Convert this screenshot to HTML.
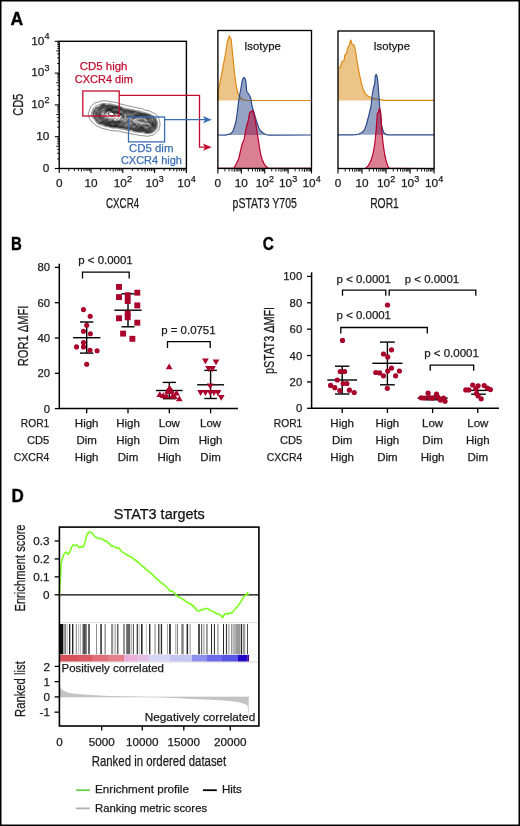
<!DOCTYPE html>
<html><head><meta charset="utf-8"><style>
html,body{margin:0;padding:0;background:#fff;}
body{width:520px;height:826px;overflow:hidden;font-family:"Liberation Sans", sans-serif;}
svg{display:block;will-change:transform;}
</style></head><body>
<svg width="520" height="826" viewBox="0 0 520 826" font-family='"Liberation Sans", sans-serif'><rect x="0.75" y="0.75" width="518.50" height="824.50" fill="none" stroke="#000" stroke-width="1.5" />
<text x="10.60" y="25.40" font-size="17.8" text-anchor="start" fill="#000" font-weight="bold" textLength="12.70" lengthAdjust="spacingAndGlyphs" stroke="#000" stroke-width="0.35">A</text>
<text x="11.00" y="250.20" font-size="17.8" text-anchor="start" fill="#000" font-weight="bold" textLength="10.80" lengthAdjust="spacingAndGlyphs" stroke="#000" stroke-width="0.35">B</text>
<text x="262.80" y="250.30" font-size="17.8" text-anchor="start" fill="#000" font-weight="bold" textLength="11.10" lengthAdjust="spacingAndGlyphs" stroke="#000" stroke-width="0.35">C</text>
<text x="11.60" y="501.60" font-size="17.8" text-anchor="start" fill="#000" font-weight="bold" textLength="12.30" lengthAdjust="spacingAndGlyphs" stroke="#000" stroke-width="0.35">D</text>
<rect x="59.20" y="41.30" width="127.20" height="127.20" fill="none" stroke="#000" stroke-width="1.4" />
<line x1="59.20" y1="168.50" x2="59.20" y2="173.10" stroke="#000" stroke-width="1.1" />
<line x1="91.00" y1="168.50" x2="91.00" y2="173.10" stroke="#000" stroke-width="1.1" />
<line x1="122.80" y1="168.50" x2="122.80" y2="173.10" stroke="#000" stroke-width="1.1" />
<line x1="154.60" y1="168.50" x2="154.60" y2="173.10" stroke="#000" stroke-width="1.1" />
<line x1="186.40" y1="168.50" x2="186.40" y2="173.10" stroke="#000" stroke-width="1.1" />
<line x1="68.77" y1="168.50" x2="68.77" y2="171.10" stroke="#000" stroke-width="0.9" />
<line x1="74.37" y1="168.50" x2="74.37" y2="171.10" stroke="#000" stroke-width="0.9" />
<line x1="78.35" y1="168.50" x2="78.35" y2="171.10" stroke="#000" stroke-width="0.9" />
<line x1="81.43" y1="168.50" x2="81.43" y2="171.70" stroke="#000" stroke-width="0.9" />
<line x1="83.95" y1="168.50" x2="83.95" y2="171.10" stroke="#000" stroke-width="0.9" />
<line x1="86.07" y1="168.50" x2="86.07" y2="171.10" stroke="#000" stroke-width="0.9" />
<line x1="87.92" y1="168.50" x2="87.92" y2="171.10" stroke="#000" stroke-width="0.9" />
<line x1="89.54" y1="168.50" x2="89.54" y2="171.10" stroke="#000" stroke-width="0.9" />
<line x1="100.57" y1="168.50" x2="100.57" y2="171.10" stroke="#000" stroke-width="0.9" />
<line x1="106.17" y1="168.50" x2="106.17" y2="171.10" stroke="#000" stroke-width="0.9" />
<line x1="110.15" y1="168.50" x2="110.15" y2="171.10" stroke="#000" stroke-width="0.9" />
<line x1="113.23" y1="168.50" x2="113.23" y2="171.70" stroke="#000" stroke-width="0.9" />
<line x1="115.75" y1="168.50" x2="115.75" y2="171.10" stroke="#000" stroke-width="0.9" />
<line x1="117.87" y1="168.50" x2="117.87" y2="171.10" stroke="#000" stroke-width="0.9" />
<line x1="119.72" y1="168.50" x2="119.72" y2="171.10" stroke="#000" stroke-width="0.9" />
<line x1="121.34" y1="168.50" x2="121.34" y2="171.10" stroke="#000" stroke-width="0.9" />
<line x1="132.37" y1="168.50" x2="132.37" y2="171.10" stroke="#000" stroke-width="0.9" />
<line x1="137.97" y1="168.50" x2="137.97" y2="171.10" stroke="#000" stroke-width="0.9" />
<line x1="141.95" y1="168.50" x2="141.95" y2="171.10" stroke="#000" stroke-width="0.9" />
<line x1="145.03" y1="168.50" x2="145.03" y2="171.70" stroke="#000" stroke-width="0.9" />
<line x1="147.55" y1="168.50" x2="147.55" y2="171.10" stroke="#000" stroke-width="0.9" />
<line x1="149.67" y1="168.50" x2="149.67" y2="171.10" stroke="#000" stroke-width="0.9" />
<line x1="151.52" y1="168.50" x2="151.52" y2="171.10" stroke="#000" stroke-width="0.9" />
<line x1="153.14" y1="168.50" x2="153.14" y2="171.10" stroke="#000" stroke-width="0.9" />
<line x1="164.17" y1="168.50" x2="164.17" y2="171.10" stroke="#000" stroke-width="0.9" />
<line x1="169.77" y1="168.50" x2="169.77" y2="171.10" stroke="#000" stroke-width="0.9" />
<line x1="173.75" y1="168.50" x2="173.75" y2="171.10" stroke="#000" stroke-width="0.9" />
<line x1="176.83" y1="168.50" x2="176.83" y2="171.70" stroke="#000" stroke-width="0.9" />
<line x1="179.35" y1="168.50" x2="179.35" y2="171.10" stroke="#000" stroke-width="0.9" />
<line x1="181.47" y1="168.50" x2="181.47" y2="171.10" stroke="#000" stroke-width="0.9" />
<line x1="183.32" y1="168.50" x2="183.32" y2="171.10" stroke="#000" stroke-width="0.9" />
<line x1="184.94" y1="168.50" x2="184.94" y2="171.10" stroke="#000" stroke-width="0.9" />
<line x1="54.80" y1="168.50" x2="59.20" y2="168.50" stroke="#000" stroke-width="1.1" />
<line x1="54.80" y1="136.70" x2="59.20" y2="136.70" stroke="#000" stroke-width="1.1" />
<line x1="54.80" y1="104.90" x2="59.20" y2="104.90" stroke="#000" stroke-width="1.1" />
<line x1="54.80" y1="73.10" x2="59.20" y2="73.10" stroke="#000" stroke-width="1.1" />
<line x1="54.80" y1="41.30" x2="59.20" y2="41.30" stroke="#000" stroke-width="1.1" />
<line x1="57.20" y1="158.93" x2="59.20" y2="158.93" stroke="#000" stroke-width="0.9" />
<line x1="57.20" y1="153.33" x2="59.20" y2="153.33" stroke="#000" stroke-width="0.9" />
<line x1="57.20" y1="149.35" x2="59.20" y2="149.35" stroke="#000" stroke-width="0.9" />
<line x1="56.20" y1="146.27" x2="59.20" y2="146.27" stroke="#000" stroke-width="0.9" />
<line x1="57.20" y1="143.75" x2="59.20" y2="143.75" stroke="#000" stroke-width="0.9" />
<line x1="57.20" y1="141.63" x2="59.20" y2="141.63" stroke="#000" stroke-width="0.9" />
<line x1="57.20" y1="139.78" x2="59.20" y2="139.78" stroke="#000" stroke-width="0.9" />
<line x1="57.20" y1="138.16" x2="59.20" y2="138.16" stroke="#000" stroke-width="0.9" />
<line x1="57.20" y1="127.13" x2="59.20" y2="127.13" stroke="#000" stroke-width="0.9" />
<line x1="57.20" y1="121.53" x2="59.20" y2="121.53" stroke="#000" stroke-width="0.9" />
<line x1="57.20" y1="117.55" x2="59.20" y2="117.55" stroke="#000" stroke-width="0.9" />
<line x1="56.20" y1="114.47" x2="59.20" y2="114.47" stroke="#000" stroke-width="0.9" />
<line x1="57.20" y1="111.95" x2="59.20" y2="111.95" stroke="#000" stroke-width="0.9" />
<line x1="57.20" y1="109.83" x2="59.20" y2="109.83" stroke="#000" stroke-width="0.9" />
<line x1="57.20" y1="107.98" x2="59.20" y2="107.98" stroke="#000" stroke-width="0.9" />
<line x1="57.20" y1="106.36" x2="59.20" y2="106.36" stroke="#000" stroke-width="0.9" />
<line x1="57.20" y1="95.33" x2="59.20" y2="95.33" stroke="#000" stroke-width="0.9" />
<line x1="57.20" y1="89.73" x2="59.20" y2="89.73" stroke="#000" stroke-width="0.9" />
<line x1="57.20" y1="85.75" x2="59.20" y2="85.75" stroke="#000" stroke-width="0.9" />
<line x1="56.20" y1="82.67" x2="59.20" y2="82.67" stroke="#000" stroke-width="0.9" />
<line x1="57.20" y1="80.15" x2="59.20" y2="80.15" stroke="#000" stroke-width="0.9" />
<line x1="57.20" y1="78.03" x2="59.20" y2="78.03" stroke="#000" stroke-width="0.9" />
<line x1="57.20" y1="76.18" x2="59.20" y2="76.18" stroke="#000" stroke-width="0.9" />
<line x1="57.20" y1="74.56" x2="59.20" y2="74.56" stroke="#000" stroke-width="0.9" />
<line x1="57.20" y1="63.53" x2="59.20" y2="63.53" stroke="#000" stroke-width="0.9" />
<line x1="57.20" y1="57.93" x2="59.20" y2="57.93" stroke="#000" stroke-width="0.9" />
<line x1="57.20" y1="53.95" x2="59.20" y2="53.95" stroke="#000" stroke-width="0.9" />
<line x1="56.20" y1="50.87" x2="59.20" y2="50.87" stroke="#000" stroke-width="0.9" />
<line x1="57.20" y1="48.35" x2="59.20" y2="48.35" stroke="#000" stroke-width="0.9" />
<line x1="57.20" y1="46.23" x2="59.20" y2="46.23" stroke="#000" stroke-width="0.9" />
<line x1="57.20" y1="44.38" x2="59.20" y2="44.38" stroke="#000" stroke-width="0.9" />
<line x1="57.20" y1="42.76" x2="59.20" y2="42.76" stroke="#000" stroke-width="0.9" />
<text x="49.30" y="171.70" font-size="11.8" text-anchor="end" fill="#1a1a1a" stroke="#1a1a1a" stroke-width="0.25" >0</text>
<text x="49.30" y="139.90" font-size="11.8" text-anchor="end" fill="#1a1a1a" stroke="#1a1a1a" stroke-width="0.25" >10</text>
<text x="31.17" y="108.10" font-size="11.8" text-anchor="start" fill="#1a1a1a" stroke="#1a1a1a" stroke-width="0.25" >10</text>
<text x="44.50" y="102.80" font-size="9.0" text-anchor="start" fill="#1a1a1a" stroke="#1a1a1a" stroke-width="0.25" >2</text>
<text x="31.17" y="76.30" font-size="11.8" text-anchor="start" fill="#1a1a1a" stroke="#1a1a1a" stroke-width="0.25" >10</text>
<text x="44.50" y="71.00" font-size="9.0" text-anchor="start" fill="#1a1a1a" stroke="#1a1a1a" stroke-width="0.25" >3</text>
<text x="31.17" y="44.50" font-size="11.8" text-anchor="start" fill="#1a1a1a" stroke="#1a1a1a" stroke-width="0.25" >10</text>
<text x="44.50" y="39.20" font-size="9.0" text-anchor="start" fill="#1a1a1a" stroke="#1a1a1a" stroke-width="0.25" >4</text>
<text x="59.20" y="187.20" font-size="11.8" text-anchor="middle" fill="#1a1a1a" stroke="#1a1a1a" stroke-width="0.25" >0</text>
<text x="91.00" y="187.20" font-size="11.8" text-anchor="middle" fill="#1a1a1a" stroke="#1a1a1a" stroke-width="0.25" >10</text>
<text x="113.74" y="187.20" font-size="11.8" text-anchor="start" fill="#1a1a1a" stroke="#1a1a1a" stroke-width="0.25" >10</text>
<text x="127.06" y="181.90" font-size="9.0" text-anchor="start" fill="#1a1a1a" stroke="#1a1a1a" stroke-width="0.25" >2</text>
<text x="145.54" y="187.20" font-size="11.8" text-anchor="start" fill="#1a1a1a" stroke="#1a1a1a" stroke-width="0.25" >10</text>
<text x="158.86" y="181.90" font-size="9.0" text-anchor="start" fill="#1a1a1a" stroke="#1a1a1a" stroke-width="0.25" >3</text>
<text x="177.34" y="187.20" font-size="11.8" text-anchor="start" fill="#1a1a1a" stroke="#1a1a1a" stroke-width="0.25" >10</text>
<text x="190.66" y="181.90" font-size="9.0" text-anchor="start" fill="#1a1a1a" stroke="#1a1a1a" stroke-width="0.25" >4</text>
<text x="122.60" y="208.40" font-size="14" text-anchor="middle" fill="#1a1a1a" stroke="#1a1a1a" stroke-width="0.25" textLength="33.20" lengthAdjust="spacingAndGlyphs" >CXCR4</text>
<text x="22.60" y="104.80" font-size="14" text-anchor="middle" fill="#1a1a1a" stroke="#1a1a1a" stroke-width="0.25" textLength="22.00" lengthAdjust="spacingAndGlyphs" transform="rotate(-90 22.60 104.80)" >CD5</text>
<g fill="none" stroke="#111" stroke-width="0.5"><path d="M147.50,136.26 L146.80,136.25 L146.25,136.18 L145.50,136.02 L145.00,135.91 L144.25,135.81 L143.50,135.77 L143.00,135.75 L142.25,135.68 L141.50,135.61 L140.75,135.55 L140.10,135.50 L139.50,135.42 L138.75,135.27 L138.25,135.16 L137.57,135.00 L137.00,134.85 L136.50,134.71 L135.75,134.52 L135.25,134.43 L134.50,134.37 L133.75,134.35 L133.00,134.28 L132.50,134.18 L131.91,134.00 L131.25,133.75 L130.75,133.58 L130.25,133.43 L129.50,133.31 L128.75,133.26 L128.25,133.23 L127.50,133.14 L126.78,133.00 L126.25,132.87 L125.75,132.73 L125.00,132.54 L124.50,132.42 L123.75,132.27 L123.25,132.19 L122.50,132.08 L122.00,132.00 L121.25,131.82 L120.75,131.65 L120.25,131.47 L119.60,131.25 L119.00,131.11 L118.25,131.01 L117.75,130.95 L117.00,130.87 L116.25,130.81 L115.50,130.82 L114.75,130.84 L114.00,130.81 L113.36,130.75 L112.75,130.69 L112.00,130.65 L111.25,130.62 L110.50,130.54 L110.00,130.42 L109.50,130.24 L108.91,130.00 L108.27,129.75 L107.75,129.60 L107.25,129.49 L106.50,129.36 L105.96,129.25 L105.25,129.09 L104.75,128.97 L104.00,128.77 L103.50,128.65 L102.90,128.50 L102.25,128.34 L101.75,128.19 L101.25,127.99 L100.72,127.75 L100.20,127.50 L99.62,127.25 L99.00,127.02 L98.50,126.85 L98.00,126.67 L97.50,126.46 L97.00,126.20 L96.50,125.88 L96.00,125.50 L95.70,125.25 L95.25,124.84 L94.88,124.50 L94.50,124.17 L94.00,123.82 L93.50,123.53 L93.03,123.25 L92.69,123.00 L92.25,122.53 L92.00,122.17 L91.75,121.75 L91.45,121.25 L91.13,120.75 L90.75,120.25 L90.50,119.93 L90.17,119.50 L89.81,119.00 L89.50,118.50 L89.25,118.00 L89.04,117.50 L88.86,117.00 L88.69,116.50 L88.50,115.80 L88.38,115.25 L88.30,114.50 L88.36,113.75 L88.50,113.19 L88.75,112.50 L88.94,112.00 L89.12,111.50 L89.27,111.00 L89.45,110.25 L89.59,109.75 L89.76,109.25 L90.00,108.63 L90.25,108.00 L90.45,107.50 L90.66,107.00 L90.93,106.50 L91.25,106.07 L91.56,105.75 L92.00,105.37 L92.46,105.00 L92.75,104.75 L93.24,104.25 L93.50,103.97 L93.97,103.50 L94.29,103.25 L94.75,102.97 L95.28,102.75 L96.00,102.56 L96.50,102.47 L97.25,102.34 L97.75,102.23 L98.50,102.02 L99.00,101.85 L99.50,101.65 L100.00,101.43 L100.50,101.22 L101.15,101.00 L101.75,100.88 L102.50,100.84 L103.25,100.86 L104.00,100.89 L104.75,100.89 L105.50,100.87 L106.25,100.87 L107.00,100.96 L107.50,101.05 L108.25,101.23 L108.75,101.35 L109.31,101.50 L110.00,101.65 L110.60,101.75 L111.25,101.80 L112.00,101.85 L112.75,101.93 L113.25,102.02 L114.00,102.15 L114.75,102.25 L115.25,102.30 L116.00,102.42 L116.50,102.55 L117.07,102.75 L117.67,103.00 L118.25,103.25 L118.75,103.45 L119.25,103.65 L119.75,103.82 L120.34,104.00 L121.00,104.16 L121.50,104.25 L122.25,104.37 L122.99,104.50 L123.50,104.62 L124.00,104.78 L124.61,105.00 L125.25,105.23 L125.75,105.38 L126.25,105.50 L127.00,105.62 L127.75,105.73 L128.25,105.83 L128.82,106.00 L129.50,106.19 L130.00,106.29 L130.75,106.36 L131.50,106.42 L132.00,106.51 L132.75,106.74 L133.25,106.93 L133.75,107.12 L134.25,107.29 L135.00,107.47 L135.50,107.56 L136.25,107.69 L136.75,107.78 L137.50,107.95 L138.00,108.06 L138.75,108.19 L139.25,108.25 L140.00,108.33 L140.75,108.42 L141.25,108.51 L142.00,108.70 L142.50,108.86 L143.00,109.05 L143.50,109.26 L144.04,109.50 L144.55,109.75 L145.07,110.00 L145.67,110.25 L146.25,110.41 L146.77,110.50 L147.50,110.59 L148.25,110.70 L148.75,110.82 L149.28,111.00 L149.86,111.25 L150.37,111.50 L150.88,111.75 L151.43,112.00 L152.00,112.24 L152.50,112.45 L153.00,112.68 L153.50,112.93 L154.00,113.22 L154.44,113.50 L154.80,113.75 L155.25,114.08 L155.75,114.44 L156.17,114.75 L156.50,115.00 L157.00,115.38 L157.42,115.75 L157.75,116.10 L158.06,116.50 L158.34,117.00 L158.54,117.50 L158.75,118.25 L158.87,118.75 L159.00,119.31 L159.16,120.00 L159.29,120.50 L159.50,121.25 L159.64,121.75 L159.76,122.25 L159.90,123.00 L159.97,123.75 L159.97,124.50 L159.89,125.25 L159.78,126.00 L159.71,126.50 L159.57,127.25 L159.45,127.75 L159.25,128.36 L159.00,129.00 L158.79,129.50 L158.54,130.00 L158.25,130.47 L158.00,130.79 L157.57,131.25 L157.25,131.56 L156.76,132.00 L156.48,132.25 L156.00,132.66 L155.60,133.00 L155.25,133.32 L154.84,133.75 L154.50,134.10 L154.04,134.50 L153.66,134.75 L153.07,135.00 L152.50,135.15 L151.83,135.25 L151.25,135.35 L150.64,135.50 L150.00,135.72 L149.50,135.90 L149.00,136.05 L148.25,136.19 L147.65,136.25 Z"/><path d="M149.25,133.51 L148.50,133.64 L147.75,133.70 L147.00,133.69 L146.25,133.60 L145.73,133.50 L145.00,133.35 L144.50,133.25 L143.75,133.08 L143.25,132.93 L142.68,132.75 L142.00,132.58 L141.38,132.50 L140.75,132.47 L140.00,132.48 L139.25,132.48 L138.50,132.43 L137.75,132.31 L137.25,132.22 L136.50,132.13 L135.75,132.07 L135.00,132.00 L134.50,131.92 L133.81,131.75 L133.25,131.54 L132.75,131.32 L132.25,131.10 L131.75,130.93 L131.00,130.80 L130.25,130.77 L129.75,130.75 L129.00,130.69 L128.25,130.57 L127.75,130.45 L127.00,130.26 L126.50,130.15 L125.75,130.00 L125.25,129.88 L124.75,129.72 L124.09,129.50 L123.50,129.36 L122.75,129.30 L122.00,129.28 L121.50,129.21 L120.75,129.05 L120.25,128.93 L119.50,128.76 L119.00,128.65 L118.41,128.50 L117.75,128.29 L117.25,128.13 L116.66,128.00 L116.00,127.97 L115.50,128.02 L114.75,128.12 L114.00,128.18 L113.25,128.14 L112.50,128.01 L112.00,127.90 L111.36,127.75 L110.75,127.62 L110.25,127.47 L109.64,127.25 L109.00,127.00 L108.50,126.86 L107.81,126.75 L107.25,126.73 L106.50,126.68 L105.75,126.57 L105.25,126.44 L104.64,126.25 L104.00,126.04 L103.50,125.88 L103.00,125.69 L102.50,125.47 L102.00,125.23 L101.45,125.00 L100.75,124.79 L100.25,124.68 L99.51,124.50 L99.00,124.34 L98.50,124.14 L98.00,123.88 L97.50,123.56 L97.09,123.25 L96.75,122.95 L96.31,122.50 L96.00,122.12 L95.72,121.75 L95.39,121.25 L95.08,120.75 L94.75,120.25 L94.50,119.91 L94.15,119.50 L93.75,119.06 L93.47,118.75 L93.04,118.25 L92.75,117.91 L92.41,117.50 L92.04,117.00 L91.75,116.52 L91.52,116.00 L91.39,115.50 L91.34,114.75 L91.43,114.00 L91.54,113.50 L91.72,112.75 L91.84,112.25 L92.00,111.51 L92.12,111.00 L92.29,110.50 L92.52,110.00 L92.79,109.50 L93.08,109.00 L93.38,108.50 L93.72,108.00 L94.00,107.64 L94.36,107.25 L94.75,106.87 L95.19,106.50 L95.52,106.25 L96.00,105.96 L96.51,105.75 L97.25,105.55 L97.75,105.39 L98.25,105.16 L98.75,104.88 L99.25,104.61 L99.75,104.40 L100.25,104.24 L101.00,104.03 L101.50,103.88 L102.00,103.72 L102.75,103.51 L103.25,103.43 L104.00,103.44 L104.53,103.50 L105.25,103.64 L105.75,103.76 L106.50,103.93 L107.06,104.00 L107.73,104.00 L108.25,103.95 L109.00,103.89 L109.75,103.89 L110.50,103.96 L111.00,104.04 L111.75,104.21 L112.25,104.36 L112.75,104.52 L113.50,104.73 L114.00,104.83 L114.75,104.95 L115.25,105.02 L116.00,105.17 L116.50,105.28 L117.25,105.45 L117.75,105.56 L118.49,105.75 L119.00,105.91 L119.50,106.09 L120.00,106.28 L120.60,106.50 L121.25,106.74 L121.75,106.94 L122.25,107.16 L122.75,107.40 L123.25,107.63 L123.75,107.83 L124.38,108.00 L125.00,108.13 L125.58,108.25 L126.25,108.42 L126.75,108.55 L127.50,108.74 L128.00,108.85 L128.71,109.00 L129.25,109.10 L130.00,109.23 L130.50,109.31 L131.25,109.44 L131.75,109.52 L132.50,109.64 L133.07,109.75 L133.75,109.92 L134.25,110.07 L134.80,110.25 L135.50,110.44 L136.00,110.54 L136.75,110.65 L137.50,110.73 L138.00,110.77 L138.75,110.83 L139.50,110.93 L140.00,111.06 L140.50,111.26 L141.00,111.50 L141.70,111.75 L142.25,111.88 L142.75,112.00 L143.50,112.22 L144.00,112.40 L144.50,112.57 L145.04,112.75 L145.75,112.94 L146.25,113.06 L146.98,113.25 L147.50,113.40 L148.00,113.57 L148.57,113.75 L149.25,113.97 L149.75,114.14 L150.25,114.36 L150.75,114.61 L151.25,114.89 L151.75,115.15 L152.25,115.36 L152.75,115.55 L153.29,115.75 L153.88,116.00 L154.34,116.25 L154.75,116.52 L155.25,116.97 L155.50,117.27 L155.79,117.75 L156.03,118.25 L156.25,118.81 L156.50,119.48 L156.69,120.00 L156.86,120.50 L157.03,121.00 L157.25,121.65 L157.45,122.25 L157.59,122.75 L157.73,123.50 L157.78,124.00 L157.79,124.75 L157.75,125.27 L157.64,126.00 L157.50,126.61 L157.31,127.25 L157.12,127.75 L156.92,128.25 L156.69,128.75 L156.44,129.25 L156.14,129.75 L155.76,130.25 L155.50,130.54 L155.00,130.99 L154.67,131.25 L154.25,131.55 L153.75,131.91 L153.29,132.25 L152.93,132.50 L152.47,132.75 L151.75,132.99 L151.25,133.09 L150.50,133.23 L150.00,133.34 L149.28,133.50 Z"/><path d="M148.75,132.76 L148.00,132.83 L147.25,132.82 L146.66,132.75 L146.00,132.62 L145.50,132.47 L144.83,132.25 L144.25,132.04 L143.75,131.86 L143.25,131.72 L142.50,131.63 L141.75,131.62 L141.00,131.63 L140.25,131.62 L139.50,131.60 L138.75,131.55 L138.25,131.49 L137.50,131.37 L136.75,131.27 L136.25,131.22 L135.50,131.16 L134.75,131.04 L134.25,130.90 L133.75,130.70 L133.25,130.47 L132.75,130.22 L132.25,129.98 L131.52,129.75 L131.00,129.70 L130.25,129.72 L129.50,129.73 L128.75,129.63 L128.25,129.49 L127.50,129.26 L127.00,129.15 L126.25,129.05 L125.75,128.98 L125.00,128.77 L124.50,128.58 L124.00,128.41 L123.29,128.25 L122.75,128.20 L122.00,128.18 L121.25,128.13 L120.50,128.02 L120.00,127.94 L119.25,127.79 L118.75,127.67 L118.18,127.50 L117.50,127.31 L117.00,127.19 L116.25,127.12 L115.50,127.16 L114.75,127.23 L114.25,127.27 L113.54,127.25 L113.00,127.18 L112.25,127.03 L111.75,126.92 L111.00,126.78 L110.50,126.68 L109.88,126.50 L109.25,126.28 L108.75,126.11 L108.25,125.98 L107.50,125.89 L106.75,125.84 L106.10,125.75 L105.50,125.59 L105.00,125.42 L104.50,125.21 L104.00,124.98 L103.50,124.73 L103.00,124.47 L102.50,124.24 L101.75,124.02 L101.25,123.91 L100.50,123.76 L100.00,123.65 L99.43,123.50 L98.75,123.25 L98.25,123.00 L97.85,122.75 L97.50,122.48 L97.01,122.00 L96.75,121.68 L96.45,121.25 L96.16,120.75 L95.88,120.25 L95.57,119.75 L95.25,119.33 L94.97,119.00 L94.55,118.50 L94.25,118.10 L94.00,117.75 L93.67,117.25 L93.34,116.75 L93.06,116.25 L92.86,115.75 L92.75,115.13 L92.72,114.50 L92.74,113.75 L92.78,113.25 L92.89,112.50 L93.01,112.00 L93.25,111.27 L93.49,110.75 L93.75,110.29 L94.00,109.84 L94.25,109.36 L94.50,108.89 L94.75,108.49 L95.17,108.00 L95.50,107.72 L96.00,107.41 L96.50,107.24 L97.25,107.14 L98.00,107.05 L98.50,106.84 L98.96,106.50 L99.25,106.21 L99.72,105.75 L100.05,105.50 L100.50,105.23 L101.02,105.00 L101.68,104.75 L102.25,104.54 L102.75,104.38 L103.50,104.25 L103.78,104.25 L104.50,104.35 L105.00,104.50 L105.64,104.75 L106.25,104.95 L106.75,105.05 L107.50,105.06 L108.03,105.00 L108.75,104.88 L109.50,104.82 L110.25,104.87 L110.82,105.00 L111.50,105.22 L112.00,105.38 L112.50,105.53 L113.25,105.70 L113.75,105.78 L114.50,105.89 L115.20,106.00 L115.75,106.10 L116.46,106.25 L117.00,106.36 L117.61,106.50 L118.25,106.67 L118.75,106.84 L119.25,107.03 L119.90,107.25 L120.50,107.44 L121.00,107.60 L121.50,107.81 L122.00,108.06 L122.50,108.36 L123.00,108.67 L123.50,108.94 L124.00,109.13 L124.50,109.27 L125.25,109.40 L125.87,109.50 L126.50,109.59 L127.25,109.69 L127.75,109.76 L128.50,109.89 L129.00,110.00 L129.75,110.18 L130.25,110.32 L131.00,110.50 L131.50,110.59 L132.25,110.67 L133.00,110.74 L133.50,110.80 L134.25,110.96 L134.75,111.10 L135.26,111.25 L136.00,111.46 L136.50,111.58 L137.25,111.68 L138.00,111.74 L138.50,111.80 L139.25,111.98 L139.75,112.20 L140.25,112.46 L140.75,112.67 L141.25,112.80 L142.00,112.91 L142.54,113.00 L143.25,113.18 L143.75,113.32 L144.41,113.50 L145.00,113.64 L145.50,113.77 L146.25,113.96 L146.75,114.09 L147.29,114.25 L148.00,114.46 L148.50,114.61 L149.00,114.76 L149.61,115.00 L150.11,115.25 L150.56,115.50 L151.00,115.75 L151.50,116.00 L152.09,116.25 L152.75,116.50 L153.25,116.70 L153.75,116.95 L154.19,117.25 L154.50,117.53 L154.87,118.00 L155.16,118.50 L155.40,119.00 L155.61,119.50 L155.82,120.00 L156.01,120.50 L156.25,121.23 L156.40,121.75 L156.53,122.25 L156.69,123.00 L156.75,123.60 L156.75,124.18 L156.70,124.75 L156.61,125.50 L156.51,126.25 L156.41,126.75 L156.25,127.30 L156.00,127.92 L155.75,128.46 L155.50,128.96 L155.25,129.40 L155.00,129.77 L154.57,130.25 L154.25,130.53 L153.75,130.90 L153.28,131.25 L152.95,131.50 L152.50,131.81 L152.00,132.07 L151.45,132.25 L150.75,132.39 L150.15,132.50 L149.50,132.63 L148.81,132.75 Z"/><path d="M148.50,132.50 L147.75,132.55 L147.00,132.51 L146.50,132.43 L145.79,132.25 L145.25,132.07 L144.75,131.88 L144.25,131.67 L143.75,131.48 L143.00,131.30 L142.25,131.28 L141.50,131.32 L140.75,131.34 L140.00,131.32 L139.25,131.29 L138.73,131.25 L138.00,131.16 L137.25,131.04 L136.75,130.97 L136.00,130.90 L135.25,130.82 L134.75,130.72 L134.07,130.50 L133.50,130.25 L133.00,130.00 L132.51,129.75 L132.00,129.53 L131.50,129.39 L130.75,129.33 L130.00,129.36 L129.25,129.33 L128.75,129.24 L128.00,129.01 L127.50,128.86 L126.92,128.75 L126.25,128.68 L125.50,128.56 L125.00,128.41 L124.50,128.23 L123.75,128.00 L123.25,127.92 L122.50,127.87 L121.75,127.84 L121.00,127.77 L120.50,127.71 L119.75,127.58 L119.25,127.48 L118.50,127.30 L118.00,127.16 L117.35,127.00 L116.75,126.90 L116.00,126.87 L115.25,126.92 L114.50,126.98 L113.75,126.98 L113.00,126.89 L112.28,126.75 L111.75,126.65 L111.00,126.53 L110.50,126.43 L109.88,126.25 L109.25,126.02 L108.75,125.84 L108.25,125.70 L107.50,125.60 L106.75,125.55 L106.25,125.48 L105.50,125.28 L105.00,125.09 L104.50,124.86 L104.00,124.60 L103.50,124.32 L103.00,124.06 L102.50,123.88 L102.00,123.75 L101.25,123.60 L100.74,123.50 L100.00,123.33 L99.50,123.18 L99.00,122.99 L98.50,122.75 L98.00,122.43 L97.50,122.01 L97.25,121.75 L96.86,121.25 L96.55,120.75 L96.26,120.25 L96.00,119.82 L95.75,119.46 L95.38,119.00 L95.00,118.54 L94.75,118.22 L94.44,117.75 L94.15,117.25 L93.89,116.75 L93.63,116.25 L93.44,115.75 L93.30,115.00 L93.25,114.50 L93.22,113.75 L93.25,113.02 L93.33,112.50 L93.50,111.88 L93.75,111.25 L94.00,110.78 L94.25,110.34 L94.50,109.87 L94.75,109.37 L95.00,108.91 L95.29,108.50 L95.75,108.08 L96.25,107.80 L96.75,107.67 L97.50,107.60 L98.21,107.50 L98.75,107.26 L99.09,107.00 L99.50,106.59 L99.81,106.25 L100.25,105.84 L100.74,105.50 L101.23,105.25 L101.75,105.03 L102.25,104.84 L102.75,104.68 L103.50,104.55 L104.25,104.61 L104.75,104.75 L105.36,105.00 L106.00,105.25 L106.50,105.37 L107.25,105.42 L108.00,105.35 L108.68,105.25 L109.25,105.19 L110.00,105.21 L110.50,105.30 L111.17,105.50 L111.75,105.69 L112.25,105.83 L113.00,105.98 L113.50,106.06 L114.25,106.17 L114.82,106.25 L115.50,106.37 L116.14,106.50 L116.75,106.63 L117.27,106.75 L118.00,106.95 L118.50,107.12 L119.00,107.30 L119.60,107.50 L120.25,107.68 L120.75,107.83 L121.25,108.02 L121.75,108.26 L122.25,108.56 L122.75,108.88 L123.25,109.19 L123.75,109.42 L124.25,109.59 L124.98,109.75 L125.50,109.84 L126.25,109.93 L126.97,110.00 L127.50,110.06 L128.25,110.17 L128.75,110.27 L129.50,110.46 L130.00,110.60 L130.54,110.75 L131.25,110.91 L131.92,111.00 L132.50,111.04 L133.25,111.09 L134.00,111.21 L134.50,111.34 L135.02,111.50 L135.75,111.75 L136.25,111.90 L136.80,112.00 L137.50,112.07 L138.25,112.13 L138.84,112.25 L139.50,112.50 L139.99,112.75 L140.50,112.96 L141.00,113.09 L141.75,113.20 L142.25,113.29 L143.00,113.47 L143.50,113.61 L144.03,113.75 L144.75,113.91 L145.25,114.02 L146.00,114.20 L146.50,114.33 L147.10,114.50 L147.75,114.69 L148.25,114.83 L148.78,115.00 L149.43,115.25 L149.94,115.50 L150.38,115.75 L150.82,116.00 L151.31,116.25 L151.89,116.50 L152.50,116.73 L153.00,116.93 L153.50,117.18 L153.97,117.50 L154.25,117.76 L154.64,118.25 L154.92,118.75 L155.16,119.25 L155.38,119.75 L155.59,120.25 L155.78,120.75 L156.00,121.43 L156.15,122.00 L156.26,122.50 L156.35,123.25 L156.36,124.00 L156.28,124.75 L156.23,125.25 L156.17,126.00 L156.05,126.75 L155.90,127.25 L155.69,127.75 L155.45,128.25 L155.19,128.75 L154.90,129.25 L154.54,129.75 L154.25,130.06 L153.75,130.48 L153.40,130.75 L153.00,131.06 L152.50,131.44 L152.00,131.74 L151.50,131.93 L151.00,132.06 L150.25,132.19 L149.75,132.29 L149.00,132.43 L148.50,132.50 Z"/><path d="M148.00,132.25 L147.36,132.25 L146.75,132.19 L146.00,132.02 L145.50,131.85 L145.00,131.65 L144.50,131.43 L144.00,131.21 L143.35,131.00 L142.75,130.92 L142.00,130.96 L141.50,131.01 L140.75,131.04 L140.00,131.03 L139.26,131.00 L138.75,130.96 L138.00,130.87 L137.25,130.75 L136.75,130.68 L136.00,130.60 L135.25,130.51 L134.75,130.40 L134.25,130.25 L133.65,130.00 L133.14,129.75 L132.66,129.50 L132.14,129.25 L131.50,129.04 L131.00,128.98 L130.25,128.98 L129.50,128.97 L128.75,128.85 L128.25,128.70 L127.57,128.50 L127.00,128.39 L126.25,128.32 L125.73,128.25 L125.00,128.06 L124.50,127.88 L124.00,127.73 L123.25,127.61 L122.50,127.56 L121.75,127.53 L121.25,127.49 L120.50,127.40 L119.75,127.27 L119.25,127.18 L118.50,127.00 L118.00,126.88 L117.38,126.75 L116.75,126.66 L116.00,126.64 L115.25,126.68 L114.50,126.72 L113.75,126.71 L113.00,126.62 L112.36,126.50 L111.75,126.40 L111.00,126.29 L110.50,126.19 L109.85,126.00 L109.25,125.77 L108.75,125.58 L108.25,125.43 L107.50,125.31 L106.78,125.25 L106.25,125.17 L105.61,125.00 L105.00,124.76 L104.50,124.51 L104.05,124.25 L103.63,124.00 L103.13,123.75 L102.50,123.55 L102.00,123.44 L101.25,123.31 L100.75,123.20 L100.00,123.00 L99.50,122.83 L99.00,122.61 L98.50,122.32 L98.06,122.00 L97.75,121.71 L97.34,121.25 L97.00,120.79 L96.75,120.39 L96.50,119.98 L96.19,119.50 L95.80,119.00 L95.50,118.64 L95.19,118.25 L94.87,117.75 L94.62,117.25 L94.42,116.75 L94.24,116.25 L94.02,115.50 L93.92,115.00 L93.80,114.25 L93.74,113.75 L93.74,113.00 L93.81,112.50 L94.00,111.85 L94.25,111.27 L94.50,110.81 L94.75,110.37 L95.00,109.90 L95.25,109.42 L95.50,109.00 L95.97,108.50 L96.42,108.25 L97.00,108.11 L97.75,108.05 L98.25,107.96 L98.76,107.75 L99.25,107.40 L99.66,107.00 L100.00,106.61 L100.34,106.25 L100.75,105.90 L101.25,105.58 L101.75,105.33 L102.25,105.14 L102.75,104.98 L103.50,104.85 L104.25,104.94 L104.75,105.11 L105.25,105.33 L105.75,105.53 L106.50,105.72 L107.00,105.76 L107.51,105.75 L108.25,105.66 L109.00,105.57 L109.75,105.56 L110.50,105.69 L111.00,105.84 L111.53,106.00 L112.25,106.18 L112.75,106.26 L113.50,106.36 L114.25,106.46 L114.75,106.53 L115.50,106.67 L116.00,106.78 L116.75,106.94 L117.25,107.06 L117.89,107.25 L118.50,107.47 L119.00,107.65 L119.50,107.81 L120.25,108.00 L120.75,108.14 L121.25,108.32 L121.75,108.58 L122.25,108.89 L122.75,109.23 L123.18,109.50 L123.68,109.75 L124.25,109.95 L124.75,110.08 L125.50,110.22 L126.00,110.28 L126.75,110.34 L127.50,110.40 L128.23,110.50 L128.75,110.61 L129.32,110.75 L130.00,110.94 L130.50,111.08 L131.23,111.25 L131.75,111.32 L132.50,111.37 L133.25,111.41 L133.87,111.50 L134.50,111.66 L135.00,111.85 L135.50,112.06 L136.00,112.25 L136.75,112.42 L137.50,112.47 L138.00,112.50 L138.75,112.64 L139.25,112.82 L139.75,113.04 L140.31,113.25 L141.00,113.40 L141.64,113.50 L142.25,113.62 L142.75,113.76 L143.50,113.98 L144.00,114.09 L144.75,114.23 L145.25,114.33 L145.98,114.50 L146.50,114.64 L147.00,114.78 L147.75,115.00 L148.25,115.15 L148.75,115.32 L149.25,115.52 L149.75,115.76 L150.25,116.04 L150.75,116.31 L151.25,116.56 L151.75,116.78 L152.31,117.00 L152.89,117.25 L153.36,117.50 L153.75,117.78 L154.20,118.25 L154.50,118.70 L154.75,119.17 L155.00,119.69 L155.25,120.25 L155.45,120.75 L155.62,121.25 L155.76,121.75 L155.90,122.50 L155.97,123.25 L155.94,124.00 L155.86,124.75 L155.82,125.50 L155.78,126.25 L155.69,126.75 L155.50,127.33 L155.25,127.85 L155.00,128.30 L154.74,128.75 L154.42,129.25 L154.00,129.75 L153.74,130.00 L153.25,130.41 L152.84,130.75 L152.50,131.02 L152.00,131.37 L151.50,131.61 L151.00,131.75 L150.25,131.90 L149.71,132.00 L149.00,132.14 L148.25,132.24 Z"/><path d="M149.25,131.78 L148.50,131.91 L147.75,131.97 L147.00,131.93 L146.25,131.79 L145.75,131.64 L145.25,131.45 L144.75,131.22 L144.25,130.99 L143.65,130.75 L143.00,130.60 L142.25,130.61 L141.50,130.70 L140.75,130.74 L140.00,130.74 L139.25,130.71 L138.50,130.65 L137.75,130.55 L137.25,130.46 L136.50,130.35 L135.75,130.26 L135.25,130.19 L134.50,130.01 L134.00,129.84 L133.50,129.62 L133.00,129.36 L132.50,129.09 L132.00,128.87 L131.50,128.71 L130.75,128.62 L130.00,128.61 L129.25,128.56 L128.75,128.46 L128.03,128.25 L127.50,128.12 L126.75,128.01 L126.25,127.96 L125.50,127.84 L125.00,127.69 L124.38,127.50 L123.75,127.36 L123.00,127.29 L122.25,127.26 L121.75,127.23 L121.00,127.16 L120.25,127.05 L119.75,126.96 L119.00,126.82 L118.50,126.71 L117.75,126.56 L117.25,126.48 L116.50,126.42 L115.75,126.42 L115.00,126.45 L114.25,126.46 L113.50,126.41 L112.75,126.30 L112.25,126.22 L111.50,126.12 L110.75,126.01 L110.25,125.89 L109.75,125.73 L109.19,125.50 L108.55,125.25 L108.00,125.10 L107.32,125.00 L106.75,124.95 L106.00,124.82 L105.50,124.66 L105.00,124.44 L104.50,124.17 L104.00,123.86 L103.50,123.57 L103.00,123.37 L102.50,123.24 L101.75,123.11 L101.18,123.00 L100.50,122.83 L100.00,122.66 L99.50,122.45 L99.00,122.17 L98.50,121.81 L98.15,121.50 L97.75,121.07 L97.49,120.75 L97.13,120.25 L96.79,119.75 L96.50,119.33 L96.24,119.00 L95.83,118.50 L95.50,118.06 L95.25,117.62 L95.02,117.00 L94.89,116.50 L94.75,115.75 L94.66,115.25 L94.52,114.50 L94.41,114.00 L94.29,113.25 L94.33,112.50 L94.50,111.86 L94.75,111.28 L95.00,110.83 L95.25,110.40 L95.50,109.97 L95.78,109.50 L96.21,109.00 L96.62,108.75 L97.25,108.59 L97.94,108.50 L98.50,108.34 L99.00,108.07 L99.40,107.75 L99.75,107.41 L100.11,107.00 L100.50,106.57 L100.83,106.25 L101.25,105.93 L101.75,105.65 L102.25,105.44 L102.88,105.25 L103.50,105.17 L104.10,105.25 L104.75,105.48 L105.25,105.71 L105.75,105.90 L106.25,106.03 L107.00,106.10 L107.75,106.07 L108.33,106.00 L109.00,105.94 L109.75,105.95 L110.25,106.03 L111.00,106.23 L111.50,106.36 L112.18,106.50 L112.75,106.57 L113.50,106.65 L114.25,106.74 L114.75,106.81 L115.50,106.96 L116.00,107.07 L116.75,107.25 L117.25,107.38 L117.75,107.54 L118.32,107.75 L119.00,108.00 L119.50,108.13 L120.03,108.25 L120.75,108.44 L121.25,108.63 L121.75,108.89 L122.25,109.23 L122.64,109.50 L123.01,109.75 L123.50,110.02 L124.07,110.25 L124.75,110.44 L125.25,110.55 L126.00,110.67 L126.75,110.72 L127.28,110.75 L128.00,110.82 L128.75,110.95 L129.25,111.07 L129.92,111.25 L130.50,111.41 L131.00,111.53 L131.75,111.64 L132.50,111.69 L133.25,111.73 L133.75,111.81 L134.43,112.00 L134.99,112.25 L135.45,112.50 L136.00,112.75 L136.50,112.88 L137.25,112.92 L138.00,112.95 L138.50,113.02 L139.25,113.25 L139.75,113.43 L140.25,113.56 L141.00,113.70 L141.50,113.77 L142.25,113.95 L142.75,114.11 L143.25,114.28 L144.00,114.44 L144.50,114.52 L145.25,114.64 L145.75,114.75 L146.50,114.95 L147.00,115.10 L147.51,115.25 L148.25,115.49 L148.75,115.67 L149.25,115.89 L149.75,116.15 L150.25,116.42 L150.75,116.68 L151.25,116.92 L151.75,117.14 L152.25,117.35 L152.75,117.59 L153.25,117.89 L153.67,118.25 L154.00,118.64 L154.25,119.03 L154.50,119.51 L154.75,120.02 L155.00,120.57 L155.25,121.22 L155.40,121.75 L155.50,122.34 L155.54,123.00 L155.52,123.75 L155.48,124.25 L155.45,125.00 L155.45,125.75 L155.39,126.50 L155.25,127.00 L155.00,127.55 L154.75,128.00 L154.44,128.50 L154.11,129.00 L153.75,129.43 L153.43,129.75 L153.00,130.13 L152.57,130.50 L152.25,130.77 L151.75,131.12 L151.25,131.34 L150.69,131.50 L150.00,131.64 L149.41,131.75 Z"/><path d="M148.75,131.55 L148.00,131.64 L147.25,131.65 L146.50,131.56 L146.00,131.43 L145.50,131.25 L144.94,131.00 L144.41,130.75 L143.83,130.50 L143.25,130.33 L142.50,130.26 L141.75,130.33 L141.00,130.42 L140.25,130.44 L139.50,130.42 L138.75,130.39 L138.00,130.30 L137.50,130.21 L136.75,130.08 L136.23,130.00 L135.50,129.91 L134.75,129.76 L134.25,129.61 L133.75,129.42 L133.25,129.17 L132.75,128.90 L132.25,128.64 L131.75,128.45 L131.00,128.29 L130.50,128.25 L129.75,128.22 L129.00,128.12 L128.50,128.00 L127.75,127.80 L127.25,127.70 L126.50,127.61 L125.75,127.50 L125.25,127.38 L124.75,127.23 L124.00,127.06 L123.45,127.00 L122.75,126.98 L122.00,126.95 L121.25,126.88 L120.50,126.77 L120.00,126.68 L119.25,126.54 L118.75,126.45 L118.00,126.33 L117.40,126.25 L116.75,126.20 L116.00,126.18 L115.25,126.20 L114.50,126.21 L113.75,126.16 L113.00,126.06 L112.50,125.99 L111.75,125.90 L111.00,125.81 L110.50,125.72 L109.81,125.50 L109.25,125.26 L108.75,125.05 L108.25,124.87 L107.73,124.75 L107.00,124.67 L106.25,124.57 L105.75,124.44 L105.25,124.24 L104.75,123.98 L104.25,123.67 L103.75,123.37 L103.25,123.13 L102.75,122.99 L102.00,122.86 L101.41,122.75 L100.75,122.58 L100.25,122.40 L99.75,122.16 L99.25,121.84 L98.83,121.50 L98.50,121.17 L98.11,120.75 L97.75,120.32 L97.50,120.00 L97.12,119.50 L96.75,119.02 L96.50,118.71 L96.13,118.25 L95.80,117.75 L95.59,117.25 L95.48,116.75 L95.39,116.00 L95.31,115.25 L95.25,114.72 L95.11,114.00 L94.98,113.50 L94.87,112.75 L94.97,112.00 L95.15,111.50 L95.42,111.00 L95.74,110.50 L96.00,110.14 L96.33,109.75 L96.75,109.41 L97.25,109.21 L98.00,109.02 L98.50,108.83 L99.00,108.54 L99.36,108.25 L99.75,107.88 L100.09,107.50 L100.50,107.04 L100.76,106.75 L101.25,106.30 L101.71,106.00 L102.24,105.75 L102.75,105.60 L103.50,105.52 L104.25,105.68 L104.75,105.89 L105.25,106.10 L105.75,106.27 L106.50,106.42 L107.25,106.44 L108.00,106.39 L108.75,106.32 L109.50,106.32 L110.25,106.44 L110.75,106.56 L111.50,106.73 L112.00,106.81 L112.75,106.88 L113.50,106.94 L114.15,107.00 L114.75,107.09 L115.50,107.25 L116.00,107.37 L116.52,107.50 L117.25,107.70 L117.75,107.87 L118.25,108.07 L118.75,108.26 L119.50,108.45 L120.00,108.55 L120.75,108.74 L121.25,108.94 L121.75,109.22 L122.15,109.50 L122.50,109.75 L123.00,110.10 L123.50,110.38 L124.00,110.59 L124.52,110.75 L125.25,110.93 L125.75,111.03 L126.50,111.12 L127.25,111.15 L128.00,111.20 L128.50,111.26 L129.25,111.41 L129.75,111.54 L130.50,111.73 L131.00,111.84 L131.75,111.96 L132.30,112.00 L133.00,112.05 L133.75,112.17 L134.25,112.34 L134.75,112.61 L135.25,112.94 L135.75,113.23 L136.25,113.38 L137.00,113.43 L137.75,113.42 L138.50,113.49 L139.00,113.60 L139.59,113.75 L140.25,113.88 L141.00,113.98 L141.50,114.07 L142.14,114.25 L142.75,114.48 L143.25,114.64 L143.76,114.75 L144.50,114.85 L145.25,114.97 L145.75,115.08 L146.38,115.25 L147.00,115.44 L147.50,115.60 L148.00,115.78 L148.56,116.00 L149.11,116.25 L149.61,116.50 L150.10,116.75 L150.60,117.00 L151.13,117.25 L151.65,117.50 L152.16,117.75 L152.62,118.00 L153.00,118.26 L153.50,118.73 L153.75,119.07 L154.01,119.50 L154.28,120.00 L154.53,120.50 L154.75,121.01 L154.97,121.75 L155.05,122.25 L155.08,123.00 L155.06,123.75 L155.05,124.50 L155.07,125.25 L155.08,126.00 L155.00,126.56 L154.75,127.25 L154.50,127.71 L154.25,128.11 L154.00,128.50 L153.62,129.00 L153.25,129.39 L152.86,129.75 L152.50,130.06 L152.00,130.49 L151.63,130.75 L151.13,131.00 L150.50,131.19 L150.00,131.30 L149.25,131.45 L148.75,131.55 Z"/><path d="M148.25,131.28 L147.50,131.35 L146.75,131.30 L146.25,131.20 L145.63,131.00 L145.05,130.75 L144.52,130.50 L144.00,130.27 L143.50,130.10 L143.00,129.99 L142.25,129.96 L141.75,130.01 L141.00,130.09 L140.25,130.12 L139.50,130.12 L138.75,130.09 L138.00,130.00 L137.50,129.91 L136.75,129.76 L136.25,129.68 L135.50,129.57 L135.00,129.49 L134.25,129.30 L133.75,129.10 L133.25,128.85 L132.75,128.57 L132.25,128.31 L131.75,128.11 L131.25,127.98 L130.50,127.88 L129.75,127.83 L129.17,127.75 L128.50,127.60 L128.00,127.48 L127.25,127.33 L126.74,127.25 L126.00,127.13 L125.42,127.00 L124.75,126.82 L124.25,126.72 L123.50,126.67 L122.75,126.67 L122.00,126.65 L121.25,126.57 L120.75,126.49 L120.00,126.34 L119.50,126.24 L118.75,126.13 L118.00,126.04 L117.49,126.00 L116.75,125.96 L116.00,125.96 L115.25,125.97 L114.50,125.95 L113.75,125.88 L113.00,125.77 L112.50,125.70 L111.75,125.64 L111.00,125.57 L110.50,125.48 L109.81,125.25 L109.26,125.00 L108.75,124.77 L108.25,124.58 L107.75,124.45 L107.00,124.36 L106.25,124.27 L105.75,124.14 L105.25,123.94 L104.75,123.66 L104.25,123.34 L103.75,123.04 L103.25,122.82 L102.75,122.69 L102.00,122.57 L101.50,122.47 L100.78,122.25 L100.25,122.01 L99.83,121.75 L99.50,121.49 L99.00,121.00 L98.75,120.71 L98.34,120.25 L98.00,119.86 L97.70,119.50 L97.28,119.00 L97.00,118.66 L96.67,118.25 L96.33,117.75 L96.11,117.25 L96.00,116.72 L95.92,116.00 L95.85,115.25 L95.78,114.50 L95.70,114.00 L95.51,113.25 L95.41,112.75 L95.47,112.00 L95.65,111.50 L95.96,111.00 L96.25,110.64 L96.66,110.25 L97.03,110.00 L97.56,109.75 L98.17,109.50 L98.65,109.25 L99.02,109.00 L99.50,108.58 L99.81,108.25 L100.25,107.76 L100.50,107.47 L100.92,107.00 L101.25,106.68 L101.75,106.31 L102.25,106.06 L102.75,105.92 L103.50,105.88 L104.01,106.00 L104.64,106.25 L105.25,106.49 L105.75,106.64 L106.31,106.75 L107.00,106.80 L107.75,106.76 L108.25,106.71 L109.00,106.68 L109.75,106.74 L110.25,106.84 L110.99,107.00 L111.50,107.09 L112.25,107.16 L113.00,107.19 L113.75,107.23 L114.25,107.28 L115.00,107.42 L115.50,107.54 L116.25,107.73 L116.75,107.87 L117.25,108.02 L117.86,108.25 L118.47,108.50 L119.00,108.67 L119.50,108.77 L120.25,108.91 L120.75,109.05 L121.25,109.26 L121.75,109.56 L122.25,109.92 L122.69,110.25 L123.06,110.50 L123.52,110.75 L124.16,111.00 L124.75,111.18 L125.25,111.31 L126.00,111.47 L126.50,111.53 L127.25,111.56 L128.00,111.59 L128.75,111.67 L129.25,111.76 L130.00,111.93 L130.50,112.05 L131.25,112.20 L131.75,112.27 L132.50,112.34 L133.25,112.44 L133.75,112.57 L134.25,112.81 L134.75,113.16 L135.21,113.50 L135.68,113.75 L136.25,113.89 L137.00,113.91 L137.75,113.88 L138.50,113.92 L139.04,114.00 L139.75,114.10 L140.50,114.20 L141.00,114.26 L141.75,114.44 L142.25,114.63 L142.75,114.83 L143.29,115.00 L144.00,115.11 L144.75,115.20 L145.25,115.29 L146.00,115.48 L146.50,115.63 L147.00,115.80 L147.53,116.00 L148.13,116.25 L148.68,116.50 L149.21,116.75 L149.74,117.00 L150.25,117.24 L150.75,117.49 L151.25,117.75 L151.70,118.00 L152.11,118.25 L152.50,118.52 L153.00,118.94 L153.27,119.25 L153.61,119.75 L153.90,120.25 L154.15,120.75 L154.35,121.25 L154.50,121.85 L154.57,122.50 L154.61,123.25 L154.64,124.00 L154.69,124.75 L154.73,125.50 L154.69,126.25 L154.50,126.93 L154.25,127.44 L154.00,127.86 L153.74,128.25 L153.36,128.75 L153.00,129.13 L152.59,129.50 L152.25,129.79 L151.75,130.20 L151.29,130.50 L150.75,130.74 L150.25,130.89 L149.75,131.00 L149.00,131.15 L148.48,131.25 Z"/><path d="M147.50,131.01 L146.91,131.00 L146.25,130.89 L145.75,130.74 L145.16,130.50 L144.62,130.25 L144.05,130.00 L143.50,129.81 L143.00,129.70 L142.25,129.65 L141.50,129.71 L141.00,129.76 L140.25,129.80 L139.50,129.81 L138.75,129.79 L138.25,129.74 L137.50,129.60 L137.00,129.48 L136.25,129.33 L135.66,129.25 L135.00,129.15 L134.36,129.00 L133.75,128.77 L133.25,128.51 L132.80,128.25 L132.35,128.00 L131.77,127.75 L131.25,127.61 L130.56,127.50 L130.00,127.44 L129.25,127.34 L128.75,127.25 L128.00,127.08 L127.50,126.97 L126.75,126.81 L126.25,126.70 L125.50,126.51 L125.00,126.39 L124.25,126.29 L123.50,126.29 L122.75,126.34 L122.00,126.34 L121.28,126.25 L120.75,126.14 L120.16,126.00 L119.50,125.86 L118.75,125.77 L118.25,125.75 L117.50,125.73 L116.75,125.72 L116.00,125.72 L115.25,125.72 L114.50,125.68 L113.75,125.57 L113.25,125.49 L112.50,125.40 L111.75,125.37 L111.00,125.32 L110.50,125.22 L109.86,125.00 L109.32,124.75 L108.80,124.50 L108.25,124.29 L107.75,124.15 L107.00,124.05 L106.49,124.00 L105.75,123.84 L105.25,123.63 L104.75,123.34 L104.25,123.01 L103.80,122.75 L103.25,122.52 L102.75,122.39 L102.00,122.26 L101.50,122.14 L101.00,121.97 L100.50,121.71 L100.00,121.34 L99.65,121.00 L99.25,120.54 L99.00,120.24 L98.56,119.75 L98.25,119.41 L97.89,119.00 L97.50,118.54 L97.25,118.23 L96.91,117.75 L96.67,117.25 L96.50,116.58 L96.41,116.00 L96.32,115.25 L96.25,114.50 L96.18,114.00 L96.01,113.25 L95.91,112.75 L95.96,112.00 L96.17,111.50 L96.50,111.07 L96.86,110.75 L97.25,110.49 L97.75,110.23 L98.25,109.98 L98.75,109.68 L99.25,109.29 L99.55,109.00 L99.99,108.50 L100.25,108.19 L100.62,107.75 L101.00,107.32 L101.32,107.00 L101.75,106.66 L102.25,106.39 L102.80,106.25 L103.41,106.25 L104.00,106.40 L104.50,106.60 L105.00,106.79 L105.67,107.00 L106.25,107.12 L107.00,107.18 L107.75,107.13 L108.50,107.05 L109.25,107.06 L110.00,107.17 L110.50,107.27 L111.25,107.41 L112.00,107.48 L112.75,107.49 L113.46,107.50 L114.00,107.53 L114.75,107.65 L115.25,107.77 L116.00,107.98 L116.50,108.12 L117.00,108.27 L117.61,108.50 L118.19,108.75 L118.75,108.94 L119.25,109.05 L120.00,109.17 L120.50,109.29 L121.06,109.50 L121.50,109.75 L122.00,110.11 L122.50,110.50 L122.85,110.75 L123.27,111.00 L123.83,111.25 L124.50,111.48 L125.00,111.63 L125.50,111.77 L126.25,111.93 L127.00,111.99 L127.50,112.00 L128.25,112.01 L129.00,112.08 L129.75,112.21 L130.25,112.32 L131.00,112.48 L131.50,112.57 L132.25,112.66 L132.85,112.75 L133.50,112.93 L134.00,113.19 L134.44,113.50 L134.76,113.75 L135.25,114.06 L135.75,114.25 L136.50,114.34 L137.25,114.31 L138.00,114.29 L138.75,114.32 L139.50,114.38 L140.25,114.45 L140.75,114.50 L141.50,114.67 L142.00,114.86 L142.50,115.08 L143.00,115.27 L143.75,115.41 L144.50,115.49 L145.00,115.57 L145.74,115.75 L146.25,115.91 L146.75,116.10 L147.25,116.31 L147.75,116.54 L148.25,116.77 L148.75,117.01 L149.29,117.25 L149.86,117.50 L150.39,117.75 L150.83,118.00 L151.25,118.27 L151.75,118.63 L152.23,119.00 L152.53,119.25 L153.00,119.75 L153.25,120.09 L153.50,120.51 L153.75,121.05 L153.95,121.75 L154.03,122.25 L154.12,123.00 L154.23,123.75 L154.29,124.25 L154.36,125.00 L154.38,125.75 L154.27,126.50 L154.09,127.00 L153.82,127.50 L153.50,128.00 L153.25,128.34 L152.89,128.75 L152.50,129.11 L152.03,129.50 L151.71,129.75 L151.25,130.06 L150.75,130.32 L150.23,130.50 L149.50,130.68 L149.00,130.78 L148.25,130.92 L147.64,131.00 Z"/><path d="M148.25,130.53 L147.50,130.65 L146.75,130.65 L146.00,130.50 L145.50,130.33 L145.00,130.12 L144.50,129.89 L144.00,129.68 L143.42,129.50 L142.75,129.37 L142.00,129.35 L141.25,129.40 L140.50,129.45 L139.75,129.48 L139.00,129.48 L138.25,129.42 L137.50,129.26 L137.00,129.13 L136.45,129.00 L135.75,128.89 L135.00,128.79 L134.50,128.68 L133.98,128.50 L133.48,128.25 L133.00,127.96 L132.50,127.66 L132.00,127.42 L131.49,127.25 L130.75,127.09 L130.11,127.00 L129.50,126.92 L128.75,126.80 L128.25,126.70 L127.50,126.51 L127.00,126.35 L126.50,126.16 L126.00,125.96 L125.25,125.78 L124.50,125.76 L123.75,125.83 L123.00,125.93 L122.25,125.99 L121.50,125.92 L120.78,125.75 L120.25,125.59 L119.75,125.46 L119.00,125.38 L118.25,125.39 L117.50,125.43 L116.75,125.46 L116.00,125.48 L115.25,125.46 L114.50,125.38 L113.84,125.25 L113.25,125.11 L112.50,125.04 L111.75,125.06 L111.00,125.03 L110.50,124.94 L109.95,124.75 L109.42,124.50 L108.90,124.25 L108.29,124.00 L107.75,123.85 L107.13,123.75 L106.50,123.69 L105.75,123.52 L105.25,123.30 L104.75,123.01 L104.36,122.75 L103.93,122.50 L103.37,122.25 L102.75,122.08 L102.25,121.98 L101.50,121.77 L101.00,121.54 L100.58,121.25 L100.25,120.94 L99.85,120.50 L99.50,120.09 L99.20,119.75 L98.75,119.26 L98.50,118.99 L98.08,118.50 L97.75,118.08 L97.50,117.72 L97.25,117.24 L97.00,116.50 L96.89,116.00 L96.77,115.25 L96.72,114.75 L96.62,114.00 L96.50,113.42 L96.38,112.75 L96.46,112.00 L96.75,111.50 L97.00,111.24 L97.50,110.88 L98.00,110.60 L98.50,110.32 L98.99,110.00 L99.30,109.75 L99.75,109.29 L100.00,108.98 L100.36,108.50 L100.75,108.01 L101.00,107.72 L101.47,107.25 L101.78,107.00 L102.25,106.74 L103.00,106.59 L103.75,106.72 L104.25,106.91 L104.75,107.11 L105.25,107.29 L106.00,107.49 L106.50,107.57 L107.25,107.57 L107.86,107.50 L108.50,107.43 L109.25,107.43 L109.77,107.50 L110.50,107.64 L111.08,107.75 L111.75,107.82 L112.50,107.82 L113.25,107.80 L114.00,107.83 L114.75,107.96 L115.25,108.10 L115.76,108.25 L116.50,108.47 L117.00,108.64 L117.50,108.84 L118.00,109.07 L118.50,109.26 L119.25,109.41 L119.92,109.50 L120.50,109.64 L121.00,109.84 L121.50,110.14 L121.96,110.50 L122.27,110.75 L122.75,111.10 L123.25,111.39 L123.75,111.61 L124.25,111.78 L124.94,112.00 L125.50,112.17 L126.00,112.31 L126.75,112.43 L127.50,112.46 L128.25,112.45 L129.00,112.48 L129.50,112.54 L130.25,112.68 L130.75,112.79 L131.50,112.93 L132.00,113.01 L132.75,113.15 L133.25,113.32 L133.75,113.58 L134.25,113.92 L134.72,114.25 L135.20,114.50 L135.75,114.66 L136.50,114.72 L137.25,114.68 L138.00,114.65 L138.75,114.66 L139.50,114.69 L140.25,114.73 L140.75,114.79 L141.50,114.99 L142.00,115.21 L142.50,115.44 L143.00,115.61 L143.75,115.73 L144.25,115.78 L145.00,115.90 L145.50,116.04 L146.13,116.25 L146.73,116.50 L147.25,116.75 L147.74,117.00 L148.24,117.25 L148.75,117.48 L149.25,117.69 L149.75,117.90 L150.25,118.16 L150.75,118.48 L151.09,118.75 L151.50,119.09 L152.00,119.50 L152.29,119.75 L152.75,120.23 L153.00,120.60 L153.25,121.11 L153.44,121.75 L153.53,122.25 L153.69,123.00 L153.81,123.50 L153.95,124.25 L154.00,124.75 L154.04,125.50 L154.00,126.00 L153.80,126.75 L153.57,127.25 L153.26,127.75 L153.00,128.10 L152.64,128.50 L152.25,128.86 L151.75,129.25 L151.40,129.50 L151.00,129.75 L150.46,130.00 L149.75,130.22 L149.25,130.33 L148.50,130.48 Z"/><path d="M147.50,130.28 L146.75,130.31 L146.25,130.24 L145.50,130.02 L145.00,129.81 L144.50,129.59 L144.00,129.39 L143.50,129.23 L142.75,129.09 L142.00,129.04 L141.25,129.08 L140.50,129.13 L139.75,129.16 L139.00,129.16 L138.25,129.08 L137.75,128.98 L137.00,128.76 L136.50,128.64 L135.75,128.52 L135.25,128.45 L134.50,128.30 L134.00,128.11 L133.50,127.83 L133.00,127.50 L132.60,127.25 L132.08,127.00 L131.50,126.81 L131.00,126.69 L130.25,126.53 L129.75,126.45 L129.00,126.35 L128.40,126.25 L127.75,126.08 L127.25,125.86 L126.75,125.56 L126.27,125.25 L125.75,125.06 L125.00,125.07 L124.25,125.22 L123.75,125.33 L123.02,125.50 L122.50,125.58 L121.75,125.56 L121.25,125.46 L120.65,125.25 L120.00,125.03 L119.50,124.94 L118.75,124.96 L118.25,125.03 L117.50,125.13 L116.75,125.20 L116.00,125.23 L115.25,125.20 L114.50,125.08 L114.00,124.93 L113.43,124.75 L112.75,124.63 L112.00,124.69 L111.25,124.75 L110.50,124.64 L110.00,124.47 L109.50,124.24 L108.99,124.00 L108.39,123.75 L107.75,123.55 L107.25,123.46 L106.50,123.37 L105.91,123.25 L105.29,123.00 L104.86,122.75 L104.47,122.50 L104.00,122.22 L103.50,121.99 L102.75,121.76 L102.25,121.64 L101.75,121.47 L101.25,121.21 L100.75,120.81 L100.44,120.50 L100.00,120.01 L99.75,119.74 L99.30,119.25 L99.00,118.92 L98.63,118.50 L98.25,118.01 L98.00,117.63 L97.75,117.16 L97.50,116.52 L97.35,116.00 L97.25,115.50 L97.14,114.75 L97.04,114.00 L96.94,113.50 L96.82,112.75 L96.96,112.00 L97.25,111.60 L97.67,111.25 L98.06,111.00 L98.50,110.75 L99.00,110.44 L99.50,110.06 L99.80,109.75 L100.18,109.25 L100.50,108.79 L100.75,108.44 L101.10,108.00 L101.50,107.59 L101.94,107.25 L102.50,107.00 L103.00,106.94 L103.50,107.02 L104.13,107.25 L104.73,107.50 L105.25,107.70 L105.75,107.86 L106.50,108.00 L106.95,108.00 L107.50,107.94 L108.25,107.81 L109.00,107.76 L109.75,107.83 L110.50,107.99 L111.00,108.08 L111.75,108.16 L112.50,108.15 L113.25,108.12 L114.00,108.14 L114.61,108.25 L115.25,108.44 L115.75,108.61 L116.25,108.77 L116.89,109.00 L117.44,109.25 L117.98,109.50 L118.50,109.67 L119.00,109.75 L119.75,109.83 L120.48,110.00 L121.00,110.24 L121.39,110.50 L121.75,110.78 L122.25,111.19 L122.69,111.50 L123.14,111.75 L123.75,112.00 L124.25,112.16 L124.75,112.32 L125.29,112.50 L126.00,112.73 L126.50,112.84 L127.25,112.92 L128.00,112.91 L128.75,112.89 L129.50,112.95 L130.00,113.03 L130.75,113.19 L131.25,113.28 L132.00,113.42 L132.50,113.53 L133.11,113.75 L133.59,114.00 L134.00,114.26 L134.50,114.57 L135.00,114.82 L135.62,115.00 L136.25,115.05 L137.00,115.02 L137.50,115.00 L138.25,114.97 L139.00,114.96 L139.75,114.98 L140.25,115.01 L141.00,115.13 L141.50,115.31 L142.00,115.55 L142.50,115.78 L143.25,115.98 L143.75,116.04 L144.50,116.13 L145.06,116.25 L145.75,116.47 L146.25,116.67 L146.75,116.91 L147.25,117.17 L147.75,117.43 L148.25,117.68 L148.75,117.90 L149.25,118.11 L149.75,118.34 L150.25,118.64 L150.71,119.00 L151.00,119.26 L151.50,119.69 L151.87,120.00 L152.25,120.36 L152.57,120.75 L152.83,121.25 L153.00,121.78 L153.18,122.50 L153.32,123.00 L153.50,123.62 L153.64,124.25 L153.72,125.00 L153.70,125.75 L153.53,126.50 L153.32,127.00 L153.02,127.50 L152.75,127.87 L152.41,128.25 L152.00,128.62 L151.50,129.00 L151.12,129.25 L150.66,129.50 L150.03,129.75 L149.50,129.89 L148.94,130.00 L148.25,130.14 L147.68,130.25 Z"/><path d="M148.00,129.79 L147.25,129.92 L146.50,129.94 L145.75,129.78 L145.25,129.59 L144.75,129.38 L144.25,129.18 L143.72,129.00 L143.00,128.83 L142.25,128.75 L141.75,128.75 L141.25,128.77 L140.50,128.81 L139.75,128.84 L139.00,128.83 L138.37,128.75 L137.75,128.60 L137.25,128.45 L136.50,128.25 L136.00,128.16 L135.25,128.04 L134.75,127.93 L134.25,127.75 L133.75,127.44 L133.25,127.07 L132.75,126.76 L132.25,126.55 L131.75,126.40 L131.21,126.25 L130.50,126.06 L130.00,125.93 L129.25,125.81 L128.68,125.75 L128.00,125.58 L127.50,125.33 L127.05,125.00 L126.72,124.75 L126.25,124.48 L125.50,124.37 L124.84,124.50 L124.25,124.67 L123.75,124.82 L123.09,125.00 L122.50,125.11 L121.75,125.09 L121.25,124.96 L120.75,124.75 L120.03,124.50 L119.50,124.45 L118.92,124.50 L118.25,124.64 L117.75,124.75 L117.00,124.88 L116.25,124.95 L115.50,124.95 L114.75,124.82 L114.25,124.65 L113.75,124.42 L113.25,124.22 L112.50,124.17 L112.00,124.27 L111.25,124.39 L110.50,124.32 L110.00,124.16 L109.50,123.94 L109.00,123.72 L108.48,123.50 L107.75,123.26 L107.25,123.15 L106.50,123.05 L106.00,122.95 L105.47,122.75 L105.00,122.50 L104.50,122.19 L104.00,121.90 L103.50,121.67 L103.00,121.50 L102.25,121.26 L101.75,121.03 L101.34,120.75 L101.00,120.46 L100.54,120.00 L100.25,119.70 L99.82,119.25 L99.50,118.91 L99.13,118.50 L98.75,118.01 L98.50,117.64 L98.25,117.18 L98.00,116.58 L97.82,116.00 L97.71,115.50 L97.59,114.75 L97.50,114.15 L97.37,113.50 L97.27,112.75 L97.50,112.00 L97.75,111.71 L98.25,111.33 L98.75,111.02 L99.18,110.75 L99.53,110.50 L100.00,110.07 L100.25,109.74 L100.55,109.25 L100.86,108.75 L101.24,108.25 L101.50,107.97 L102.00,107.57 L102.50,107.35 L103.25,107.33 L103.79,107.50 L104.37,107.75 L104.93,108.00 L105.50,108.23 L106.00,108.37 L106.75,108.42 L107.50,108.31 L108.00,108.20 L108.75,108.09 L109.50,108.12 L110.23,108.25 L110.75,108.36 L111.50,108.47 L112.25,108.50 L113.00,108.46 L113.75,108.46 L114.25,108.53 L115.00,108.74 L115.50,108.94 L116.00,109.13 L116.50,109.33 L117.00,109.56 L117.50,109.81 L118.00,110.02 L118.75,110.15 L119.50,110.21 L120.00,110.28 L120.62,110.50 L121.04,110.75 L121.50,111.11 L121.97,111.50 L122.31,111.75 L122.75,112.01 L123.30,112.25 L124.00,112.48 L124.50,112.63 L125.00,112.80 L125.52,113.00 L126.23,113.25 L126.75,113.37 L127.50,113.44 L128.25,113.42 L129.00,113.41 L129.75,113.49 L130.25,113.59 L131.00,113.73 L131.50,113.81 L132.25,113.97 L132.75,114.12 L133.25,114.33 L133.75,114.59 L134.25,114.87 L134.75,115.11 L135.25,115.27 L136.00,115.35 L136.75,115.33 L137.50,115.29 L138.25,115.27 L139.00,115.25 L139.75,115.26 L140.50,115.32 L141.17,115.50 L141.71,115.75 L142.19,116.00 L142.75,116.21 L143.25,116.31 L144.00,116.38 L144.73,116.50 L145.25,116.64 L145.75,116.83 L146.25,117.05 L146.75,117.30 L147.25,117.57 L147.75,117.83 L148.25,118.08 L148.75,118.30 L149.25,118.53 L149.75,118.80 L150.25,119.16 L150.64,119.50 L151.00,119.83 L151.49,120.25 L151.77,120.50 L152.21,121.00 L152.48,121.50 L152.65,122.00 L152.81,122.50 L153.00,123.06 L153.23,123.75 L153.35,124.25 L153.43,125.00 L153.38,125.75 L153.25,126.29 L153.00,126.88 L152.75,127.30 L152.41,127.75 L152.00,128.16 L151.60,128.50 L151.25,128.75 L150.75,129.06 L150.25,129.29 L149.53,129.50 L149.00,129.60 L148.25,129.74 Z"/><path d="M147.25,129.53 L146.50,129.57 L146.00,129.50 L145.25,129.26 L144.75,129.05 L144.25,128.86 L143.75,128.70 L143.00,128.54 L142.50,128.48 L141.75,128.46 L141.00,128.49 L140.50,128.51 L139.75,128.53 L139.12,128.50 L138.50,128.41 L137.85,128.25 L137.25,128.07 L136.75,127.93 L136.00,127.77 L135.50,127.66 L134.94,127.50 L134.44,127.25 L134.00,126.91 L133.50,126.51 L133.00,126.26 L132.50,126.11 L132.00,125.99 L131.25,125.78 L130.75,125.61 L130.25,125.43 L129.57,125.25 L129.00,125.17 L128.25,125.03 L127.75,124.78 L127.36,124.50 L127.00,124.24 L126.50,123.98 L125.75,123.84 L125.00,123.95 L124.50,124.11 L124.00,124.28 L123.25,124.49 L122.75,124.59 L122.00,124.61 L121.50,124.49 L120.90,124.25 L120.25,124.04 L119.75,123.99 L119.25,124.03 L118.50,124.19 L118.00,124.32 L117.36,124.50 L116.75,124.62 L116.00,124.69 L115.25,124.63 L114.75,124.50 L114.21,124.25 L113.75,123.99 L113.25,123.74 L112.50,123.68 L112.00,123.82 L111.35,124.00 L110.75,124.03 L110.25,123.93 L109.74,123.75 L109.13,123.50 L108.51,123.25 L108.00,123.06 L107.50,122.90 L106.75,122.76 L106.25,122.67 L105.68,122.50 L105.16,122.25 L104.73,122.00 L104.25,121.72 L103.75,121.47 L103.23,121.25 L102.58,121.00 L102.06,120.75 L101.68,120.50 L101.25,120.15 L100.81,119.75 L100.50,119.45 L100.04,119.00 L99.75,118.69 L99.38,118.25 L99.01,117.75 L98.75,117.32 L98.50,116.78 L98.31,116.25 L98.19,115.75 L98.08,115.00 L98.00,114.41 L97.87,113.75 L97.75,113.13 L97.75,112.67 L98.00,112.08 L98.32,111.75 L98.75,111.44 L99.25,111.12 L99.75,110.77 L100.08,110.50 L100.49,110.00 L100.75,109.53 L101.00,109.06 L101.25,108.67 L101.61,108.25 L102.00,107.92 L102.50,107.69 L103.25,107.69 L103.75,107.86 L104.25,108.09 L104.75,108.35 L105.25,108.59 L105.75,108.76 L106.50,108.82 L107.06,108.75 L107.75,108.59 L108.25,108.47 L109.00,108.38 L109.75,108.44 L110.25,108.55 L111.00,108.71 L111.50,108.78 L112.25,108.83 L113.00,108.81 L113.75,108.83 L114.50,108.99 L115.00,109.19 L115.50,109.43 L116.00,109.66 L116.50,109.91 L117.00,110.16 L117.50,110.39 L118.00,110.53 L118.75,110.61 L119.50,110.65 L120.01,110.75 L120.57,111.00 L121.00,111.31 L121.50,111.73 L121.86,112.00 L122.25,112.25 L122.76,112.50 L123.50,112.74 L124.00,112.87 L124.50,113.02 L125.09,113.25 L125.63,113.50 L126.19,113.75 L126.75,113.92 L127.35,114.00 L128.00,114.01 L128.75,114.02 L129.50,114.10 L130.25,114.25 L130.75,114.32 L131.50,114.39 L132.22,114.50 L132.75,114.64 L133.25,114.82 L133.75,115.05 L134.25,115.28 L134.89,115.50 L135.50,115.61 L136.25,115.63 L137.00,115.59 L137.75,115.56 L138.50,115.54 L139.25,115.53 L140.00,115.54 L140.75,115.67 L141.25,115.86 L141.75,116.12 L142.25,116.38 L142.75,116.55 L143.50,116.66 L144.25,116.73 L144.75,116.83 L145.30,117.00 L145.91,117.25 L146.43,117.50 L146.91,117.75 L147.38,118.00 L147.86,118.25 L148.38,118.50 L148.91,118.75 L149.37,119.00 L149.75,119.25 L150.25,119.68 L150.60,120.00 L151.00,120.36 L151.44,120.75 L151.75,121.08 L152.04,121.50 L152.27,122.00 L152.50,122.59 L152.75,123.21 L152.95,123.75 L153.08,124.25 L153.16,125.00 L153.08,125.75 L152.94,126.25 L152.71,126.75 L152.39,127.25 L152.00,127.70 L151.69,128.00 L151.25,128.35 L150.75,128.68 L150.25,128.93 L149.75,129.10 L149.00,129.24 L148.50,129.31 L147.75,129.44 L147.25,129.53 Z"/><path d="M147.75,129.02 L147.00,129.14 L146.25,129.14 L145.61,129.00 L145.00,128.78 L144.50,128.60 L144.00,128.44 L143.25,128.28 L142.75,128.22 L142.00,128.18 L141.25,128.20 L140.50,128.23 L139.75,128.22 L139.00,128.14 L138.40,128.00 L137.75,127.81 L137.25,127.67 L136.55,127.50 L136.00,127.36 L135.50,127.20 L135.00,126.93 L134.52,126.50 L134.25,126.24 L133.75,125.91 L133.20,125.75 L132.50,125.63 L131.90,125.50 L131.25,125.28 L130.75,125.06 L130.25,124.82 L129.75,124.63 L129.25,124.49 L128.50,124.31 L128.00,124.09 L127.50,123.82 L127.00,123.60 L126.50,123.44 L125.75,123.35 L125.00,123.47 L124.50,123.65 L124.00,123.84 L123.44,124.00 L122.75,124.12 L122.00,124.08 L121.50,123.93 L121.00,123.74 L120.25,123.57 L119.50,123.60 L118.75,123.74 L118.25,123.88 L117.75,124.03 L117.00,124.25 L116.50,124.35 L115.75,124.39 L115.00,124.25 L114.50,124.03 L114.05,123.75 L113.65,123.50 L113.01,123.25 L112.50,123.24 L112.00,123.38 L111.50,123.55 L110.75,123.67 L110.00,123.54 L109.50,123.38 L109.00,123.19 L108.50,122.99 L107.91,122.75 L107.25,122.53 L106.75,122.42 L106.00,122.25 L105.50,122.07 L105.00,121.82 L104.50,121.54 L104.00,121.27 L103.50,121.02 L103.00,120.79 L102.50,120.55 L102.01,120.25 L101.68,120.00 L101.25,119.66 L100.77,119.25 L100.50,119.00 L100.01,118.50 L99.75,118.19 L99.42,117.75 L99.11,117.25 L98.87,116.75 L98.71,116.25 L98.56,115.50 L98.50,114.87 L98.43,114.25 L98.29,113.50 L98.23,113.00 L98.32,112.50 L98.67,112.00 L99.00,111.73 L99.50,111.37 L100.00,111.02 L100.33,110.75 L100.75,110.26 L101.00,109.78 L101.24,109.25 L101.50,108.82 L101.77,108.50 L102.25,108.15 L103.00,108.01 L103.75,108.25 L104.21,108.50 L104.63,108.75 L105.09,109.00 L105.75,109.19 L106.50,109.18 L107.25,109.03 L107.75,108.89 L108.28,108.75 L109.00,108.65 L109.75,108.71 L110.25,108.82 L111.00,108.99 L111.50,109.08 L112.25,109.15 L113.00,109.18 L113.75,109.24 L114.25,109.38 L114.75,109.60 L115.25,109.86 L115.75,110.12 L116.25,110.37 L116.75,110.61 L117.25,110.82 L118.00,111.00 L118.50,111.04 L119.25,111.10 L119.87,111.25 L120.35,111.50 L120.75,111.81 L121.25,112.22 L121.66,112.50 L122.12,112.75 L122.75,113.00 L123.25,113.13 L123.81,113.25 L124.50,113.45 L125.00,113.68 L125.50,113.99 L125.92,114.25 L126.45,114.50 L127.00,114.61 L127.75,114.65 L128.50,114.68 L129.04,114.75 L129.75,114.88 L130.50,114.99 L131.00,115.01 L131.75,115.02 L132.50,115.11 L133.05,115.25 L133.75,115.49 L134.25,115.66 L134.75,115.79 L135.50,115.89 L136.25,115.88 L137.00,115.85 L137.75,115.83 L138.50,115.83 L139.25,115.81 L140.00,115.83 L140.75,115.98 L141.25,116.20 L141.75,116.49 L142.25,116.75 L142.75,116.91 L143.50,117.00 L144.00,117.04 L144.75,117.18 L145.25,117.34 L145.75,117.54 L146.25,117.77 L146.75,118.02 L147.25,118.28 L147.75,118.54 L148.25,118.79 L148.75,119.04 L149.25,119.35 L149.75,119.74 L150.04,120.00 L150.50,120.44 L150.84,120.75 L151.25,121.13 L151.57,121.50 L151.88,122.00 L152.12,122.50 L152.35,123.00 L152.58,123.50 L152.75,124.00 L152.88,124.75 L152.84,125.50 L152.71,126.00 L152.49,126.50 L152.17,127.00 L151.75,127.49 L151.48,127.75 L151.00,128.15 L150.50,128.46 L150.00,128.68 L149.50,128.82 L148.75,128.91 L148.00,128.98 Z"/><path d="M149.25,128.51 L148.50,128.53 L147.75,128.53 L147.00,128.60 L146.25,128.63 L145.52,128.50 L145.00,128.34 L144.50,128.18 L143.75,128.02 L143.25,127.95 L142.50,127.90 L141.75,127.90 L141.00,127.93 L140.25,127.94 L139.50,127.87 L138.98,127.75 L138.25,127.52 L137.75,127.38 L137.17,127.25 L136.50,127.10 L136.00,126.94 L135.50,126.68 L135.01,126.25 L134.75,125.98 L134.25,125.58 L133.75,125.38 L133.02,125.25 L132.50,125.17 L131.82,125.00 L131.25,124.75 L130.81,124.50 L130.40,124.25 L129.98,124.00 L129.50,123.72 L129.00,123.45 L128.48,123.25 L127.75,123.12 L127.00,123.01 L126.50,122.93 L125.75,122.85 L125.00,122.99 L124.50,123.19 L124.00,123.40 L123.50,123.55 L122.75,123.65 L122.00,123.55 L121.50,123.39 L121.00,123.24 L120.25,123.15 L119.50,123.22 L119.00,123.32 L118.25,123.50 L117.75,123.64 L117.25,123.81 L116.58,124.00 L116.00,124.08 L115.28,124.00 L114.75,123.79 L114.27,123.50 L113.90,123.25 L113.43,123.00 L112.75,122.85 L112.00,122.97 L111.50,123.15 L111.00,123.29 L110.25,123.29 L109.75,123.19 L109.17,123.00 L108.56,122.75 L108.00,122.50 L107.50,122.29 L107.00,122.11 L106.50,121.99 L105.75,121.79 L105.25,121.59 L104.75,121.34 L104.25,121.06 L103.75,120.79 L103.25,120.52 L102.77,120.25 L102.37,120.00 L102.00,119.75 L101.50,119.40 L101.00,119.01 L100.70,118.75 L100.25,118.29 L100.00,118.00 L99.64,117.50 L99.36,117.00 L99.15,116.50 L99.00,115.94 L98.92,115.25 L98.89,114.50 L98.82,113.75 L98.76,113.00 L99.00,112.35 L99.31,112.00 L99.75,111.64 L100.25,111.27 L100.59,111.00 L101.00,110.56 L101.25,110.13 L101.50,109.51 L101.75,109.05 L102.00,108.75 L102.50,108.45 L103.25,108.47 L103.75,108.70 L104.21,109.00 L104.59,109.25 L105.10,109.50 L105.75,109.60 L106.50,109.51 L107.00,109.39 L107.50,109.25 L108.25,109.03 L108.75,108.93 L109.50,108.94 L110.00,109.02 L110.75,109.21 L111.25,109.32 L112.00,109.44 L112.50,109.51 L113.25,109.61 L113.82,109.75 L114.42,110.00 L114.93,110.25 L115.46,110.50 L116.00,110.74 L116.50,110.96 L117.00,111.15 L117.50,111.30 L118.25,111.43 L118.84,111.50 L119.50,111.65 L120.00,111.91 L120.46,112.25 L120.77,112.50 L121.25,112.83 L121.75,113.12 L122.25,113.34 L122.75,113.50 L123.50,113.65 L124.00,113.77 L124.56,114.00 L125.00,114.31 L125.46,114.75 L125.75,115.01 L126.47,115.25 L127.00,115.25 L127.50,115.24 L128.20,115.25 L128.75,115.30 L129.50,115.43 L130.00,115.51 L130.75,115.56 L131.50,115.58 L132.25,115.64 L132.94,115.75 L133.50,115.87 L134.05,116.00 L134.75,116.12 L135.50,116.16 L136.25,116.14 L137.00,116.10 L137.75,116.10 L138.50,116.12 L139.25,116.12 L140.00,116.15 L140.51,116.25 L141.10,116.50 L141.52,116.75 L142.00,117.04 L142.50,117.25 L143.25,117.39 L144.00,117.44 L144.50,117.51 L145.25,117.73 L145.75,117.93 L146.25,118.16 L146.75,118.40 L147.25,118.64 L147.75,118.89 L148.25,119.15 L148.75,119.44 L149.18,119.75 L149.50,120.03 L149.99,120.50 L150.26,120.75 L150.75,121.20 L151.06,121.50 L151.46,122.00 L151.75,122.48 L152.00,122.93 L152.25,123.43 L152.48,124.00 L152.59,124.50 L152.59,125.25 L152.48,125.75 L152.25,126.28 L151.95,126.75 L151.53,127.25 L151.25,127.52 L150.75,127.94 L150.25,128.24 L149.75,128.42 L149.25,128.51 Z"/><path d="M149.75,128.07 L149.00,128.15 L148.25,128.03 L147.75,127.90 L147.00,127.78 L146.25,127.85 L145.50,127.84 L144.87,127.75 L144.25,127.66 L143.50,127.60 L142.75,127.59 L142.00,127.60 L141.25,127.64 L140.50,127.65 L139.75,127.57 L139.25,127.43 L138.75,127.23 L138.09,127.00 L137.50,126.90 L136.75,126.78 L136.25,126.63 L135.75,126.36 L135.34,126.00 L135.00,125.65 L134.50,125.25 L134.00,125.03 L133.50,124.91 L132.75,124.77 L132.25,124.64 L131.75,124.44 L131.25,124.15 L130.75,123.79 L130.38,123.50 L130.00,123.18 L129.50,122.80 L129.00,122.58 L128.50,122.49 L127.75,122.49 L127.00,122.48 L126.25,122.38 L125.50,122.32 L124.84,122.50 L124.34,122.75 L123.79,123.00 L123.25,123.15 L122.50,123.15 L121.89,123.00 L121.25,122.82 L120.75,122.75 L120.25,122.76 L119.50,122.87 L118.87,123.00 L118.25,123.13 L117.75,123.25 L117.00,123.49 L116.50,123.64 L115.75,123.73 L115.00,123.54 L114.50,123.26 L114.10,123.00 L113.66,122.75 L113.00,122.53 L112.25,122.55 L111.57,122.75 L111.00,122.93 L110.25,122.99 L109.50,122.85 L109.00,122.67 L108.50,122.45 L108.00,122.20 L107.50,121.94 L107.00,121.72 L106.25,121.51 L105.75,121.39 L105.25,121.21 L104.75,120.98 L104.25,120.70 L103.75,120.39 L103.25,120.07 L102.77,119.75 L102.39,119.50 L101.98,119.25 L101.50,118.95 L101.00,118.57 L100.65,118.25 L100.25,117.80 L100.00,117.46 L99.72,117.00 L99.50,116.50 L99.31,115.75 L99.28,115.00 L99.29,114.25 L99.26,113.50 L99.36,112.75 L99.66,112.25 L100.00,111.92 L100.50,111.51 L100.84,111.25 L101.25,110.86 L101.53,110.50 L101.77,110.00 L102.00,109.46 L102.44,109.00 L103.00,108.91 L103.50,109.11 L104.00,109.45 L104.45,109.75 L105.00,109.97 L105.50,110.01 L106.00,109.95 L106.75,109.76 L107.25,109.60 L107.75,109.44 L108.42,109.25 L109.00,109.17 L109.75,109.23 L110.25,109.34 L110.89,109.50 L111.50,109.64 L112.01,109.75 L112.75,109.92 L113.25,110.07 L113.75,110.26 L114.35,110.50 L115.00,110.75 L115.50,110.94 L116.00,111.13 L116.50,111.33 L117.00,111.51 L117.75,111.70 L118.25,111.79 L119.00,111.94 L119.50,112.14 L120.00,112.45 L120.40,112.75 L120.75,113.00 L121.25,113.32 L121.75,113.59 L122.25,113.80 L122.87,114.00 L123.50,114.15 L124.00,114.33 L124.50,114.67 L124.78,115.00 L125.09,115.50 L125.50,115.97 L126.00,116.02 L126.50,115.91 L127.25,115.76 L127.75,115.72 L128.43,115.75 L129.00,115.83 L129.75,115.94 L130.50,116.00 L131.00,116.02 L131.75,116.10 L132.50,116.22 L133.00,116.29 L133.75,116.38 L134.50,116.44 L135.25,116.44 L136.00,116.41 L136.75,116.37 L137.50,116.38 L138.25,116.43 L139.00,116.47 L139.75,116.49 L140.25,116.57 L140.77,116.75 L141.25,117.04 L141.75,117.38 L142.25,117.68 L142.75,117.85 L143.50,117.94 L144.25,117.99 L144.75,118.08 L145.36,118.25 L146.00,118.49 L146.50,118.69 L147.00,118.91 L147.50,119.15 L148.00,119.41 L148.50,119.71 L148.88,120.00 L149.25,120.34 L149.68,120.75 L150.00,121.05 L150.50,121.49 L150.77,121.75 L151.20,122.25 L151.50,122.69 L151.75,123.10 L152.00,123.56 L152.25,124.19 L152.34,124.75 L152.25,125.47 L152.04,126.00 L151.75,126.46 L151.50,126.78 L151.06,127.25 L150.75,127.53 L150.25,127.87 L149.75,128.07 Z"/><path d="M149.50,127.75 L149.00,127.75 L148.29,127.50 L147.85,127.25 L147.30,127.00 L146.75,126.92 L146.00,126.99 L145.50,127.07 L144.75,127.13 L144.00,127.17 L143.25,127.21 L142.75,127.25 L142.00,127.31 L141.25,127.37 L140.50,127.37 L139.83,127.25 L139.25,127.02 L138.75,126.75 L138.25,126.56 L137.75,126.50 L137.00,126.45 L136.28,126.25 L135.88,126.00 L135.50,125.67 L135.06,125.25 L134.73,125.00 L134.23,124.75 L133.50,124.54 L133.00,124.41 L132.50,124.25 L131.99,124.00 L131.50,123.67 L131.00,123.27 L130.72,123.00 L130.25,122.54 L129.85,122.25 L129.25,122.05 L128.75,122.00 L128.22,122.00 L127.50,122.03 L126.96,122.00 L126.25,121.85 L125.75,121.71 L125.01,121.75 L124.56,122.00 L124.19,122.25 L123.74,122.50 L123.00,122.68 L122.25,122.60 L121.75,122.48 L121.00,122.36 L120.25,122.39 L119.68,122.50 L119.00,122.65 L118.46,122.75 L117.75,122.88 L117.25,123.01 L116.53,123.25 L116.00,123.36 L115.25,123.28 L114.75,123.05 L114.25,122.75 L113.82,122.50 L113.25,122.27 L112.75,122.19 L112.13,122.25 L111.50,122.44 L111.00,122.60 L110.25,122.70 L109.50,122.59 L109.00,122.41 L108.50,122.17 L108.00,121.87 L107.50,121.56 L107.00,121.31 L106.50,121.16 L105.79,121.00 L105.25,120.83 L104.75,120.61 L104.25,120.31 L103.82,120.00 L103.50,119.75 L103.00,119.37 L102.50,119.07 L102.00,118.82 L101.50,118.53 L101.12,118.25 L100.75,117.90 L100.41,117.50 L100.07,117.00 L99.83,116.50 L99.68,116.00 L99.61,115.25 L99.65,114.50 L99.69,113.75 L99.75,113.15 L100.00,112.52 L100.25,112.20 L100.75,111.75 L101.06,111.50 L101.50,111.14 L101.88,110.75 L102.24,110.25 L102.50,109.87 L103.00,109.66 L103.50,109.84 L104.00,110.12 L104.50,110.35 L105.25,110.44 L106.00,110.28 L106.50,110.12 L107.00,109.95 L107.56,109.75 L108.25,109.53 L108.75,109.43 L109.50,109.43 L110.00,109.52 L110.75,109.71 L111.25,109.84 L111.87,110.00 L112.50,110.20 L113.00,110.41 L113.50,110.64 L114.00,110.83 L114.57,111.00 L115.25,111.19 L115.75,111.36 L116.25,111.55 L116.80,111.75 L117.50,111.94 L118.00,112.05 L118.75,112.22 L119.25,112.41 L119.75,112.70 L120.17,113.00 L120.53,113.25 L121.00,113.55 L121.50,113.84 L122.00,114.09 L122.50,114.30 L123.08,114.50 L123.67,114.75 L124.02,115.00 L124.39,115.50 L124.61,116.00 L124.78,116.50 L125.10,117.00 L125.63,117.00 L126.05,116.75 L126.50,116.48 L127.07,116.25 L127.75,116.14 L128.50,116.17 L129.01,116.25 L129.75,116.35 L130.50,116.39 L131.25,116.45 L131.75,116.54 L132.50,116.71 L133.00,116.79 L133.75,116.82 L134.50,116.78 L135.00,116.74 L135.75,116.68 L136.50,116.63 L137.25,116.64 L138.00,116.72 L138.50,116.80 L139.25,116.88 L140.00,116.96 L140.50,117.11 L141.00,117.40 L141.44,117.75 L141.75,118.01 L142.25,118.36 L142.75,118.57 L143.50,118.72 L144.00,118.77 L144.75,118.86 L145.50,118.95 L146.00,119.04 L146.75,119.25 L147.25,119.45 L147.75,119.69 L148.24,120.00 L148.56,120.25 L149.00,120.64 L149.39,121.00 L149.75,121.31 L150.25,121.74 L150.52,122.00 L150.97,122.50 L151.25,122.87 L151.50,123.25 L151.78,123.75 L152.00,124.40 L152.03,125.00 L151.91,125.50 L151.66,126.00 L151.29,126.50 L151.00,126.83 L150.56,127.25 L150.21,127.50 L149.52,127.75 Z"/><path d="M149.75,127.29 L149.00,127.30 L148.50,127.07 L148.00,126.75 L147.50,126.53 L147.00,126.41 L146.25,126.38 L145.50,126.43 L144.87,126.50 L144.25,126.60 L143.50,126.75 L143.00,126.84 L142.25,126.97 L141.75,127.05 L141.00,127.10 L140.25,127.03 L139.75,126.86 L139.25,126.56 L138.76,126.25 L138.25,126.08 L137.50,126.08 L136.75,126.04 L136.25,125.85 L135.79,125.50 L135.50,125.24 L135.00,124.82 L134.50,124.54 L134.00,124.34 L133.50,124.18 L133.00,124.00 L132.49,123.75 L132.00,123.42 L131.51,123.00 L131.25,122.73 L130.83,122.25 L130.50,121.91 L130.00,121.65 L129.25,121.57 L128.50,121.59 L127.75,121.62 L127.00,121.55 L126.50,121.39 L126.00,121.11 L125.50,120.83 L124.77,121.00 L124.50,121.25 L124.00,121.71 L123.55,122.00 L123.00,122.16 L122.25,122.11 L121.61,122.00 L121.00,121.96 L120.50,122.01 L119.75,122.17 L119.25,122.29 L118.50,122.44 L118.00,122.51 L117.25,122.66 L116.75,122.81 L116.01,123.00 L115.59,123.00 L115.00,122.84 L114.50,122.58 L114.00,122.29 L113.50,122.05 L113.00,121.92 L112.25,121.92 L111.75,122.04 L111.11,122.25 L110.50,122.40 L109.75,122.38 L109.25,122.25 L108.71,122.00 L108.25,121.70 L107.75,121.33 L107.25,121.01 L106.75,120.81 L106.25,120.71 L105.50,120.55 L105.00,120.35 L104.50,120.06 L104.10,119.75 L103.75,119.42 L103.25,119.00 L102.81,118.75 L102.25,118.51 L101.75,118.28 L101.33,118.00 L101.00,117.72 L100.60,117.25 L100.28,116.75 L100.07,116.25 L99.96,115.75 L99.95,115.00 L100.01,114.50 L100.10,113.75 L100.24,113.00 L100.50,112.50 L100.75,112.21 L101.25,111.77 L101.60,111.50 L102.00,111.19 L102.50,110.80 L103.00,110.56 L103.75,110.65 L104.25,110.82 L105.00,110.89 L105.57,110.75 L106.23,110.50 L106.75,110.30 L107.25,110.10 L107.75,109.92 L108.31,109.75 L109.00,109.64 L109.75,109.69 L110.25,109.80 L111.00,110.00 L111.50,110.14 L112.00,110.31 L112.50,110.53 L113.00,110.81 L113.50,111.07 L114.10,111.25 L114.75,111.37 L115.26,111.50 L116.00,111.74 L116.50,111.92 L117.00,112.08 L117.67,112.25 L118.25,112.38 L118.75,112.53 L119.25,112.75 L119.75,113.05 L120.25,113.39 L120.75,113.72 L121.22,114.00 L121.66,114.25 L122.16,114.50 L122.71,114.75 L123.22,115.00 L123.58,115.25 L123.98,115.75 L124.17,116.25 L124.28,116.75 L124.42,117.50 L124.67,118.00 L125.25,118.15 L125.75,117.79 L126.03,117.50 L126.50,117.04 L126.93,116.75 L127.50,116.56 L128.25,116.53 L129.00,116.65 L129.75,116.74 L130.25,116.76 L131.00,116.80 L131.75,116.94 L132.25,117.07 L133.00,117.22 L133.75,117.23 L134.50,117.13 L135.25,117.00 L135.75,116.94 L136.50,116.88 L137.25,116.92 L137.75,117.00 L138.50,117.21 L139.00,117.34 L139.75,117.48 L140.25,117.63 L140.75,117.93 L141.10,118.25 L141.50,118.64 L141.96,119.00 L142.42,119.25 L143.00,119.45 L143.50,119.61 L144.00,119.80 L144.50,120.02 L145.25,120.11 L145.75,119.93 L146.50,119.79 L147.25,119.96 L147.75,120.21 L148.17,120.50 L148.50,120.75 L149.00,121.15 L149.45,121.50 L149.76,121.75 L150.25,122.17 L150.57,122.50 L150.97,123.00 L151.25,123.42 L151.50,123.87 L151.70,124.50 L151.64,125.25 L151.41,125.75 L151.04,126.25 L150.75,126.58 L150.30,127.00 L149.86,127.25 Z"/><path d="M116.50,122.56 L115.75,122.68 L115.00,122.52 L114.50,122.27 L114.02,122.00 L113.50,121.76 L113.00,121.63 L112.25,121.62 L111.68,121.75 L111.00,121.98 L110.50,122.10 L109.75,122.11 L109.25,121.98 L108.75,121.71 L108.25,121.33 L107.86,121.00 L107.50,120.73 L107.00,120.50 L106.25,120.33 L105.75,120.24 L105.08,120.00 L104.68,119.75 L104.25,119.36 L103.91,119.00 L103.50,118.65 L103.00,118.38 L102.50,118.20 L101.98,118.00 L101.50,117.72 L101.00,117.26 L100.75,116.94 L100.49,116.50 L100.27,115.75 L100.29,115.00 L100.43,114.25 L100.52,113.75 L100.70,113.00 L100.99,112.50 L101.25,112.22 L101.75,111.82 L102.23,111.50 L102.74,111.25 L103.25,111.16 L103.77,111.25 L104.50,111.42 L105.25,111.25 L105.75,111.02 L106.25,110.78 L106.75,110.55 L107.25,110.34 L107.75,110.15 L108.25,109.99 L109.00,109.85 L109.75,109.90 L110.25,110.01 L111.00,110.22 L111.50,110.37 L112.00,110.57 L112.50,110.85 L113.00,111.18 L113.50,111.44 L114.00,111.57 L114.75,111.66 L115.25,111.77 L116.00,112.00 L116.50,112.17 L117.00,112.33 L117.68,112.50 L118.25,112.64 L118.75,112.81 L119.25,113.04 L119.75,113.35 L120.25,113.68 L120.75,114.00 L121.16,114.25 L121.58,114.50 L122.03,114.75 L122.50,115.00 L123.00,115.29 L123.49,115.75 L123.74,116.25 L123.85,116.75 L123.88,117.50 L123.99,118.25 L124.23,118.75 L124.50,119.21 L124.61,119.75 L124.43,120.25 L124.13,120.75 L123.75,121.20 L123.30,121.50 L122.75,121.63 L122.00,121.59 L121.25,121.56 L120.50,121.66 L120.00,121.80 L119.27,122.00 L118.75,122.11 L118.00,122.21 L117.50,122.28 L116.75,122.48 Z"/><path d="M149.75,126.80 L149.00,126.78 L148.50,126.53 L148.00,126.28 L147.50,126.13 L146.76,126.00 L146.25,125.95 L145.50,125.91 L144.75,125.93 L144.25,126.01 L143.50,126.24 L143.00,126.40 L142.50,126.56 L141.75,126.74 L141.25,126.80 L140.50,126.77 L140.00,126.60 L139.50,126.27 L139.17,126.00 L138.75,125.71 L138.00,125.58 L137.25,125.69 L136.50,125.58 L136.00,125.26 L135.69,125.00 L135.25,124.64 L134.75,124.33 L134.25,124.12 L133.75,123.92 L133.25,123.70 L132.75,123.40 L132.25,123.01 L131.97,122.75 L131.54,122.25 L131.25,121.86 L130.95,121.50 L130.50,121.17 L129.75,121.07 L129.00,121.16 L128.25,121.23 L127.50,121.20 L126.83,121.00 L126.47,120.75 L126.03,120.25 L125.75,119.79 L125.63,119.25 L125.81,118.75 L126.10,118.25 L126.44,117.75 L126.75,117.40 L127.25,117.06 L127.75,116.93 L128.50,116.97 L129.00,117.07 L129.75,117.16 L130.50,117.15 L131.25,117.20 L131.75,117.32 L132.41,117.50 L133.00,117.61 L133.75,117.62 L134.39,117.50 L135.00,117.35 L135.50,117.25 L136.25,117.16 L137.00,117.18 L137.50,117.29 L138.05,117.50 L138.51,117.75 L139.00,118.05 L139.50,118.30 L140.00,118.52 L140.50,118.80 L141.00,119.15 L141.50,119.49 L142.00,119.75 L142.50,119.92 L143.00,120.07 L143.50,120.26 L144.00,120.51 L144.50,120.80 L145.00,121.05 L145.75,121.11 L146.25,120.89 L146.75,120.67 L147.49,120.75 L148.00,120.98 L148.49,121.25 L148.89,121.50 L149.26,121.75 L149.75,122.12 L150.16,122.50 L150.50,122.88 L150.77,123.25 L151.08,123.75 L151.29,124.25 L151.31,125.00 L151.10,125.50 L150.75,125.99 L150.50,126.26 L150.00,126.68 Z"/><path d="M116.25,122.30 L115.50,122.34 L115.00,122.20 L114.50,121.95 L114.00,121.68 L113.50,121.45 L112.75,121.29 L112.00,121.33 L111.40,121.50 L110.75,121.72 L110.25,121.82 L109.51,121.75 L109.00,121.51 L108.65,121.25 L108.25,120.87 L107.82,120.50 L107.40,120.25 L106.75,120.04 L106.25,119.95 L105.50,119.77 L105.00,119.50 L104.71,119.25 L104.25,118.75 L104.00,118.49 L103.50,118.15 L103.00,117.95 L102.37,117.75 L101.83,117.50 L101.48,117.25 L101.03,116.75 L100.76,116.25 L100.64,115.75 L100.69,115.00 L100.83,114.50 L101.00,113.88 L101.15,113.25 L101.38,112.75 L101.75,112.34 L102.23,112.00 L102.75,111.80 L103.50,111.82 L104.06,112.00 L104.62,112.00 L105.16,111.75 L105.55,111.50 L106.00,111.22 L106.50,110.94 L107.00,110.70 L107.50,110.48 L108.15,110.25 L108.75,110.11 L109.50,110.09 L110.25,110.23 L110.75,110.36 L111.25,110.52 L111.82,110.75 L112.25,111.00 L112.75,111.37 L113.25,111.69 L113.75,111.85 L114.50,111.92 L115.10,112.00 L115.75,112.17 L116.25,112.34 L116.75,112.50 L117.50,112.70 L118.00,112.83 L118.55,113.00 L119.11,113.25 L119.55,113.50 L120.00,113.79 L120.50,114.11 L121.00,114.43 L121.50,114.75 L121.92,115.00 L122.33,115.25 L122.75,115.55 L123.18,116.00 L123.40,116.50 L123.44,117.25 L123.40,118.00 L123.50,118.63 L123.73,119.25 L123.82,119.75 L123.72,120.25 L123.35,120.75 L122.88,121.00 L122.25,121.06 L121.50,121.06 L120.75,121.21 L120.25,121.37 L119.75,121.55 L119.09,121.75 L118.50,121.86 L117.75,121.95 L117.25,122.04 L116.50,122.24 Z"/><path d="M142.00,126.30 L141.25,126.47 L140.50,126.40 L140.00,126.16 L139.52,125.75 L139.25,125.50 L138.75,125.15 L138.25,125.00 L137.75,125.05 L137.00,125.22 L136.30,125.00 L135.95,124.75 L135.50,124.41 L135.00,124.11 L134.50,123.87 L134.00,123.66 L133.50,123.40 L133.00,123.06 L132.64,122.75 L132.25,122.36 L131.95,122.00 L131.60,121.50 L131.25,121.03 L130.97,120.75 L130.50,120.47 L129.75,120.50 L129.25,120.64 L128.75,120.76 L128.00,120.81 L127.50,120.73 L127.00,120.46 L126.63,120.00 L126.44,119.50 L126.50,118.75 L126.72,118.25 L127.00,117.86 L127.48,117.50 L128.00,117.41 L128.55,117.50 L129.25,117.69 L130.00,117.69 L130.75,117.60 L131.50,117.68 L132.00,117.80 L132.75,117.96 L133.25,118.02 L133.89,118.00 L134.50,117.87 L135.00,117.71 L135.75,117.52 L136.25,117.47 L136.79,117.50 L137.50,117.75 L137.83,118.00 L138.23,118.50 L138.50,118.84 L139.00,119.17 L139.50,119.34 L140.02,119.50 L140.66,119.75 L141.21,120.00 L141.75,120.22 L142.25,120.37 L142.75,120.50 L143.45,120.75 L143.91,121.00 L144.30,121.25 L144.75,121.55 L145.25,121.82 L146.00,121.93 L146.53,121.75 L147.18,121.50 L147.75,121.47 L148.25,121.59 L148.75,121.81 L149.25,122.12 L149.73,122.50 L150.00,122.78 L150.37,123.25 L150.66,123.75 L150.83,124.25 L150.78,125.00 L150.50,125.47 L150.25,125.75 L149.75,126.12 L149.00,126.16 L148.48,126.00 L147.75,125.82 L147.25,125.73 L146.50,125.61 L145.86,125.50 L145.25,125.40 L144.50,125.39 L143.92,125.50 L143.25,125.75 L142.75,125.99 L142.25,126.21 Z"/><path d="M116.25,122.01 L115.50,122.05 L115.00,121.90 L114.50,121.65 L114.00,121.36 L113.50,121.13 L113.00,120.99 L112.25,120.94 L111.75,121.02 L111.05,121.25 L110.50,121.42 L109.75,121.45 L109.24,121.25 L108.75,120.84 L108.40,120.50 L108.00,120.17 L107.50,119.89 L107.00,119.73 L106.25,119.58 L105.75,119.44 L105.25,119.17 L104.80,118.75 L104.50,118.42 L104.03,118.00 L103.57,117.75 L103.00,117.55 L102.50,117.39 L102.00,117.16 L101.51,116.75 L101.25,116.36 L101.07,115.75 L101.21,115.00 L101.46,114.50 L101.68,114.00 L101.82,113.50 L102.00,113.00 L102.50,112.58 L102.82,112.50 L103.50,112.67 L104.00,112.77 L104.50,112.66 L105.00,112.36 L105.43,112.00 L105.75,111.73 L106.25,111.37 L106.75,111.08 L107.25,110.83 L107.75,110.63 L108.25,110.45 L109.00,110.30 L109.75,110.34 L110.50,110.50 L111.00,110.65 L111.50,110.84 L112.00,111.11 L112.50,111.50 L112.81,111.75 L113.25,112.02 L114.00,112.16 L114.75,112.20 L115.25,112.28 L115.99,112.50 L116.50,112.67 L117.00,112.81 L117.75,113.00 L118.25,113.14 L118.75,113.33 L119.25,113.58 L119.75,113.88 L120.25,114.20 L120.70,114.50 L121.08,114.75 L121.50,115.04 L122.00,115.38 L122.48,115.75 L122.75,116.04 L123.00,116.56 L123.03,117.25 L122.94,117.75 L122.86,118.50 L123.00,119.19 L123.07,119.75 L122.76,120.25 L122.25,120.39 L121.50,120.48 L121.00,120.64 L120.50,120.87 L120.00,121.11 L119.50,121.33 L118.96,121.50 L118.25,121.63 L117.50,121.72 L117.00,121.82 L116.29,122.00 Z"/><path d="M141.50,126.02 L140.75,126.05 L140.25,125.83 L139.84,125.50 L139.50,125.18 L139.00,124.77 L138.52,124.50 L138.00,124.36 L137.25,124.49 L136.75,124.56 L136.25,124.38 L135.75,124.09 L135.25,123.83 L134.75,123.60 L134.25,123.38 L133.75,123.10 L133.28,122.75 L132.99,122.50 L132.50,122.00 L132.25,121.70 L131.93,121.25 L131.59,120.75 L131.25,120.28 L131.00,119.99 L130.50,119.52 L130.15,119.25 L130.25,118.71 L130.75,118.28 L131.25,118.17 L132.00,118.23 L132.50,118.31 L133.25,118.40 L134.00,118.40 L134.65,118.25 L135.25,118.04 L135.75,117.91 L136.50,117.90 L137.00,118.12 L137.27,118.50 L137.39,119.25 L137.75,119.68 L138.25,119.80 L139.00,119.88 L139.67,120.00 L140.25,120.15 L140.75,120.33 L141.25,120.51 L142.00,120.74 L142.50,120.85 L143.02,121.00 L143.58,121.25 L144.00,121.51 L144.50,121.88 L144.99,122.25 L145.48,122.50 L146.00,122.53 L146.50,122.36 L147.00,122.12 L147.50,121.96 L148.25,121.99 L148.75,122.17 L149.25,122.49 L149.55,122.75 L149.96,123.25 L150.20,123.75 L150.30,124.25 L150.18,124.75 L149.75,125.25 L149.25,125.50 L148.75,125.55 L148.00,125.51 L147.50,125.46 L146.75,125.33 L146.25,125.21 L145.60,125.00 L145.00,124.86 L144.25,124.90 L143.75,125.01 L143.08,125.25 L142.60,125.50 L142.16,125.75 L141.58,126.00 Z"/><path d="M128.50,120.26 L127.93,120.25 L127.45,120.00 L127.16,119.50 L127.21,118.75 L127.50,118.32 L128.00,118.15 L128.50,118.30 L129.00,118.60 L129.50,118.95 L129.63,119.50 L129.25,119.89 L128.75,120.19 Z"/><path d="M116.00,121.77 L115.48,121.75 L114.81,121.50 L114.38,121.25 L113.96,121.00 L113.41,120.75 L112.75,120.58 L112.00,120.56 L111.25,120.74 L110.75,120.90 L110.25,121.01 L109.75,120.97 L109.25,120.70 L108.75,120.26 L108.43,120.00 L108.00,119.73 L107.48,119.50 L106.75,119.29 L106.25,119.16 L105.75,118.96 L105.25,118.58 L104.93,118.25 L104.50,117.86 L104.00,117.53 L103.50,117.30 L103.00,117.12 L102.50,116.91 L102.00,116.54 L101.75,116.14 L101.74,115.50 L102.00,115.10 L102.33,114.75 L102.75,114.33 L103.12,114.00 L103.52,113.75 L104.02,113.50 L104.50,113.23 L105.00,112.85 L105.36,112.50 L105.75,112.12 L106.17,111.75 L106.51,111.50 L107.00,111.22 L107.50,110.98 L108.09,110.75 L108.75,110.57 L109.50,110.54 L110.25,110.66 L110.75,110.78 L111.35,111.00 L111.81,111.25 L112.25,111.60 L112.72,112.00 L113.12,112.25 L113.75,112.41 L114.50,112.43 L115.10,112.50 L115.75,112.67 L116.25,112.84 L116.79,113.00 L117.50,113.18 L118.00,113.31 L118.57,113.50 L119.10,113.75 L119.53,114.00 L120.00,114.30 L120.50,114.63 L121.00,114.98 L121.37,115.25 L121.75,115.55 L122.24,116.00 L122.50,116.40 L122.61,117.00 L122.50,117.53 L122.25,118.23 L122.06,118.75 L121.80,119.25 L121.50,119.55 L121.00,119.96 L120.65,120.25 L120.25,120.55 L119.75,120.86 L119.25,121.10 L118.75,121.26 L118.00,121.39 L117.27,121.50 L116.75,121.62 L116.13,121.75 Z"/><path d="M141.25,125.54 L140.71,125.50 L140.24,125.25 L139.75,124.87 L139.29,124.50 L138.94,124.25 L138.50,123.97 L138.00,123.74 L137.25,123.59 L136.50,123.58 L135.98,123.50 L135.25,123.30 L134.75,123.12 L134.25,122.87 L133.75,122.53 L133.40,122.25 L133.00,121.90 L132.62,121.50 L132.25,121.01 L132.00,120.60 L131.75,120.11 L131.53,119.50 L131.75,118.91 L132.50,118.77 L133.25,118.82 L134.00,118.87 L134.75,118.80 L135.25,118.67 L136.00,118.61 L136.25,119.01 L136.31,119.75 L136.75,120.25 L137.25,120.41 L138.00,120.43 L138.75,120.40 L139.50,120.45 L140.00,120.55 L140.68,120.75 L141.25,120.93 L141.75,121.07 L142.50,121.24 L143.00,121.39 L143.50,121.62 L144.00,121.97 L144.33,122.25 L144.75,122.66 L145.13,123.00 L145.75,123.20 L146.26,123.00 L146.75,122.73 L147.25,122.48 L148.00,122.33 L148.65,122.50 L149.06,122.75 L149.50,123.23 L149.71,123.75 L149.54,124.50 L149.25,124.79 L148.75,125.04 L148.00,125.15 L147.25,125.10 L146.75,124.99 L146.16,124.75 L145.74,124.50 L145.11,124.25 L144.75,124.27 L144.00,124.45 L143.50,124.58 L142.98,124.75 L142.42,125.00 L141.97,125.25 L141.41,125.50 Z"/><path d="M116.75,121.31 L116.00,121.43 L115.25,121.32 L114.75,121.06 L114.29,120.75 L113.89,120.50 L113.32,120.25 L112.75,120.10 L112.00,120.05 L111.25,120.18 L110.75,120.30 L110.00,120.32 L109.50,120.13 L109.00,119.83 L108.50,119.52 L108.00,119.26 L107.50,119.06 L107.00,118.88 L106.50,118.70 L106.00,118.44 L105.50,118.05 L105.15,117.75 L104.75,117.45 L104.25,117.14 L103.75,116.86 L103.25,116.56 L102.92,116.25 L102.96,115.50 L103.25,115.10 L103.53,114.75 L104.00,114.27 L104.30,114.00 L104.75,113.61 L105.13,113.25 L105.50,112.86 L105.83,112.50 L106.25,112.09 L106.70,111.75 L107.13,111.50 L107.67,111.25 L108.25,111.03 L108.75,110.90 L109.50,110.83 L110.25,110.93 L110.75,111.05 L111.28,111.25 L111.75,111.54 L112.25,111.97 L112.57,112.25 L113.00,112.53 L113.75,112.70 L114.50,112.72 L115.00,112.77 L115.75,112.97 L116.25,113.14 L116.75,113.29 L117.50,113.47 L118.00,113.60 L118.50,113.77 L119.00,114.00 L119.50,114.29 L120.00,114.61 L120.50,114.96 L120.87,115.25 L121.25,115.58 L121.66,116.00 L121.97,116.50 L122.02,117.00 L121.87,117.50 L121.60,118.00 L121.28,118.50 L121.00,118.88 L120.72,119.25 L120.32,119.75 L120.00,120.10 L119.55,120.50 L119.13,120.75 L118.50,120.97 L118.00,121.07 L117.25,121.20 L116.75,121.31 Z"/><path d="M141.25,124.76 L140.71,124.75 L140.11,124.50 L139.70,124.25 L139.25,123.93 L138.75,123.57 L138.29,123.25 L137.87,123.00 L137.38,122.75 L136.77,122.50 L136.25,122.33 L135.75,122.22 L135.00,122.06 L134.50,121.90 L134.00,121.71 L133.50,121.46 L133.00,121.06 L132.75,120.75 L132.50,120.20 L132.51,119.75 L133.00,119.46 L133.58,119.50 L134.21,119.75 L134.51,120.00 L134.87,120.50 L135.25,120.97 L135.75,121.19 L136.50,121.23 L137.25,121.18 L138.00,121.07 L138.50,121.00 L139.25,120.96 L139.75,121.00 L140.50,121.17 L141.00,121.32 L141.62,121.50 L142.25,121.65 L142.75,121.79 L143.25,122.01 L143.75,122.40 L144.05,122.75 L144.19,123.50 L143.75,123.86 L143.25,124.06 L142.64,124.25 L142.00,124.49 L141.50,124.69 Z"/><path d="M148.50,124.53 L147.75,124.72 L147.00,124.58 L146.54,124.25 L146.47,123.75 L146.75,123.39 L147.25,123.01 L147.75,122.83 L148.50,122.94 L148.88,123.25 L149.05,123.75 L148.85,124.25 L148.50,124.53 Z"/><path d="M117.00,120.79 L116.25,120.91 L115.50,120.82 L115.00,120.52 L114.68,120.25 L114.25,119.92 L113.75,119.69 L113.10,119.50 L112.50,119.38 L111.75,119.35 L111.00,119.47 L110.50,119.52 L110.00,119.48 L109.30,119.25 L108.76,119.00 L108.25,118.75 L107.75,118.51 L107.25,118.25 L106.81,118.00 L106.43,117.75 L106.00,117.46 L105.50,117.12 L105.00,116.79 L104.61,116.50 L104.25,116.07 L104.17,115.50 L104.37,115.00 L104.70,114.50 L105.00,114.13 L105.32,113.75 L105.75,113.26 L106.00,112.98 L106.49,112.50 L106.84,112.25 L107.32,112.00 L108.00,111.76 L108.50,111.62 L109.00,111.47 L109.75,111.36 L110.50,111.43 L111.00,111.58 L111.50,111.85 L111.98,112.25 L112.26,112.50 L112.75,112.84 L113.25,113.02 L114.00,113.09 L114.75,113.14 L115.27,113.25 L116.00,113.50 L116.50,113.67 L117.00,113.81 L117.75,113.98 L118.25,114.13 L118.75,114.34 L119.25,114.62 L119.75,114.94 L120.15,115.25 L120.50,115.58 L120.86,116.00 L121.10,116.50 L121.04,117.25 L120.79,117.75 L120.50,118.19 L120.25,118.54 L119.90,119.00 L119.54,119.50 L119.25,119.85 L118.78,120.25 L118.25,120.50 L117.75,120.63 L117.20,120.75 Z"/><path d="M140.75,123.76 L140.25,123.69 L139.75,123.46 L139.25,123.06 L138.97,122.75 L138.91,122.00 L139.50,121.78 L140.25,121.84 L140.81,122.00 L141.43,122.25 L141.93,122.50 L142.25,122.77 L142.08,123.25 L141.65,123.50 L141.00,123.73 Z"/><path d="M117.25,119.60 L116.50,119.64 L116.09,119.25 L115.90,118.75 L115.50,118.25 L115.00,118.17 L114.50,118.27 L113.75,118.41 L113.00,118.36 L112.49,118.25 L111.75,118.09 L111.00,118.12 L110.29,118.25 L109.98,118.25 L109.25,118.06 L108.75,117.80 L108.26,117.50 L107.86,117.25 L107.43,117.00 L106.98,116.75 L106.50,116.45 L106.00,116.06 L105.75,115.75 L105.65,115.00 L105.84,114.50 L106.18,114.00 L106.50,113.65 L107.00,113.33 L107.75,113.34 L108.25,113.54 L109.00,113.66 L109.50,113.48 L110.00,113.10 L110.42,112.75 L111.00,112.64 L111.50,112.84 L112.00,113.14 L112.50,113.40 L113.00,113.56 L113.75,113.66 L114.50,113.74 L115.00,113.87 L115.50,114.09 L116.00,114.36 L116.50,114.61 L117.00,114.81 L117.60,115.00 L118.24,115.25 L118.63,115.50 L119.00,115.86 L119.24,116.50 L119.00,117.04 L118.62,117.50 L118.32,118.00 L118.15,118.50 L117.96,119.00 L117.50,119.50 Z"/><path d="M113.50,116.50 L113.00,116.45 L112.50,116.18 L112.00,115.82 L111.50,115.56 L111.00,115.43 L110.43,115.25 L110.50,114.70 L111.00,114.40 L111.75,114.36 L112.50,114.48 L113.00,114.52 L113.75,114.62 L114.25,114.77 L114.70,115.25 L114.50,115.95 L114.14,116.25 L113.51,116.50 Z"/></g>
<ellipse cx="111.4" cy="114.0" rx="3.2" ry="1.9" fill="none" stroke="#222" stroke-width="0.8" transform="rotate(12 111.4 114)"/>
<ellipse cx="111.4" cy="114.0" rx="2.2" ry="1.2" fill="#fff" transform="rotate(12 111.4 114)"/>
<rect x="82.80" y="91.00" width="36.40" height="25.00" fill="none" stroke="#c20c2f" stroke-width="1.3" />
<rect x="128.50" y="117.00" width="36.10" height="24.90" fill="none" stroke="#3b6db3" stroke-width="1.3" />
<text x="103.60" y="69.50" font-size="11.3" text-anchor="middle" fill="#c20c2f" stroke="#c20c2f" stroke-width="0.25" textLength="47.60" lengthAdjust="spacingAndGlyphs" >CD5 high</text>
<text x="103.80" y="82.60" font-size="11.3" text-anchor="middle" fill="#c20c2f" stroke="#c20c2f" stroke-width="0.25" textLength="58.00" lengthAdjust="spacingAndGlyphs" >CXCR4 dim</text>
<text x="151.20" y="151.60" font-size="11.3" text-anchor="middle" fill="#3b6db3" stroke="#3b6db3" stroke-width="0.25" textLength="44.40" lengthAdjust="spacingAndGlyphs" >CD5 dim</text>
<text x="151.40" y="163.60" font-size="11.3" text-anchor="middle" fill="#3b6db3" stroke="#3b6db3" stroke-width="0.25" textLength="61.00" lengthAdjust="spacingAndGlyphs" >CXCR4 high</text>
<path d="M119.2,95.4 L199.5,95.4 L199.5,147.2 L205,147.2" fill="none" stroke="#c20c2f" stroke-width="1.3" />
<path d="M203,143.6 L211.8,147.2 L203,150.8 L205,147.2 Z" fill="#c20c2f" stroke="none" stroke-width="1" />
<path d="M164.6,119.7 L205,119.7" fill="none" stroke="#3b6db3" stroke-width="1.3" />
<path d="M203,116.1 L211.8,119.7 L203,123.3 L205,119.7 Z" fill="#3b6db3" stroke="none" stroke-width="1" />
<path d="M217.90,100.50 L218.00,92.00 L220.00,82.30 L221.90,72.80 L223.60,63.50 L225.40,54.50 L226.60,46.50 L227.70,40.20 L228.60,38.50 L229.20,35.60 L229.80,37.60 L230.50,37.80 L231.20,39.50 L232.30,51.10 L233.20,60.00 L234.00,68.40 L235.00,77.00 L235.80,83.40 L237.00,89.50 L238.10,93.80 L239.80,96.80 L241.50,98.40 L243.00,99.50 L245.00,100.10 L248.00,100.50 L311.50,100.50 L311.50,100.50 L217.90,100.50 Z" fill="rgba(220,138,18,0.5)" stroke="none" stroke-width="1" />
<path d="M217.90,100.50 L218.00,92.00 L220.00,82.30 L221.90,72.80 L223.60,63.50 L225.40,54.50 L226.60,46.50 L227.70,40.20 L228.60,38.50 L229.20,35.60 L229.80,37.60 L230.50,37.80 L231.20,39.50 L232.30,51.10 L233.20,60.00 L234.00,68.40 L235.00,77.00 L235.80,83.40 L237.00,89.50 L238.10,93.80 L239.80,96.80 L241.50,98.40 L243.00,99.50 L245.00,100.10 L248.00,100.50 L311.50,100.50" fill="none" stroke="#dc8a12" stroke-width="1.2" stroke-linejoin="round"/>
<path d="M217.90,135.00 L225.00,135.20 L229.60,134.20 L231.50,133.00 L233.10,130.80 L234.60,126.50 L236.00,121.50 L237.00,114.50 L237.70,108.80 L238.70,100.50 L240.00,93.00 L241.00,88.00 L242.00,82.00 L243.00,78.50 L244.20,77.50 L245.20,79.00 L245.90,82.20 L246.70,91.50 L247.50,92.50 L248.50,93.80 L249.50,95.50 L250.80,98.40 L252.10,106.50 L253.80,112.00 L255.60,118.10 L257.30,123.80 L259.00,128.50 L261.50,131.80 L264.20,133.70 L267.00,134.80 L270.00,135.20 L311.50,135.00 L311.50,135.00 L217.90,135.00 Z" fill="rgba(44,74,138,0.5)" stroke="none" stroke-width="1" />
<path d="M217.90,135.00 L225.00,135.20 L229.60,134.20 L231.50,133.00 L233.10,130.80 L234.60,126.50 L236.00,121.50 L237.00,114.50 L237.70,108.80 L238.70,100.50 L240.00,93.00 L241.00,88.00 L242.00,82.00 L243.00,78.50 L244.20,77.50 L245.20,79.00 L245.90,82.20 L246.70,91.50 L247.50,92.50 L248.50,93.80 L249.50,95.50 L250.80,98.40 L252.10,106.50 L253.80,112.00 L255.60,118.10 L257.30,123.80 L259.00,128.50 L261.50,131.80 L264.20,133.70 L267.00,134.80 L270.00,135.20 L311.50,135.00" fill="none" stroke="#2c4a8a" stroke-width="1.2" stroke-linejoin="round"/>
<path d="M217.90,168.40 L233.50,168.30 L234.20,167.60 L236.50,163.50 L238.80,158.50 L240.50,151.00 L242.30,143.50 L243.20,141.50 L244.00,140.00 L245.20,133.00 L246.30,127.30 L247.20,124.00 L248.10,121.50 L249.00,116.00 L249.80,112.30 L251.00,111.70 L251.80,111.50 L252.70,110.60 L253.50,112.50 L254.40,115.80 L255.30,120.50 L256.20,126.20 L257.30,133.50 L258.50,141.20 L259.60,148.00 L260.80,155.00 L262.20,159.50 L263.70,163.10 L265.50,166.00 L267.70,167.70 L269.00,168.30 L311.50,168.40 L311.50,168.40 L217.90,168.40 Z" fill="rgba(184,0,44,0.5)" stroke="none" stroke-width="1" />
<path d="M217.90,168.40 L233.50,168.30 L234.20,167.60 L236.50,163.50 L238.80,158.50 L240.50,151.00 L242.30,143.50 L243.20,141.50 L244.00,140.00 L245.20,133.00 L246.30,127.30 L247.20,124.00 L248.10,121.50 L249.00,116.00 L249.80,112.30 L251.00,111.70 L251.80,111.50 L252.70,110.60 L253.50,112.50 L254.40,115.80 L255.30,120.50 L256.20,126.20 L257.30,133.50 L258.50,141.20 L259.60,148.00 L260.80,155.00 L262.20,159.50 L263.70,163.10 L265.50,166.00 L267.70,167.70 L269.00,168.30 L311.50,168.40" fill="none" stroke="#b8002c" stroke-width="1.2" stroke-linejoin="round"/>
<rect x="217.90" y="30.50" width="93.60" height="137.90" fill="none" stroke="#000" stroke-width="1.35" />
<line x1="217.90" y1="168.40" x2="217.90" y2="173.40" stroke="#000" stroke-width="1.1" />
<line x1="241.30" y1="168.40" x2="241.30" y2="173.40" stroke="#000" stroke-width="1.1" />
<line x1="264.70" y1="168.40" x2="264.70" y2="173.40" stroke="#000" stroke-width="1.1" />
<line x1="288.10" y1="168.40" x2="288.10" y2="173.40" stroke="#000" stroke-width="1.1" />
<line x1="311.50" y1="168.40" x2="311.50" y2="173.40" stroke="#000" stroke-width="1.1" />
<line x1="224.94" y1="168.40" x2="224.94" y2="171.40" stroke="#000" stroke-width="0.9" />
<line x1="229.06" y1="168.40" x2="229.06" y2="171.40" stroke="#000" stroke-width="0.9" />
<line x1="231.99" y1="168.40" x2="231.99" y2="171.40" stroke="#000" stroke-width="0.9" />
<line x1="234.26" y1="168.40" x2="234.26" y2="171.90" stroke="#000" stroke-width="0.9" />
<line x1="236.11" y1="168.40" x2="236.11" y2="171.40" stroke="#000" stroke-width="0.9" />
<line x1="237.68" y1="168.40" x2="237.68" y2="171.40" stroke="#000" stroke-width="0.9" />
<line x1="239.03" y1="168.40" x2="239.03" y2="171.40" stroke="#000" stroke-width="0.9" />
<line x1="240.23" y1="168.40" x2="240.23" y2="171.40" stroke="#000" stroke-width="0.9" />
<line x1="248.34" y1="168.40" x2="248.34" y2="171.40" stroke="#000" stroke-width="0.9" />
<line x1="252.46" y1="168.40" x2="252.46" y2="171.40" stroke="#000" stroke-width="0.9" />
<line x1="255.39" y1="168.40" x2="255.39" y2="171.40" stroke="#000" stroke-width="0.9" />
<line x1="257.66" y1="168.40" x2="257.66" y2="171.90" stroke="#000" stroke-width="0.9" />
<line x1="259.51" y1="168.40" x2="259.51" y2="171.40" stroke="#000" stroke-width="0.9" />
<line x1="261.08" y1="168.40" x2="261.08" y2="171.40" stroke="#000" stroke-width="0.9" />
<line x1="262.43" y1="168.40" x2="262.43" y2="171.40" stroke="#000" stroke-width="0.9" />
<line x1="263.63" y1="168.40" x2="263.63" y2="171.40" stroke="#000" stroke-width="0.9" />
<line x1="271.74" y1="168.40" x2="271.74" y2="171.40" stroke="#000" stroke-width="0.9" />
<line x1="275.86" y1="168.40" x2="275.86" y2="171.40" stroke="#000" stroke-width="0.9" />
<line x1="278.79" y1="168.40" x2="278.79" y2="171.40" stroke="#000" stroke-width="0.9" />
<line x1="281.06" y1="168.40" x2="281.06" y2="171.90" stroke="#000" stroke-width="0.9" />
<line x1="282.91" y1="168.40" x2="282.91" y2="171.40" stroke="#000" stroke-width="0.9" />
<line x1="284.48" y1="168.40" x2="284.48" y2="171.40" stroke="#000" stroke-width="0.9" />
<line x1="285.83" y1="168.40" x2="285.83" y2="171.40" stroke="#000" stroke-width="0.9" />
<line x1="287.03" y1="168.40" x2="287.03" y2="171.40" stroke="#000" stroke-width="0.9" />
<line x1="295.14" y1="168.40" x2="295.14" y2="171.40" stroke="#000" stroke-width="0.9" />
<line x1="299.26" y1="168.40" x2="299.26" y2="171.40" stroke="#000" stroke-width="0.9" />
<line x1="302.19" y1="168.40" x2="302.19" y2="171.40" stroke="#000" stroke-width="0.9" />
<line x1="304.46" y1="168.40" x2="304.46" y2="171.90" stroke="#000" stroke-width="0.9" />
<line x1="306.31" y1="168.40" x2="306.31" y2="171.40" stroke="#000" stroke-width="0.9" />
<line x1="307.88" y1="168.40" x2="307.88" y2="171.40" stroke="#000" stroke-width="0.9" />
<line x1="309.23" y1="168.40" x2="309.23" y2="171.40" stroke="#000" stroke-width="0.9" />
<line x1="310.43" y1="168.40" x2="310.43" y2="171.40" stroke="#000" stroke-width="0.9" />
<text x="217.90" y="187.30" font-size="11.8" text-anchor="middle" fill="#1a1a1a" stroke="#1a1a1a" stroke-width="0.25" >0</text>
<text x="241.30" y="187.30" font-size="11.8" text-anchor="middle" fill="#1a1a1a" stroke="#1a1a1a" stroke-width="0.25" >10</text>
<text x="255.64" y="187.30" font-size="11.8" text-anchor="start" fill="#1a1a1a" stroke="#1a1a1a" stroke-width="0.25" >10</text>
<text x="268.96" y="182.00" font-size="9.0" text-anchor="start" fill="#1a1a1a" stroke="#1a1a1a" stroke-width="0.25" >2</text>
<text x="279.04" y="187.30" font-size="11.8" text-anchor="start" fill="#1a1a1a" stroke="#1a1a1a" stroke-width="0.25" >10</text>
<text x="292.36" y="182.00" font-size="9.0" text-anchor="start" fill="#1a1a1a" stroke="#1a1a1a" stroke-width="0.25" >3</text>
<text x="302.44" y="187.30" font-size="11.8" text-anchor="start" fill="#1a1a1a" stroke="#1a1a1a" stroke-width="0.25" >10</text>
<text x="315.76" y="182.00" font-size="9.0" text-anchor="start" fill="#1a1a1a" stroke="#1a1a1a" stroke-width="0.25" >4</text>
<text x="264.70" y="208.20" font-size="14" text-anchor="middle" fill="#1a1a1a" stroke="#1a1a1a" stroke-width="0.25" textLength="64.30" lengthAdjust="spacingAndGlyphs" >pSTAT3 Y705</text>
<text x="244.20" y="49.90" font-size="11.3" text-anchor="start" fill="#1a1a1a" stroke="#1a1a1a" stroke-width="0.25" textLength="36.60" lengthAdjust="spacingAndGlyphs" >Isotype</text>
<path d="M338.00,68.50 L338.90,68.10 L340.60,66.90 L341.50,63.00 L342.30,61.20 L344.10,60.60 L344.70,56.00 L345.20,54.20 L346.60,53.70 L347.50,48.50 L348.50,46.50 L349.30,45.00 L350.20,42.00 L350.80,40.00 L351.50,42.50 L352.20,44.40 L353.90,45.00 L355.00,48.50 L356.00,54.00 L356.80,60.00 L358.00,66.50 L359.10,72.70 L360.20,78.00 L361.40,83.10 L362.50,87.30 L363.70,90.60 L365.00,93.00 L366.00,94.60 L367.80,96.00 L369.50,96.90 L372.00,98.00 L374.10,98.70 L377.00,99.00 L379.80,99.20 L381.50,99.80 L382.70,100.40 L385.00,100.40 L434.10,100.40 L434.10,100.40 L338.00,100.40 Z" fill="rgba(220,138,18,0.5)" stroke="none" stroke-width="1" />
<path d="M338.00,68.50 L338.90,68.10 L340.60,66.90 L341.50,63.00 L342.30,61.20 L344.10,60.60 L344.70,56.00 L345.20,54.20 L346.60,53.70 L347.50,48.50 L348.50,46.50 L349.30,45.00 L350.20,42.00 L350.80,40.00 L351.50,42.50 L352.20,44.40 L353.90,45.00 L355.00,48.50 L356.00,54.00 L356.80,60.00 L358.00,66.50 L359.10,72.70 L360.20,78.00 L361.40,83.10 L362.50,87.30 L363.70,90.60 L365.00,93.00 L366.00,94.60 L367.80,96.00 L369.50,96.90 L372.00,98.00 L374.10,98.70 L377.00,99.00 L379.80,99.20 L381.50,99.80 L382.70,100.40 L385.00,100.40 L434.10,100.40" fill="none" stroke="#dc8a12" stroke-width="1.2" stroke-linejoin="round"/>
<path d="M338.00,134.80 L345.00,134.80 L351.90,134.80 L356.00,134.60 L358.80,134.00 L361.30,132.80 L363.50,131.30 L365.00,128.50 L366.30,125.00 L367.50,120.50 L368.70,115.80 L370.00,110.50 L371.00,106.50 L372.10,96.00 L372.80,92.00 L373.50,87.70 L374.20,85.50 L374.70,84.20 L375.20,76.20 L376.20,74.40 L377.00,76.20 L377.60,80.00 L378.10,85.40 L378.60,92.00 L379.10,98.00 L379.60,106.50 L380.40,114.00 L381.30,123.80 L382.50,129.00 L383.70,132.50 L385.50,134.20 L387.70,134.80 L434.10,134.80 L434.10,134.80 L338.00,134.80 Z" fill="rgba(44,74,138,0.5)" stroke="none" stroke-width="1" />
<path d="M338.00,134.80 L345.00,134.80 L351.90,134.80 L356.00,134.60 L358.80,134.00 L361.30,132.80 L363.50,131.30 L365.00,128.50 L366.30,125.00 L367.50,120.50 L368.70,115.80 L370.00,110.50 L371.00,106.50 L372.10,96.00 L372.80,92.00 L373.50,87.70 L374.20,85.50 L374.70,84.20 L375.20,76.20 L376.20,74.40 L377.00,76.20 L377.60,80.00 L378.10,85.40 L378.60,92.00 L379.10,98.00 L379.60,106.50 L380.40,114.00 L381.30,123.80 L382.50,129.00 L383.70,132.50 L385.50,134.20 L387.70,134.80 L434.10,134.80" fill="none" stroke="#2c4a8a" stroke-width="1.2" stroke-linejoin="round"/>
<path d="M338.00,168.50 L365.00,168.40 L366.30,167.70 L368.00,165.80 L369.80,163.10 L371.30,159.50 L372.70,155.00 L373.80,149.50 L374.80,143.50 L375.60,136.00 L376.20,129.60 L376.80,121.00 L377.30,113.50 L378.50,112.30 L379.00,110.00 L379.60,108.30 L380.20,110.50 L380.80,113.50 L381.30,121.00 L381.70,129.60 L382.40,137.00 L383.10,143.50 L383.90,149.50 L384.80,155.00 L385.80,159.50 L386.80,163.10 L387.80,165.80 L388.80,167.70 L390.00,168.40 L434.10,168.50 L434.10,168.50 L338.00,168.50 Z" fill="rgba(184,0,44,0.5)" stroke="none" stroke-width="1" />
<path d="M338.00,168.50 L365.00,168.40 L366.30,167.70 L368.00,165.80 L369.80,163.10 L371.30,159.50 L372.70,155.00 L373.80,149.50 L374.80,143.50 L375.60,136.00 L376.20,129.60 L376.80,121.00 L377.30,113.50 L378.50,112.30 L379.00,110.00 L379.60,108.30 L380.20,110.50 L380.80,113.50 L381.30,121.00 L381.70,129.60 L382.40,137.00 L383.10,143.50 L383.90,149.50 L384.80,155.00 L385.80,159.50 L386.80,163.10 L387.80,165.80 L388.80,167.70 L390.00,168.40 L434.10,168.50" fill="none" stroke="#b8002c" stroke-width="1.2" stroke-linejoin="round"/>
<rect x="338.00" y="31.00" width="96.10" height="137.50" fill="none" stroke="#000" stroke-width="1.35" />
<line x1="338.00" y1="168.50" x2="338.00" y2="173.50" stroke="#000" stroke-width="1.1" />
<line x1="362.02" y1="168.50" x2="362.02" y2="173.50" stroke="#000" stroke-width="1.1" />
<line x1="386.05" y1="168.50" x2="386.05" y2="173.50" stroke="#000" stroke-width="1.1" />
<line x1="410.08" y1="168.50" x2="410.08" y2="173.50" stroke="#000" stroke-width="1.1" />
<line x1="434.10" y1="168.50" x2="434.10" y2="173.50" stroke="#000" stroke-width="1.1" />
<line x1="345.23" y1="168.50" x2="345.23" y2="171.50" stroke="#000" stroke-width="0.9" />
<line x1="349.46" y1="168.50" x2="349.46" y2="171.50" stroke="#000" stroke-width="0.9" />
<line x1="352.46" y1="168.50" x2="352.46" y2="171.50" stroke="#000" stroke-width="0.9" />
<line x1="354.79" y1="168.50" x2="354.79" y2="172.00" stroke="#000" stroke-width="0.9" />
<line x1="356.70" y1="168.50" x2="356.70" y2="171.50" stroke="#000" stroke-width="0.9" />
<line x1="358.30" y1="168.50" x2="358.30" y2="171.50" stroke="#000" stroke-width="0.9" />
<line x1="359.70" y1="168.50" x2="359.70" y2="171.50" stroke="#000" stroke-width="0.9" />
<line x1="360.93" y1="168.50" x2="360.93" y2="171.50" stroke="#000" stroke-width="0.9" />
<line x1="369.26" y1="168.50" x2="369.26" y2="171.50" stroke="#000" stroke-width="0.9" />
<line x1="373.49" y1="168.50" x2="373.49" y2="171.50" stroke="#000" stroke-width="0.9" />
<line x1="376.49" y1="168.50" x2="376.49" y2="171.50" stroke="#000" stroke-width="0.9" />
<line x1="378.82" y1="168.50" x2="378.82" y2="172.00" stroke="#000" stroke-width="0.9" />
<line x1="380.72" y1="168.50" x2="380.72" y2="171.50" stroke="#000" stroke-width="0.9" />
<line x1="382.33" y1="168.50" x2="382.33" y2="171.50" stroke="#000" stroke-width="0.9" />
<line x1="383.72" y1="168.50" x2="383.72" y2="171.50" stroke="#000" stroke-width="0.9" />
<line x1="384.95" y1="168.50" x2="384.95" y2="171.50" stroke="#000" stroke-width="0.9" />
<line x1="393.28" y1="168.50" x2="393.28" y2="171.50" stroke="#000" stroke-width="0.9" />
<line x1="397.51" y1="168.50" x2="397.51" y2="171.50" stroke="#000" stroke-width="0.9" />
<line x1="400.51" y1="168.50" x2="400.51" y2="171.50" stroke="#000" stroke-width="0.9" />
<line x1="402.84" y1="168.50" x2="402.84" y2="172.00" stroke="#000" stroke-width="0.9" />
<line x1="404.75" y1="168.50" x2="404.75" y2="171.50" stroke="#000" stroke-width="0.9" />
<line x1="406.35" y1="168.50" x2="406.35" y2="171.50" stroke="#000" stroke-width="0.9" />
<line x1="407.75" y1="168.50" x2="407.75" y2="171.50" stroke="#000" stroke-width="0.9" />
<line x1="408.98" y1="168.50" x2="408.98" y2="171.50" stroke="#000" stroke-width="0.9" />
<line x1="417.31" y1="168.50" x2="417.31" y2="171.50" stroke="#000" stroke-width="0.9" />
<line x1="421.54" y1="168.50" x2="421.54" y2="171.50" stroke="#000" stroke-width="0.9" />
<line x1="424.54" y1="168.50" x2="424.54" y2="171.50" stroke="#000" stroke-width="0.9" />
<line x1="426.87" y1="168.50" x2="426.87" y2="172.00" stroke="#000" stroke-width="0.9" />
<line x1="428.77" y1="168.50" x2="428.77" y2="171.50" stroke="#000" stroke-width="0.9" />
<line x1="430.38" y1="168.50" x2="430.38" y2="171.50" stroke="#000" stroke-width="0.9" />
<line x1="431.77" y1="168.50" x2="431.77" y2="171.50" stroke="#000" stroke-width="0.9" />
<line x1="433.00" y1="168.50" x2="433.00" y2="171.50" stroke="#000" stroke-width="0.9" />
<text x="338.00" y="187.30" font-size="11.8" text-anchor="middle" fill="#1a1a1a" stroke="#1a1a1a" stroke-width="0.25" >0</text>
<text x="362.02" y="187.30" font-size="11.8" text-anchor="middle" fill="#1a1a1a" stroke="#1a1a1a" stroke-width="0.25" >10</text>
<text x="376.99" y="187.30" font-size="11.8" text-anchor="start" fill="#1a1a1a" stroke="#1a1a1a" stroke-width="0.25" >10</text>
<text x="390.31" y="182.00" font-size="9.0" text-anchor="start" fill="#1a1a1a" stroke="#1a1a1a" stroke-width="0.25" >2</text>
<text x="401.01" y="187.30" font-size="11.8" text-anchor="start" fill="#1a1a1a" stroke="#1a1a1a" stroke-width="0.25" >10</text>
<text x="414.33" y="182.00" font-size="9.0" text-anchor="start" fill="#1a1a1a" stroke="#1a1a1a" stroke-width="0.25" >3</text>
<text x="425.04" y="187.30" font-size="11.8" text-anchor="start" fill="#1a1a1a" stroke="#1a1a1a" stroke-width="0.25" >10</text>
<text x="438.36" y="182.00" font-size="9.0" text-anchor="start" fill="#1a1a1a" stroke="#1a1a1a" stroke-width="0.25" >4</text>
<text x="384.50" y="208.20" font-size="14" text-anchor="middle" fill="#1a1a1a" stroke="#1a1a1a" stroke-width="0.25" textLength="28.60" lengthAdjust="spacingAndGlyphs" >ROR1</text>
<text x="373.40" y="50.40" font-size="11.3" text-anchor="start" fill="#1a1a1a" stroke="#1a1a1a" stroke-width="0.25" textLength="36.60" lengthAdjust="spacingAndGlyphs" >Isotype</text>
<line x1="59.30" y1="263.70" x2="59.30" y2="408.60" stroke="#000" stroke-width="1.5" />
<line x1="58.60" y1="408.60" x2="238.00" y2="408.60" stroke="#000" stroke-width="1.5" />
<line x1="54.80" y1="408.60" x2="59.30" y2="408.60" stroke="#000" stroke-width="1.3" />
<text x="50.00" y="412.60" font-size="11.3" text-anchor="end" fill="#1a1a1a" stroke="#1a1a1a" stroke-width="0.25" >0</text>
<line x1="54.80" y1="373.30" x2="59.30" y2="373.30" stroke="#000" stroke-width="1.3" />
<text x="50.00" y="377.30" font-size="11.3" text-anchor="end" fill="#1a1a1a" stroke="#1a1a1a" stroke-width="0.25" >20</text>
<line x1="54.80" y1="338.00" x2="59.30" y2="338.00" stroke="#000" stroke-width="1.3" />
<text x="50.00" y="342.00" font-size="11.3" text-anchor="end" fill="#1a1a1a" stroke="#1a1a1a" stroke-width="0.25" >40</text>
<line x1="54.80" y1="302.70" x2="59.30" y2="302.70" stroke="#000" stroke-width="1.3" />
<text x="50.00" y="306.70" font-size="11.3" text-anchor="end" fill="#1a1a1a" stroke="#1a1a1a" stroke-width="0.25" >60</text>
<line x1="54.80" y1="267.40" x2="59.30" y2="267.40" stroke="#000" stroke-width="1.3" />
<text x="50.00" y="271.40" font-size="11.3" text-anchor="end" fill="#1a1a1a" stroke="#1a1a1a" stroke-width="0.25" >80</text>
<line x1="86.70" y1="408.60" x2="86.70" y2="413.30" stroke="#000" stroke-width="1.3" />
<line x1="128.00" y1="408.60" x2="128.00" y2="413.30" stroke="#000" stroke-width="1.3" />
<line x1="169.30" y1="408.60" x2="169.30" y2="413.30" stroke="#000" stroke-width="1.3" />
<line x1="210.60" y1="408.60" x2="210.60" y2="413.30" stroke="#000" stroke-width="1.3" />
<text x="49.30" y="427.10" font-size="11.5" text-anchor="end" fill="#1a1a1a" stroke="#1a1a1a" stroke-width="0.25" textLength="28.50" lengthAdjust="spacingAndGlyphs" >ROR1</text>
<text x="86.70" y="427.10" font-size="11.5" text-anchor="middle" fill="#1a1a1a" stroke="#1a1a1a" stroke-width="0.25" >High</text>
<text x="128.00" y="427.10" font-size="11.5" text-anchor="middle" fill="#1a1a1a" stroke="#1a1a1a" stroke-width="0.25" >High</text>
<text x="169.30" y="427.10" font-size="11.5" text-anchor="middle" fill="#1a1a1a" stroke="#1a1a1a" stroke-width="0.25" >Low</text>
<text x="210.60" y="427.10" font-size="11.5" text-anchor="middle" fill="#1a1a1a" stroke="#1a1a1a" stroke-width="0.25" >Low</text>
<text x="49.30" y="443.60" font-size="11.5" text-anchor="end" fill="#1a1a1a" stroke="#1a1a1a" stroke-width="0.25" textLength="22.30" lengthAdjust="spacingAndGlyphs" >CD5</text>
<text x="86.70" y="443.60" font-size="11.5" text-anchor="middle" fill="#1a1a1a" stroke="#1a1a1a" stroke-width="0.25" >Dim</text>
<text x="128.00" y="443.60" font-size="11.5" text-anchor="middle" fill="#1a1a1a" stroke="#1a1a1a" stroke-width="0.25" >High</text>
<text x="169.30" y="443.60" font-size="11.5" text-anchor="middle" fill="#1a1a1a" stroke="#1a1a1a" stroke-width="0.25" >Dim</text>
<text x="210.60" y="443.60" font-size="11.5" text-anchor="middle" fill="#1a1a1a" stroke="#1a1a1a" stroke-width="0.25" >High</text>
<text x="49.30" y="460.50" font-size="11.5" text-anchor="end" fill="#1a1a1a" stroke="#1a1a1a" stroke-width="0.25" textLength="35.50" lengthAdjust="spacingAndGlyphs" >CXCR4</text>
<text x="86.70" y="460.50" font-size="11.5" text-anchor="middle" fill="#1a1a1a" stroke="#1a1a1a" stroke-width="0.25" >High</text>
<text x="128.00" y="460.50" font-size="11.5" text-anchor="middle" fill="#1a1a1a" stroke="#1a1a1a" stroke-width="0.25" >Dim</text>
<text x="169.30" y="460.50" font-size="11.5" text-anchor="middle" fill="#1a1a1a" stroke="#1a1a1a" stroke-width="0.25" >High</text>
<text x="210.60" y="460.50" font-size="11.5" text-anchor="middle" fill="#1a1a1a" stroke="#1a1a1a" stroke-width="0.25" >Dim</text>
<text x="27.80" y="336.00" font-size="14" text-anchor="middle" fill="#1a1a1a" stroke="#1a1a1a" stroke-width="0.25" textLength="60.60" lengthAdjust="spacingAndGlyphs" transform="rotate(-90 27.80 336.00)" >ROR1 ΔMFI</text>
<line x1="73.05" y1="337.70" x2="100.35" y2="337.70" stroke="#000" stroke-width="1.4" />
<line x1="80.00" y1="322.00" x2="93.40" y2="322.00" stroke="#000" stroke-width="1.4" />
<line x1="80.00" y1="353.10" x2="93.40" y2="353.10" stroke="#000" stroke-width="1.4" />
<line x1="86.70" y1="322.00" x2="86.70" y2="353.10" stroke="#000" stroke-width="1.4" />
<circle cx="83.50" cy="309.60" r="2.55" fill="#a8002a"/>
<circle cx="90.20" cy="316.30" r="2.55" fill="#a8002a"/>
<circle cx="86.70" cy="325.20" r="2.55" fill="#a8002a"/>
<circle cx="83.50" cy="331.20" r="2.55" fill="#a8002a"/>
<circle cx="90.40" cy="333.80" r="2.55" fill="#a8002a"/>
<circle cx="83.50" cy="342.50" r="2.55" fill="#a8002a"/>
<circle cx="76.50" cy="346.90" r="2.55" fill="#a8002a"/>
<circle cx="83.50" cy="346.90" r="2.55" fill="#a8002a"/>
<circle cx="90.00" cy="350.20" r="2.55" fill="#a8002a"/>
<circle cx="97.10" cy="350.80" r="2.55" fill="#a8002a"/>
<circle cx="86.70" cy="364.20" r="2.55" fill="#a8002a"/>
<line x1="114.35" y1="310.20" x2="141.65" y2="310.20" stroke="#000" stroke-width="1.4" />
<line x1="121.45" y1="293.80" x2="134.55" y2="293.80" stroke="#000" stroke-width="1.4" />
<line x1="121.45" y1="326.80" x2="134.55" y2="326.80" stroke="#000" stroke-width="1.4" />
<line x1="128.00" y1="293.80" x2="128.00" y2="326.80" stroke="#000" stroke-width="1.4" />
<rect x="116.05" y="283.95" width="5.9" height="5.9" fill="#a8002a"/>
<rect x="134.35" y="289.75" width="5.9" height="5.9" fill="#a8002a"/>
<rect x="124.75" y="292.25" width="5.9" height="5.9" fill="#a8002a"/>
<rect x="116.05" y="294.15" width="5.9" height="5.9" fill="#a8002a"/>
<rect x="124.75" y="298.05" width="5.9" height="5.9" fill="#a8002a"/>
<rect x="134.35" y="302.45" width="5.9" height="5.9" fill="#a8002a"/>
<rect x="124.75" y="310.55" width="5.9" height="5.9" fill="#a8002a"/>
<rect x="116.05" y="315.35" width="5.9" height="5.9" fill="#a8002a"/>
<rect x="124.75" y="314.35" width="5.9" height="5.9" fill="#a8002a"/>
<rect x="134.35" y="319.75" width="5.9" height="5.9" fill="#a8002a"/>
<rect x="120.15" y="330.65" width="5.9" height="5.9" fill="#a8002a"/>
<rect x="129.45" y="335.85" width="5.9" height="5.9" fill="#a8002a"/>
<line x1="155.90" y1="390.50" x2="182.70" y2="390.50" stroke="#000" stroke-width="1.4" />
<line x1="162.70" y1="382.40" x2="175.90" y2="382.40" stroke="#000" stroke-width="1.4" />
<line x1="162.70" y1="398.70" x2="175.90" y2="398.70" stroke="#000" stroke-width="1.4" />
<line x1="169.30" y1="382.40" x2="169.30" y2="398.70" stroke="#000" stroke-width="1.4" />
<path d="M169.20,363.40 L172.60,369.20 L165.80,369.20 Z" fill="#a8002a" stroke="none" stroke-width="1" />
<path d="M169.60,384.70 L173.00,390.50 L166.20,390.50 Z" fill="#a8002a" stroke="none" stroke-width="1" />
<path d="M169.60,388.10 L173.00,393.90 L166.20,393.90 Z" fill="#a8002a" stroke="none" stroke-width="1" />
<path d="M167.60,387.70 L171.00,393.50 L164.20,393.50 Z" fill="#a8002a" stroke="none" stroke-width="1" />
<path d="M171.60,387.70 L175.00,393.50 L168.20,393.50 Z" fill="#a8002a" stroke="none" stroke-width="1" />
<path d="M159.80,391.30 L163.20,397.10 L156.40,397.10 Z" fill="#a8002a" stroke="none" stroke-width="1" />
<path d="M163.20,392.30 L166.60,398.10 L159.80,398.10 Z" fill="#a8002a" stroke="none" stroke-width="1" />
<path d="M166.30,392.60 L169.70,398.40 L162.90,398.40 Z" fill="#a8002a" stroke="none" stroke-width="1" />
<path d="M172.50,392.60 L175.90,398.40 L169.10,398.40 Z" fill="#a8002a" stroke="none" stroke-width="1" />
<path d="M176.50,389.80 L179.90,395.60 L173.10,395.60 Z" fill="#a8002a" stroke="none" stroke-width="1" />
<path d="M174.30,393.10 L177.70,398.90 L170.90,398.90 Z" fill="#a8002a" stroke="none" stroke-width="1" />
<path d="M179.30,395.40 L182.70,401.20 L175.90,401.20 Z" fill="#a8002a" stroke="none" stroke-width="1" />
<line x1="197.15" y1="384.80" x2="224.05" y2="384.80" stroke="#000" stroke-width="1.4" />
<line x1="204.30" y1="370.40" x2="216.90" y2="370.40" stroke="#000" stroke-width="1.4" />
<line x1="204.30" y1="398.50" x2="216.90" y2="398.50" stroke="#000" stroke-width="1.4" />
<line x1="210.60" y1="370.40" x2="210.60" y2="398.50" stroke="#000" stroke-width="1.4" />
<path d="M205.40,364.20 L208.80,358.40 L202.00,358.40 Z" fill="#a8002a" stroke="none" stroke-width="1" />
<path d="M216.00,365.20 L219.40,359.40 L212.60,359.40 Z" fill="#a8002a" stroke="none" stroke-width="1" />
<path d="M208.60,371.90 L212.00,366.10 L205.20,366.10 Z" fill="#a8002a" stroke="none" stroke-width="1" />
<path d="M212.40,371.90 L215.80,366.10 L209.00,366.10 Z" fill="#a8002a" stroke="none" stroke-width="1" />
<path d="M210.20,389.20 L213.60,383.40 L206.80,383.40 Z" fill="#a8002a" stroke="none" stroke-width="1" />
<path d="M200.60,395.90 L204.00,390.10 L197.20,390.10 Z" fill="#a8002a" stroke="none" stroke-width="1" />
<path d="M205.40,395.90 L208.80,390.10 L202.00,390.10 Z" fill="#a8002a" stroke="none" stroke-width="1" />
<path d="M210.20,395.90 L213.60,390.10 L206.80,390.10 Z" fill="#a8002a" stroke="none" stroke-width="1" />
<path d="M214.00,395.90 L217.40,390.10 L210.60,390.10 Z" fill="#a8002a" stroke="none" stroke-width="1" />
<path d="M217.90,395.90 L221.30,390.10 L214.50,390.10 Z" fill="#a8002a" stroke="none" stroke-width="1" />
<path d="M221.20,400.80 L224.60,395.00 L217.80,395.00 Z" fill="#a8002a" stroke="none" stroke-width="1" />
<path d="M82.50,278.50 L82.50,272.20 L129.20,272.20 L129.20,278.50" fill="none" stroke="#000" stroke-width="1.3" />
<text x="105.50" y="264.40" font-size="11.5" text-anchor="middle" fill="#1a1a1a" stroke="#1a1a1a" stroke-width="0.25" textLength="54.40" lengthAdjust="spacingAndGlyphs" >p &lt; 0.0001</text>
<path d="M167.50,347.90 L167.50,341.70 L210.20,341.70 L210.20,347.90" fill="none" stroke="#000" stroke-width="1.3" />
<text x="188.40" y="334.40" font-size="11.5" text-anchor="middle" fill="#1a1a1a" stroke="#1a1a1a" stroke-width="0.25" textLength="54.40" lengthAdjust="spacingAndGlyphs" >p = 0.0751</text>
<line x1="311.60" y1="272.30" x2="311.60" y2="408.30" stroke="#000" stroke-width="1.5" />
<line x1="310.90" y1="408.30" x2="499.00" y2="408.30" stroke="#000" stroke-width="1.5" />
<line x1="307.00" y1="408.30" x2="311.60" y2="408.30" stroke="#000" stroke-width="1.3" />
<text x="302.20" y="412.30" font-size="11.3" text-anchor="end" fill="#1a1a1a" stroke="#1a1a1a" stroke-width="0.25" >0</text>
<line x1="307.00" y1="381.92" x2="311.60" y2="381.92" stroke="#000" stroke-width="1.3" />
<text x="302.20" y="385.92" font-size="11.3" text-anchor="end" fill="#1a1a1a" stroke="#1a1a1a" stroke-width="0.25" >20</text>
<line x1="307.00" y1="355.54" x2="311.60" y2="355.54" stroke="#000" stroke-width="1.3" />
<text x="302.20" y="359.54" font-size="11.3" text-anchor="end" fill="#1a1a1a" stroke="#1a1a1a" stroke-width="0.25" >40</text>
<line x1="307.00" y1="329.16" x2="311.60" y2="329.16" stroke="#000" stroke-width="1.3" />
<text x="302.20" y="333.16" font-size="11.3" text-anchor="end" fill="#1a1a1a" stroke="#1a1a1a" stroke-width="0.25" >60</text>
<line x1="307.00" y1="302.78" x2="311.60" y2="302.78" stroke="#000" stroke-width="1.3" />
<text x="302.20" y="306.78" font-size="11.3" text-anchor="end" fill="#1a1a1a" stroke="#1a1a1a" stroke-width="0.25" >80</text>
<line x1="307.00" y1="276.40" x2="311.60" y2="276.40" stroke="#000" stroke-width="1.3" />
<text x="302.20" y="280.40" font-size="11.3" text-anchor="end" fill="#1a1a1a" stroke="#1a1a1a" stroke-width="0.25" >100</text>
<line x1="342.20" y1="408.30" x2="342.20" y2="413.00" stroke="#000" stroke-width="1.3" />
<line x1="387.40" y1="408.30" x2="387.40" y2="413.00" stroke="#000" stroke-width="1.3" />
<line x1="432.60" y1="408.30" x2="432.60" y2="413.00" stroke="#000" stroke-width="1.3" />
<line x1="477.80" y1="408.30" x2="477.80" y2="413.00" stroke="#000" stroke-width="1.3" />
<text x="302.30" y="427.10" font-size="11.5" text-anchor="end" fill="#1a1a1a" stroke="#1a1a1a" stroke-width="0.25" textLength="28.50" lengthAdjust="spacingAndGlyphs" >ROR1</text>
<text x="342.20" y="427.10" font-size="11.5" text-anchor="middle" fill="#1a1a1a" stroke="#1a1a1a" stroke-width="0.25" >High</text>
<text x="387.40" y="427.10" font-size="11.5" text-anchor="middle" fill="#1a1a1a" stroke="#1a1a1a" stroke-width="0.25" >High</text>
<text x="432.60" y="427.10" font-size="11.5" text-anchor="middle" fill="#1a1a1a" stroke="#1a1a1a" stroke-width="0.25" >Low</text>
<text x="477.80" y="427.10" font-size="11.5" text-anchor="middle" fill="#1a1a1a" stroke="#1a1a1a" stroke-width="0.25" >Low</text>
<text x="302.30" y="443.60" font-size="11.5" text-anchor="end" fill="#1a1a1a" stroke="#1a1a1a" stroke-width="0.25" textLength="22.30" lengthAdjust="spacingAndGlyphs" >CD5</text>
<text x="342.20" y="443.60" font-size="11.5" text-anchor="middle" fill="#1a1a1a" stroke="#1a1a1a" stroke-width="0.25" >Dim</text>
<text x="387.40" y="443.60" font-size="11.5" text-anchor="middle" fill="#1a1a1a" stroke="#1a1a1a" stroke-width="0.25" >High</text>
<text x="432.60" y="443.60" font-size="11.5" text-anchor="middle" fill="#1a1a1a" stroke="#1a1a1a" stroke-width="0.25" >Dim</text>
<text x="477.80" y="443.60" font-size="11.5" text-anchor="middle" fill="#1a1a1a" stroke="#1a1a1a" stroke-width="0.25" >High</text>
<text x="302.30" y="460.50" font-size="11.5" text-anchor="end" fill="#1a1a1a" stroke="#1a1a1a" stroke-width="0.25" textLength="35.50" lengthAdjust="spacingAndGlyphs" >CXCR4</text>
<text x="342.20" y="460.50" font-size="11.5" text-anchor="middle" fill="#1a1a1a" stroke="#1a1a1a" stroke-width="0.25" >High</text>
<text x="387.40" y="460.50" font-size="11.5" text-anchor="middle" fill="#1a1a1a" stroke="#1a1a1a" stroke-width="0.25" >Dim</text>
<text x="432.60" y="460.50" font-size="11.5" text-anchor="middle" fill="#1a1a1a" stroke="#1a1a1a" stroke-width="0.25" >High</text>
<text x="477.80" y="460.50" font-size="11.5" text-anchor="middle" fill="#1a1a1a" stroke="#1a1a1a" stroke-width="0.25" >Dim</text>
<text x="274.50" y="340.40" font-size="14" text-anchor="middle" fill="#1a1a1a" stroke="#1a1a1a" stroke-width="0.25" textLength="67.00" lengthAdjust="spacingAndGlyphs" transform="rotate(-90 274.50 340.40)" >pSTAT3 ΔMFI</text>
<line x1="327.30" y1="380.00" x2="357.10" y2="380.00" stroke="#000" stroke-width="1.4" />
<line x1="335.00" y1="366.20" x2="349.40" y2="366.20" stroke="#000" stroke-width="1.4" />
<line x1="335.00" y1="394.00" x2="349.40" y2="394.00" stroke="#000" stroke-width="1.4" />
<line x1="342.20" y1="366.20" x2="342.20" y2="394.00" stroke="#000" stroke-width="1.4" />
<circle cx="342.50" cy="340.40" r="2.6" fill="#a8002a"/>
<circle cx="340.20" cy="371.50" r="2.6" fill="#a8002a"/>
<circle cx="344.60" cy="371.50" r="2.6" fill="#a8002a"/>
<circle cx="337.30" cy="380.00" r="2.6" fill="#a8002a"/>
<circle cx="343.10" cy="383.50" r="2.6" fill="#a8002a"/>
<circle cx="346.90" cy="383.50" r="2.6" fill="#a8002a"/>
<circle cx="330.60" cy="385.40" r="2.6" fill="#a8002a"/>
<circle cx="334.80" cy="387.70" r="2.6" fill="#a8002a"/>
<circle cx="339.80" cy="390.60" r="2.6" fill="#a8002a"/>
<circle cx="349.40" cy="390.20" r="2.6" fill="#a8002a"/>
<circle cx="354.20" cy="392.50" r="2.6" fill="#a8002a"/>
<line x1="372.30" y1="363.30" x2="402.50" y2="363.30" stroke="#000" stroke-width="1.4" />
<line x1="380.00" y1="342.10" x2="394.80" y2="342.10" stroke="#000" stroke-width="1.4" />
<line x1="380.00" y1="384.80" x2="394.80" y2="384.80" stroke="#000" stroke-width="1.4" />
<line x1="387.40" y1="342.10" x2="387.40" y2="384.80" stroke="#000" stroke-width="1.4" />
<circle cx="387.50" cy="305.00" r="2.6" fill="#a8002a"/>
<circle cx="391.50" cy="349.80" r="2.6" fill="#a8002a"/>
<circle cx="383.50" cy="354.00" r="2.6" fill="#a8002a"/>
<circle cx="387.70" cy="356.90" r="2.6" fill="#a8002a"/>
<circle cx="391.50" cy="368.10" r="2.6" fill="#a8002a"/>
<circle cx="387.70" cy="371.00" r="2.6" fill="#a8002a"/>
<circle cx="399.40" cy="371.00" r="2.6" fill="#a8002a"/>
<circle cx="375.80" cy="372.50" r="2.6" fill="#a8002a"/>
<circle cx="379.60" cy="372.90" r="2.6" fill="#a8002a"/>
<circle cx="383.50" cy="375.80" r="2.6" fill="#a8002a"/>
<circle cx="395.60" cy="375.80" r="2.6" fill="#a8002a"/>
<circle cx="387.30" cy="388.30" r="2.6" fill="#a8002a"/>
<line x1="417.55" y1="398.10" x2="447.65" y2="398.10" stroke="#000" stroke-width="1.4" />
<line x1="425.60" y1="396.40" x2="439.60" y2="396.40" stroke="#000" stroke-width="1.4" />
<line x1="425.60" y1="399.80" x2="439.60" y2="399.80" stroke="#000" stroke-width="1.4" />
<line x1="432.60" y1="396.40" x2="432.60" y2="399.80" stroke="#000" stroke-width="1.4" />
<circle cx="428.10" cy="393.20" r="2.6" fill="#a8002a"/>
<circle cx="436.50" cy="394.20" r="2.6" fill="#a8002a"/>
<circle cx="421.20" cy="397.80" r="2.6" fill="#a8002a"/>
<circle cx="424.20" cy="398.10" r="2.6" fill="#a8002a"/>
<circle cx="429.60" cy="397.80" r="2.6" fill="#a8002a"/>
<circle cx="432.70" cy="398.10" r="2.6" fill="#a8002a"/>
<circle cx="438.10" cy="397.30" r="2.6" fill="#a8002a"/>
<circle cx="440.40" cy="400.10" r="2.6" fill="#a8002a"/>
<circle cx="443.50" cy="398.10" r="2.6" fill="#a8002a"/>
<circle cx="445.00" cy="401.20" r="2.6" fill="#a8002a"/>
<line x1="468.00" y1="390.40" x2="488.30" y2="390.40" stroke="#000" stroke-width="1.4" />
<line x1="471.20" y1="394.20" x2="485.80" y2="394.20" stroke="#000" stroke-width="1.4" />
<line x1="477.80" y1="390.40" x2="477.80" y2="394.20" stroke="#000" stroke-width="1.4" />
<circle cx="472.70" cy="385.00" r="2.6" fill="#a8002a"/>
<circle cx="478.10" cy="385.80" r="2.6" fill="#a8002a"/>
<circle cx="484.20" cy="385.50" r="2.6" fill="#a8002a"/>
<circle cx="465.80" cy="389.90" r="2.6" fill="#a8002a"/>
<circle cx="468.80" cy="389.90" r="2.6" fill="#a8002a"/>
<circle cx="475.80" cy="388.80" r="2.6" fill="#a8002a"/>
<circle cx="487.30" cy="388.10" r="2.6" fill="#a8002a"/>
<circle cx="490.40" cy="389.60" r="2.6" fill="#a8002a"/>
<circle cx="476.50" cy="393.50" r="2.6" fill="#a8002a"/>
<circle cx="478.10" cy="395.80" r="2.6" fill="#a8002a"/>
<circle cx="481.20" cy="398.80" r="2.6" fill="#a8002a"/>
<path d="M342.50,295.70 L342.50,290.10 L385.80,290.10 L385.80,295.70" fill="none" stroke="#000" stroke-width="1.3" />
<text x="363.80" y="282.50" font-size="11.5" text-anchor="middle" fill="#1a1a1a" stroke="#1a1a1a" stroke-width="0.25" textLength="54.40" lengthAdjust="spacingAndGlyphs" >p &lt; 0.0001</text>
<path d="M389.20,295.70 L389.20,290.10 L475.80,290.10 L475.80,295.70" fill="none" stroke="#000" stroke-width="1.3" />
<text x="432.00" y="282.50" font-size="11.5" text-anchor="middle" fill="#1a1a1a" stroke="#1a1a1a" stroke-width="0.25" textLength="54.30" lengthAdjust="spacingAndGlyphs" >p &lt; 0.0001</text>
<path d="M340.80,333.40 L340.80,327.50 L427.30,327.50 L427.30,333.40" fill="none" stroke="#000" stroke-width="1.3" />
<text x="363.80" y="318.80" font-size="11.5" text-anchor="middle" fill="#1a1a1a" stroke="#1a1a1a" stroke-width="0.25" textLength="54.40" lengthAdjust="spacingAndGlyphs" >p &lt; 0.0001</text>
<path d="M430.20,370.80 L430.20,365.10 L473.70,365.10 L473.70,370.80" fill="none" stroke="#000" stroke-width="1.3" />
<text x="451.50" y="357.30" font-size="11.5" text-anchor="middle" fill="#1a1a1a" stroke="#1a1a1a" stroke-width="0.25" textLength="54.70" lengthAdjust="spacingAndGlyphs" >p &lt; 0.0001</text>
<text x="159.30" y="518.50" font-size="14" text-anchor="middle" fill="#111" stroke="#111" stroke-width="0.25" textLength="90.90" lengthAdjust="spacingAndGlyphs" >STAT3 targets</text>
<rect x="59.90" y="624.00" width="3.40" height="30.50" fill="rgba(0,0,0,0.95)" stroke="none" stroke-width="1" />
<rect x="63.80" y="624.00" width="0.90" height="30.50" fill="rgba(0,0,0,0.5)" stroke="none" stroke-width="1" />
<rect x="65.20" y="624.00" width="0.70" height="30.50" fill="rgba(0,0,0,0.75)" stroke="none" stroke-width="1" />
<rect x="66.70" y="624.00" width="0.90" height="30.50" fill="rgba(0,0,0,0.3)" stroke="none" stroke-width="1" />
<rect x="69.00" y="624.00" width="1.30" height="30.50" fill="rgba(0,0,0,0.85)" stroke="none" stroke-width="1" />
<rect x="72.00" y="624.00" width="1.40" height="30.50" fill="rgba(0,0,0,0.85)" stroke="none" stroke-width="1" />
<rect x="75.80" y="624.00" width="1.00" height="30.50" fill="rgba(0,0,0,0.5)" stroke="none" stroke-width="1" />
<rect x="78.20" y="624.00" width="1.00" height="30.50" fill="rgba(0,0,0,0.3)" stroke="none" stroke-width="1" />
<rect x="80.10" y="624.00" width="1.00" height="30.50" fill="rgba(0,0,0,0.3)" stroke="none" stroke-width="1" />
<rect x="82.50" y="624.00" width="4.30" height="30.50" fill="rgba(0,0,0,0.6)" stroke="none" stroke-width="1" />
<rect x="83.50" y="624.00" width="1.50" height="30.50" fill="rgba(0,0,0,0.3)" stroke="none" stroke-width="1" />
<rect x="88.30" y="624.00" width="1.40" height="30.50" fill="rgba(0,0,0,0.85)" stroke="none" stroke-width="1" />
<rect x="96.00" y="624.00" width="0.90" height="30.50" fill="rgba(0,0,0,0.5)" stroke="none" stroke-width="1" />
<rect x="100.30" y="624.00" width="1.50" height="30.50" fill="rgba(0,0,0,0.85)" stroke="none" stroke-width="1" />
<rect x="104.20" y="624.00" width="1.40" height="30.50" fill="rgba(0,0,0,0.3)" stroke="none" stroke-width="1" />
<rect x="105.00" y="624.00" width="0.80" height="30.50" fill="rgba(0,0,0,0.3)" stroke="none" stroke-width="1" />
<rect x="111.30" y="624.00" width="1.40" height="30.50" fill="rgba(0,0,0,0.6)" stroke="none" stroke-width="1" />
<rect x="113.70" y="624.00" width="0.90" height="30.50" fill="rgba(0,0,0,0.3)" stroke="none" stroke-width="1" />
<rect x="115.10" y="624.00" width="1.00" height="30.50" fill="rgba(0,0,0,0.3)" stroke="none" stroke-width="1" />
<rect x="117.00" y="624.00" width="1.50" height="30.50" fill="rgba(0,0,0,0.6)" stroke="none" stroke-width="1" />
<rect x="123.30" y="624.00" width="1.40" height="30.50" fill="rgba(0,0,0,0.6)" stroke="none" stroke-width="1" />
<rect x="126.20" y="624.00" width="3.80" height="30.50" fill="rgba(0,0,0,0.6)" stroke="none" stroke-width="1" />
<rect x="130.50" y="624.00" width="1.40" height="30.50" fill="rgba(0,0,0,0.3)" stroke="none" stroke-width="1" />
<rect x="132.90" y="624.00" width="0.90" height="30.50" fill="rgba(0,0,0,0.8)" stroke="none" stroke-width="1" />
<rect x="136.70" y="624.00" width="1.20" height="30.50" fill="rgba(0,0,0,0.8)" stroke="none" stroke-width="1" />
<rect x="138.70" y="624.00" width="0.90" height="30.50" fill="rgba(0,0,0,0.3)" stroke="none" stroke-width="1" />
<rect x="141.10" y="624.00" width="1.40" height="30.50" fill="rgba(0,0,0,0.95)" stroke="none" stroke-width="1" />
<rect x="145.90" y="624.00" width="0.90" height="30.50" fill="rgba(0,0,0,0.3)" stroke="none" stroke-width="1" />
<rect x="149.00" y="624.00" width="1.40" height="30.50" fill="rgba(0,0,0,0.8)" stroke="none" stroke-width="1" />
<rect x="154.40" y="624.00" width="1.30" height="30.50" fill="rgba(0,0,0,0.4)" stroke="none" stroke-width="1" />
<rect x="158.00" y="624.00" width="1.50" height="30.50" fill="rgba(0,0,0,0.65)" stroke="none" stroke-width="1" />
<rect x="160.80" y="624.00" width="1.30" height="30.50" fill="rgba(0,0,0,0.85)" stroke="none" stroke-width="1" />
<rect x="166.90" y="624.00" width="1.00" height="30.50" fill="rgba(0,0,0,0.4)" stroke="none" stroke-width="1" />
<rect x="169.10" y="624.00" width="1.70" height="30.50" fill="rgba(0,0,0,0.85)" stroke="none" stroke-width="1" />
<rect x="175.10" y="624.00" width="0.90" height="30.50" fill="rgba(0,0,0,0.3)" stroke="none" stroke-width="1" />
<rect x="176.80" y="624.00" width="1.20" height="30.50" fill="rgba(0,0,0,0.5)" stroke="none" stroke-width="1" />
<rect x="181.30" y="624.00" width="2.40" height="30.50" fill="rgba(0,0,0,0.5)" stroke="none" stroke-width="1" />
<rect x="186.60" y="624.00" width="1.50" height="30.50" fill="rgba(0,0,0,0.85)" stroke="none" stroke-width="1" />
<rect x="189.50" y="624.00" width="1.40" height="30.50" fill="rgba(0,0,0,0.3)" stroke="none" stroke-width="1" />
<rect x="198.20" y="624.00" width="1.60" height="30.50" fill="rgba(0,0,0,0.85)" stroke="none" stroke-width="1" />
<rect x="201.00" y="624.00" width="1.10" height="30.50" fill="rgba(0,0,0,0.6)" stroke="none" stroke-width="1" />
<rect x="202.80" y="624.00" width="2.00" height="30.50" fill="rgba(0,0,0,0.25)" stroke="none" stroke-width="1" />
<rect x="206.20" y="624.00" width="1.50" height="30.50" fill="rgba(0,0,0,0.5)" stroke="none" stroke-width="1" />
<rect x="211.00" y="624.00" width="1.00" height="30.50" fill="rgba(0,0,0,0.85)" stroke="none" stroke-width="1" />
<rect x="213.90" y="624.00" width="1.00" height="30.50" fill="rgba(0,0,0,0.85)" stroke="none" stroke-width="1" />
<rect x="217.10" y="624.00" width="1.60" height="30.50" fill="rgba(0,0,0,0.35)" stroke="none" stroke-width="1" />
<rect x="223.00" y="624.00" width="1.00" height="30.50" fill="rgba(0,0,0,0.85)" stroke="none" stroke-width="1" />
<rect x="225.90" y="624.00" width="1.00" height="30.50" fill="rgba(0,0,0,0.85)" stroke="none" stroke-width="1" />
<rect x="227.80" y="624.00" width="2.00" height="30.50" fill="rgba(0,0,0,0.25)" stroke="none" stroke-width="1" />
<rect x="231.20" y="624.00" width="1.00" height="30.50" fill="rgba(0,0,0,0.5)" stroke="none" stroke-width="1" />
<rect x="232.70" y="624.00" width="7.60" height="30.50" fill="rgba(0,0,0,0.3)" stroke="none" stroke-width="1" />
<rect x="236.00" y="624.00" width="4.00" height="30.50" fill="rgba(0,0,0,0.15)" stroke="none" stroke-width="1" />
<rect x="240.80" y="624.00" width="1.30" height="30.50" fill="rgba(0,0,0,0.85)" stroke="none" stroke-width="1" />
<rect x="242.80" y="624.00" width="2.40" height="30.50" fill="rgba(0,0,0,0.4)" stroke="none" stroke-width="1" />
<rect x="247.10" y="624.00" width="0.90" height="30.50" fill="rgba(0,0,0,0.8)" stroke="none" stroke-width="1" />
<line x1="59.40" y1="622.60" x2="258.90" y2="622.60" stroke="#d8d8d8" stroke-width="0.8" />
<line x1="59.40" y1="654.60" x2="258.90" y2="654.60" stroke="#e8e8e8" stroke-width="0.6" />
<line x1="59.40" y1="662.00" x2="258.90" y2="662.00" stroke="#cfcfcf" stroke-width="0.8" />
<rect x="60.00" y="654.90" width="18.05" height="6.60" fill="#d9525a" stroke="none" stroke-width="1" />
<rect x="78.00" y="654.90" width="14.05" height="6.60" fill="#db5a62" stroke="none" stroke-width="1" />
<rect x="92.00" y="654.90" width="16.05" height="6.60" fill="#e1707a" stroke="none" stroke-width="1" />
<rect x="108.00" y="654.90" width="16.05" height="6.60" fill="#e4818b" stroke="none" stroke-width="1" />
<rect x="124.00" y="654.90" width="13.05" height="6.60" fill="#edb0d8" stroke="none" stroke-width="1" />
<rect x="137.00" y="654.90" width="12.05" height="6.60" fill="#e6bfe6" stroke="none" stroke-width="1" />
<rect x="149.00" y="654.90" width="21.05" height="6.60" fill="#d7d7f8" stroke="none" stroke-width="1" />
<rect x="170.00" y="654.90" width="22.05" height="6.60" fill="#c6c6f4" stroke="none" stroke-width="1" />
<rect x="192.00" y="654.90" width="15.05" height="6.60" fill="#9090f0" stroke="none" stroke-width="1" />
<rect x="207.00" y="654.90" width="15.05" height="6.60" fill="#6e6aea" stroke="none" stroke-width="1" />
<rect x="222.00" y="654.90" width="16.05" height="6.60" fill="#5a56e4" stroke="none" stroke-width="1" />
<rect x="238.00" y="654.90" width="9.35" height="6.60" fill="#2008c8" stroke="none" stroke-width="1" />
<rect x="247.30" y="654.90" width="1.75" height="6.60" fill="#450098" stroke="none" stroke-width="1" />
<rect x="63.00" y="654.90" width="0.60" height="6.60" fill="rgba(0,0,0,0.035)" stroke="none" stroke-width="1" />
<rect x="67.30" y="654.90" width="0.60" height="6.60" fill="rgba(0,0,0,0.035)" stroke="none" stroke-width="1" />
<rect x="71.60" y="654.90" width="0.60" height="6.60" fill="rgba(0,0,0,0.035)" stroke="none" stroke-width="1" />
<rect x="75.90" y="654.90" width="0.60" height="6.60" fill="rgba(0,0,0,0.035)" stroke="none" stroke-width="1" />
<rect x="80.20" y="654.90" width="0.60" height="6.60" fill="rgba(0,0,0,0.035)" stroke="none" stroke-width="1" />
<rect x="84.50" y="654.90" width="0.60" height="6.60" fill="rgba(0,0,0,0.035)" stroke="none" stroke-width="1" />
<rect x="88.80" y="654.90" width="0.60" height="6.60" fill="rgba(0,0,0,0.035)" stroke="none" stroke-width="1" />
<rect x="93.10" y="654.90" width="0.60" height="6.60" fill="rgba(0,0,0,0.035)" stroke="none" stroke-width="1" />
<rect x="97.40" y="654.90" width="0.60" height="6.60" fill="rgba(0,0,0,0.035)" stroke="none" stroke-width="1" />
<rect x="101.70" y="654.90" width="0.60" height="6.60" fill="rgba(0,0,0,0.035)" stroke="none" stroke-width="1" />
<rect x="106.00" y="654.90" width="0.60" height="6.60" fill="rgba(0,0,0,0.035)" stroke="none" stroke-width="1" />
<rect x="110.30" y="654.90" width="0.60" height="6.60" fill="rgba(0,0,0,0.035)" stroke="none" stroke-width="1" />
<rect x="114.60" y="654.90" width="0.60" height="6.60" fill="rgba(0,0,0,0.035)" stroke="none" stroke-width="1" />
<rect x="118.90" y="654.90" width="0.60" height="6.60" fill="rgba(0,0,0,0.035)" stroke="none" stroke-width="1" />
<rect x="123.20" y="654.90" width="0.60" height="6.60" fill="rgba(0,0,0,0.035)" stroke="none" stroke-width="1" />
<rect x="127.50" y="654.90" width="0.60" height="6.60" fill="rgba(0,0,0,0.035)" stroke="none" stroke-width="1" />
<rect x="131.80" y="654.90" width="0.60" height="6.60" fill="rgba(0,0,0,0.035)" stroke="none" stroke-width="1" />
<rect x="136.10" y="654.90" width="0.60" height="6.60" fill="rgba(0,0,0,0.035)" stroke="none" stroke-width="1" />
<rect x="140.40" y="654.90" width="0.60" height="6.60" fill="rgba(0,0,0,0.035)" stroke="none" stroke-width="1" />
<rect x="144.70" y="654.90" width="0.60" height="6.60" fill="rgba(0,0,0,0.035)" stroke="none" stroke-width="1" />
<rect x="149.00" y="654.90" width="0.60" height="6.60" fill="rgba(0,0,0,0.035)" stroke="none" stroke-width="1" />
<rect x="153.30" y="654.90" width="0.60" height="6.60" fill="rgba(0,0,0,0.035)" stroke="none" stroke-width="1" />
<rect x="157.60" y="654.90" width="0.60" height="6.60" fill="rgba(0,0,0,0.035)" stroke="none" stroke-width="1" />
<rect x="161.90" y="654.90" width="0.60" height="6.60" fill="rgba(0,0,0,0.035)" stroke="none" stroke-width="1" />
<rect x="166.20" y="654.90" width="0.60" height="6.60" fill="rgba(0,0,0,0.035)" stroke="none" stroke-width="1" />
<rect x="170.50" y="654.90" width="0.60" height="6.60" fill="rgba(0,0,0,0.035)" stroke="none" stroke-width="1" />
<rect x="174.80" y="654.90" width="0.60" height="6.60" fill="rgba(0,0,0,0.035)" stroke="none" stroke-width="1" />
<rect x="179.10" y="654.90" width="0.60" height="6.60" fill="rgba(0,0,0,0.035)" stroke="none" stroke-width="1" />
<rect x="183.40" y="654.90" width="0.60" height="6.60" fill="rgba(0,0,0,0.035)" stroke="none" stroke-width="1" />
<rect x="187.70" y="654.90" width="0.60" height="6.60" fill="rgba(0,0,0,0.035)" stroke="none" stroke-width="1" />
<rect x="192.00" y="654.90" width="0.60" height="6.60" fill="rgba(0,0,0,0.035)" stroke="none" stroke-width="1" />
<rect x="196.30" y="654.90" width="0.60" height="6.60" fill="rgba(0,0,0,0.035)" stroke="none" stroke-width="1" />
<rect x="200.60" y="654.90" width="0.60" height="6.60" fill="rgba(0,0,0,0.035)" stroke="none" stroke-width="1" />
<rect x="204.90" y="654.90" width="0.60" height="6.60" fill="rgba(0,0,0,0.035)" stroke="none" stroke-width="1" />
<rect x="209.20" y="654.90" width="0.60" height="6.60" fill="rgba(0,0,0,0.035)" stroke="none" stroke-width="1" />
<rect x="213.50" y="654.90" width="0.60" height="6.60" fill="rgba(0,0,0,0.035)" stroke="none" stroke-width="1" />
<rect x="217.80" y="654.90" width="0.60" height="6.60" fill="rgba(0,0,0,0.035)" stroke="none" stroke-width="1" />
<rect x="222.10" y="654.90" width="0.60" height="6.60" fill="rgba(0,0,0,0.035)" stroke="none" stroke-width="1" />
<rect x="226.40" y="654.90" width="0.60" height="6.60" fill="rgba(0,0,0,0.035)" stroke="none" stroke-width="1" />
<rect x="230.70" y="654.90" width="0.60" height="6.60" fill="rgba(0,0,0,0.035)" stroke="none" stroke-width="1" />
<rect x="235.00" y="654.90" width="0.60" height="6.60" fill="rgba(0,0,0,0.035)" stroke="none" stroke-width="1" />
<rect x="239.30" y="654.90" width="0.60" height="6.60" fill="rgba(0,0,0,0.035)" stroke="none" stroke-width="1" />
<rect x="243.60" y="654.90" width="0.60" height="6.60" fill="rgba(0,0,0,0.035)" stroke="none" stroke-width="1" />
<path d="M59.60,697.00 L59.60,685.60 L60.50,687.40 L61.50,689.20 L63.70,690.80 L67.00,692.20 L71.40,693.30 L78.00,694.10 L84.80,694.60 L95.00,695.30 L104.00,695.80 L118.00,696.30 L133.00,696.60 L147.30,696.90 L160.00,697.30 L175.00,698.00 L192.30,699.00 L210.00,699.80 L224.00,700.60 L232.00,701.20 L238.80,702.30 L243.00,703.40 L246.00,704.60 L247.60,705.70 L248.20,712.40 L248.50,721.90 L248.80,697.00 Z" fill="#c4c4c4" stroke="none" stroke-width="1" />
<line x1="59.40" y1="697.00" x2="248.80" y2="697.00" stroke="#bdbdbd" stroke-width="0.6" />
<line x1="59.40" y1="594.80" x2="258.90" y2="594.80" stroke="#000" stroke-width="1.3" />
<path d="M59.40,594.70 L60.00,584.60 L60.70,572.50 L61.10,563.40 L62.10,559.50 L63.50,555.20 L64.70,552.99 L66.10,552.14 L67.10,552.95 L68.10,554.32 L69.50,552.77 L71.20,548.13 L72.20,546.23 L73.20,544.77 L74.20,545.32 L75.20,545.84 L76.80,544.87 L78.00,546.24 L79.20,547.54 L80.22,546.83 L81.25,547.14 L82.28,546.63 L83.30,546.85 L84.90,542.56 L86.30,537.12 L87.30,533.66 L88.30,532.99 L89.30,531.75 L90.90,532.43 L92.15,532.92 L93.40,534.91 L94.40,535.98 L95.40,536.94 L96.40,537.26 L97.70,538.33 L99.00,538.86 L100.20,538.42 L101.40,538.57 L102.45,538.92 L103.50,540.19 L104.50,540.84 L105.50,540.66 L106.50,541.16 L107.50,542.24 L108.50,543.22 L109.50,543.77 L110.50,545.23 L111.52,546.10 L112.54,545.50 L113.56,546.76 L114.58,546.92 L115.60,547.08 L116.50,548.25 L117.40,548.07 L118.30,547.63 L119.20,548.33 L120.40,550.00 L121.60,551.23 L122.62,552.21 L123.63,552.61 L124.65,553.53 L125.67,554.47 L126.68,554.40 L127.70,555.37 L128.70,555.68 L129.70,556.42 L130.70,556.50 L131.70,557.26 L132.70,557.93 L133.61,559.05 L134.52,559.88 L135.43,559.76 L136.34,560.68 L137.25,561.93 L138.16,561.74 L139.07,563.02 L139.98,563.89 L140.89,565.10 L141.80,565.64 L142.81,566.17 L143.83,567.05 L144.84,567.97 L145.85,569.48 L146.86,569.69 L147.88,570.62 L148.89,571.74 L149.90,572.46 L150.92,573.37 L151.94,573.99 L152.96,575.32 L153.98,576.10 L155.00,577.61 L156.01,578.30 L157.03,578.94 L158.04,580.06 L159.05,580.58 L160.06,581.94 L161.07,582.45 L162.09,583.53 L163.10,583.75 L164.10,585.27 L165.10,585.51 L166.10,586.34 L167.10,587.89 L168.10,588.64 L169.10,589.96 L170.12,591.19 L171.15,590.61 L172.17,591.18 L173.20,591.97 L174.20,593.10 L175.20,593.89 L176.20,594.90 L177.20,596.25 L178.22,596.78 L179.25,596.84 L180.28,597.77 L181.30,598.41 L182.30,598.69 L183.30,599.81 L184.30,600.07 L185.30,601.37 L186.30,601.75 L187.30,602.37 L188.30,602.79 L189.32,603.64 L190.34,603.66 L191.36,604.64 L192.38,605.85 L193.40,605.66 L194.50,607.87 L195.60,608.14 L196.70,610.19 L197.80,610.80 L199.00,611.04 L200.20,610.48 L201.40,609.56 L202.43,610.00 L203.47,609.54 L204.50,608.48 L205.63,608.54 L206.77,608.71 L207.90,608.56 L209.20,610.08 L210.50,610.31 L211.52,610.96 L212.54,611.18 L213.56,611.72 L214.58,611.97 L215.60,613.34 L216.60,613.25 L217.60,614.04 L218.60,614.10 L219.60,614.26 L220.60,615.42 L221.60,616.37 L222.60,617.60 L223.65,615.72 L224.70,614.00 L225.70,613.50 L226.70,613.58 L227.70,614.32 L228.70,613.39 L229.70,613.13 L230.70,613.15 L231.70,613.06 L232.70,611.59 L233.73,610.83 L234.77,609.48 L235.80,607.88 L236.80,607.48 L237.80,605.94 L238.80,604.70 L239.80,603.14 L240.80,601.89 L241.80,599.88 L242.80,598.35 L243.85,596.81 L244.90,595.57 L246.20,594.92 L247.50,592.72 L248.30,595.30" fill="none" stroke="#7dff1f" stroke-width="1.6" stroke-linejoin="round"/>
<rect x="59.40" y="527.10" width="199.50" height="198.90" fill="none" stroke="#000" stroke-width="1.6" />
<line x1="54.60" y1="541.00" x2="59.40" y2="541.00" stroke="#000" stroke-width="1.3" />
<text x="49.60" y="545.10" font-size="11.7" text-anchor="end" fill="#1a1a1a" stroke="#1a1a1a" stroke-width="0.25" >0.3</text>
<line x1="54.60" y1="558.93" x2="59.40" y2="558.93" stroke="#000" stroke-width="1.3" />
<text x="49.60" y="563.03" font-size="11.7" text-anchor="end" fill="#1a1a1a" stroke="#1a1a1a" stroke-width="0.25" >0.2</text>
<line x1="54.60" y1="576.87" x2="59.40" y2="576.87" stroke="#000" stroke-width="1.3" />
<text x="49.60" y="580.97" font-size="11.7" text-anchor="end" fill="#1a1a1a" stroke="#1a1a1a" stroke-width="0.25" >0.1</text>
<line x1="54.60" y1="594.80" x2="59.40" y2="594.80" stroke="#000" stroke-width="1.3" />
<text x="49.60" y="598.90" font-size="11.7" text-anchor="end" fill="#1a1a1a" stroke="#1a1a1a" stroke-width="0.25" >0</text>
<line x1="54.60" y1="666.40" x2="59.40" y2="666.40" stroke="#000" stroke-width="1.3" />
<text x="50.00" y="670.50" font-size="11.7" text-anchor="end" fill="#1a1a1a" stroke="#1a1a1a" stroke-width="0.25" >2</text>
<line x1="54.60" y1="681.65" x2="59.40" y2="681.65" stroke="#000" stroke-width="1.3" />
<text x="50.00" y="685.75" font-size="11.7" text-anchor="end" fill="#1a1a1a" stroke="#1a1a1a" stroke-width="0.25" >1</text>
<line x1="54.60" y1="696.90" x2="59.40" y2="696.90" stroke="#000" stroke-width="1.3" />
<text x="50.00" y="701.00" font-size="11.7" text-anchor="end" fill="#1a1a1a" stroke="#1a1a1a" stroke-width="0.25" >0</text>
<line x1="54.60" y1="712.15" x2="59.40" y2="712.15" stroke="#000" stroke-width="1.3" />
<text x="50.00" y="716.25" font-size="11.7" text-anchor="end" fill="#1a1a1a" stroke="#1a1a1a" stroke-width="0.25" >-1</text>
<text x="59.40" y="745.70" font-size="11.7" text-anchor="middle" fill="#1a1a1a" stroke="#1a1a1a" stroke-width="0.25" >0</text>
<line x1="101.70" y1="726.00" x2="101.70" y2="730.50" stroke="#000" stroke-width="1.3" />
<text x="101.70" y="745.70" font-size="11.7" text-anchor="middle" fill="#1a1a1a" stroke="#1a1a1a" stroke-width="0.25" >5000</text>
<line x1="142.30" y1="726.00" x2="142.30" y2="730.50" stroke="#000" stroke-width="1.3" />
<text x="142.30" y="745.70" font-size="11.7" text-anchor="middle" fill="#1a1a1a" stroke="#1a1a1a" stroke-width="0.25" >10000</text>
<line x1="183.80" y1="726.00" x2="183.80" y2="730.50" stroke="#000" stroke-width="1.3" />
<text x="183.80" y="745.70" font-size="11.7" text-anchor="middle" fill="#1a1a1a" stroke="#1a1a1a" stroke-width="0.25" >15000</text>
<line x1="230.30" y1="726.00" x2="230.30" y2="730.50" stroke="#000" stroke-width="1.3" />
<text x="230.30" y="745.70" font-size="11.7" text-anchor="middle" fill="#1a1a1a" stroke="#1a1a1a" stroke-width="0.25" >20000</text>
<text x="61.50" y="672.30" font-size="11.5" text-anchor="start" fill="#1a1a1a" stroke="#1a1a1a" stroke-width="0.25" textLength="102.40" lengthAdjust="spacingAndGlyphs" >Positively correlated</text>
<text x="255.20" y="720.60" font-size="11.5" text-anchor="end" fill="#1a1a1a" stroke="#1a1a1a" stroke-width="0.25" textLength="110.40" lengthAdjust="spacingAndGlyphs" >Negatively correlated</text>
<text x="158.90" y="766.10" font-size="14.5" text-anchor="middle" fill="#1a1a1a" stroke="#1a1a1a" stroke-width="0.25" textLength="134.50" lengthAdjust="spacingAndGlyphs" >Ranked in ordered dataset</text>
<text x="25.00" y="568.00" font-size="14" text-anchor="middle" fill="#1a1a1a" stroke="#1a1a1a" stroke-width="0.25" textLength="87.20" lengthAdjust="spacingAndGlyphs" transform="rotate(-90 25.00 568.00)" >Enrichment score</text>
<text x="25.00" y="689.10" font-size="14" text-anchor="middle" fill="#1a1a1a" stroke="#1a1a1a" stroke-width="0.25" textLength="55.80" lengthAdjust="spacingAndGlyphs" transform="rotate(-90 25.00 689.10)" >Ranked list</text>
<line x1="76.00" y1="790.20" x2="89.90" y2="790.20" stroke="#6ad04a" stroke-width="1.8" />
<text x="95.00" y="793.10" font-size="11.5" text-anchor="start" fill="#1a1a1a" stroke="#1a1a1a" stroke-width="0.25" textLength="93.90" lengthAdjust="spacingAndGlyphs" >Enrichment profile</text>
<line x1="202.90" y1="790.20" x2="216.80" y2="790.20" stroke="#000" stroke-width="1.8" />
<text x="221.90" y="793.10" font-size="11.5" text-anchor="start" fill="#1a1a1a" stroke="#1a1a1a" stroke-width="0.25" textLength="19.90" lengthAdjust="spacingAndGlyphs" >Hits</text>
<line x1="76.00" y1="808.40" x2="89.90" y2="808.40" stroke="#b0b0b0" stroke-width="1.8" />
<text x="95.00" y="811.80" font-size="11.5" text-anchor="start" fill="#1a1a1a" stroke="#1a1a1a" stroke-width="0.25" textLength="112.10" lengthAdjust="spacingAndGlyphs" >Ranking metric scores</text></svg>
</body></html>
